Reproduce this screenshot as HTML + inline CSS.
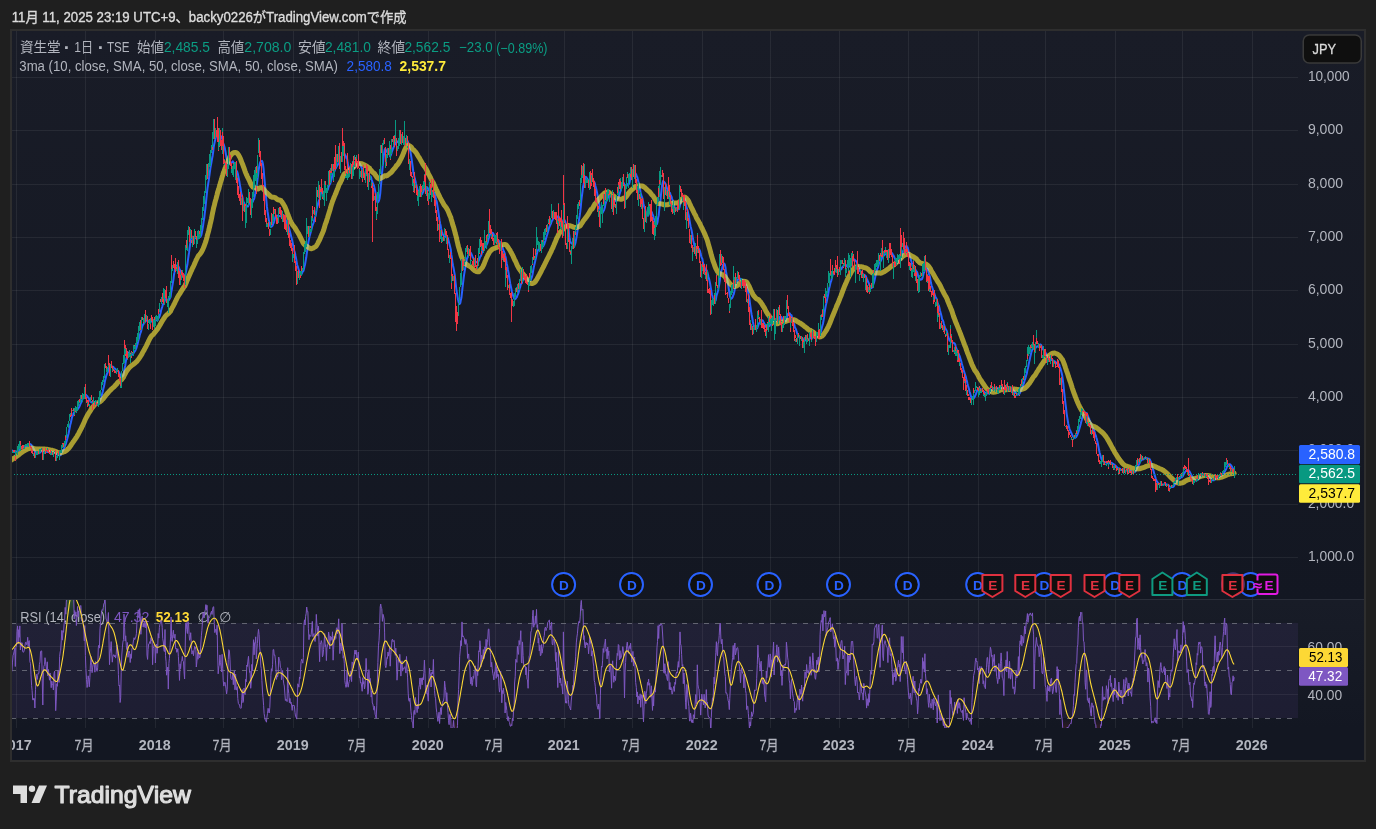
<!DOCTYPE html>
<html><head><meta charset="utf-8"><title>資生堂 chart</title>
<style>
html,body{margin:0;padding:0;background:#1f1f1f;width:1376px;height:829px;overflow:hidden;position:relative}
.panel{position:absolute;left:10px;top:29px;width:1352px;height:729px;border:2px solid #2e2e2e;background:#131722}
.u{stroke:#089981}.d{stroke:#f23645}
.logo{position:absolute;left:12px;top:784px}
</style></head><body>
<div class="panel"></div>
<svg width="1376" height="829" viewBox="0 0 1376 829" style="position:absolute;left:0;top:0">
<defs>
<linearGradient id="gm" x1="0" y1="0" x2="0" y2="1"><stop offset="0" stop-color="#191c27"/><stop offset="1" stop-color="#131722"/></linearGradient>
<linearGradient id="gr" x1="0" y1="0" x2="0" y2="1"><stop offset="0" stop-color="#181c27"/><stop offset="1" stop-color="#131722"/></linearGradient>
<linearGradient id="gob" gradientUnits="userSpaceOnUse" x1="0" y1="552.1" x2="0" y2="623.4"><stop offset="0" stop-color="#4caf50" stop-opacity="1"/><stop offset="1" stop-color="#4caf50" stop-opacity="0"/></linearGradient>
<linearGradient id="gos" gradientUnits="userSpaceOnUse" x1="0" y1="718.5" x2="0" y2="789.8"><stop offset="0" stop-color="#f23645" stop-opacity="0"/><stop offset="1" stop-color="#f23645" stop-opacity="1"/></linearGradient>
<clipPath id="cm"><rect x="12" y="31" width="1286" height="568"/></clipPath>
<clipPath id="ct"><rect x="12" y="729" width="1286" height="30"/></clipPath>
<clipPath id="cr"><rect x="12" y="600" width="1286" height="128"/></clipPath>
</defs>
<rect x="12" y="31" width="1352" height="568" fill="url(#gm)"/>
<rect x="12" y="600" width="1352" height="129" fill="url(#gr)"/>
<rect x="12" y="729" width="1352" height="30" fill="#131722"/>
<rect x="12" y="599" width="1352" height="1" fill="#2a2e39"/>
<path d="M16.5 31V599M16.5 600V728M85.5 31V599M85.5 600V728M155.5 31V599M155.5 600V728M223.5 31V599M223.5 600V728M293.5 31V599M293.5 600V728M358.5 31V599M358.5 600V728M428.5 31V599M428.5 600V728M495.5 31V599M495.5 600V728M564.5 31V599M564.5 600V728M632.5 31V599M632.5 600V728M702.5 31V599M702.5 600V728M770.5 31V599M770.5 600V728M839.5 31V599M839.5 600V728M908.5 31V599M908.5 600V728M978.5 31V599M978.5 600V728M1045.5 31V599M1045.5 600V728M1115.5 31V599M1115.5 600V728M1182.5 31V599M1182.5 600V728M1252.5 31V599M1252.5 600V728" stroke="#ffffff" stroke-opacity="0.065" stroke-width="1" fill="none" shape-rendering="crispEdges"/>
<path d="M12 77.5H1298M12 130.5H1298M12 184.5H1298M12 237.5H1298M12 290.5H1298M12 344.5H1298M12 397.5H1298M12 450.5H1298M12 504.5H1298M12 557.5H1298M12 646.5H1298M12 694.5H1298" stroke="#ffffff" stroke-opacity="0.065" stroke-width="1" fill="none" shape-rendering="crispEdges"/>
<g clip-path="url(#cm)">
<path d="M10.3 449.2L10.8 449.5L11.4 450.1L12 450.5L12.5 451.1L13.1 451.3L13.6 451.5L14.2 451.7L14.8 451.7L15.3 452.1L15.9 451.7L16.5 452L17 451.5L17.6 450.9L18.1 450.7L18.7 450.3L19.3 449.9L19.8 449.1L20.4 448.9L20.9 447.9L21.5 447.4L22.1 446.8L22.6 446.7L23.2 446.8L23.7 446.5L24.3 446.6L24.9 446.4L25.4 446.6L26 446.1L26.5 445.9L27.1 445.7L27.7 445.4L28.2 445.1L28.8 444.6L29.3 444.1L29.9 444.1L30.5 444.2L31 444.6L31.6 445.2L32.1 446L32.7 446.9L33.3 448.1L33.8 449.1L34.4 450.2L34.9 451.6L35.5 452.4L36.1 453L36.6 453.4L37.2 453.6L37.7 453.6L38.3 453.4L38.9 453.2L39.4 452.9L40 452.6L40.5 451.9L41.1 451.4L41.7 451L42.2 451.1L42.8 451.7L43.4 451.9L43.9 451.9L44.5 451.8L45 451.6L45.6 451.6L46.2 451.7L46.7 452L47.3 452L47.8 452L48.4 451.1L49 450.9L49.5 451L50.1 451L50.6 451.3L51.2 451.6L51.8 451.8L52.3 451.9L52.9 452.3L53.4 452.5L54 452.6L54.6 452.5L55.1 452.6L55.7 453.4L56.2 454.1L56.8 454.4L57.4 454.8L57.9 454.9L58.5 455L59 455.3L59.6 455.4L60.2 455.3L60.7 455.1L61.3 453.8L61.8 452.5L62.4 451.6L63 450.5L63.5 449.6L64.1 448.4L64.6 446.9L65.2 445.3L65.8 444L66.3 442.3L66.9 440.2L67.4 438.2L68 435.8L68.6 433.4L69.1 430.7L69.7 427.8L70.2 425.1L70.8 423L71.4 420.1L71.9 417.7L72.5 416.1L73.1 414.6L73.6 413.1L74.2 412.4L74.7 411.5L75.3 411.1L75.9 410.5L76.4 410.2L77 410.1L77.5 409.3L78.1 408.7L78.7 407.8L79.2 407L79.8 405.6L80.3 404.3L80.9 402.9L81.5 401.9L82 400.3L82.6 398.9L83.1 398.2L83.7 397.2L84.3 396.7L84.8 395.4L85.4 394.8L85.9 394.8L86.5 395.4L87.1 395.9L87.6 396.8L88.2 397.5L88.7 398.3L89.3 399.5L89.9 400.3L90.4 401.6L91 402L91.5 402.2L92.1 402.5L92.7 402.3L93.2 402.1L93.8 402.2L94.3 402.1L94.9 401.9L95.5 401.6L96 401.8L96.6 402.5L97.1 403L97.7 403.1L98.3 402.7L98.8 402.3L99.4 402L100 401L100.5 399.6L101.1 398L101.6 396.1L102.2 393.8L102.8 391.5L103.3 389L103.9 386.7L104.4 384.4L105 380.9L105.6 378.5L106.1 376.4L106.7 374.7L107.2 373.4L107.8 372L108.4 369.8L108.9 368.2L109.5 368L110 367.3L110.6 367.4L111.2 366.8L111.7 366.5L112.3 366.6L112.8 366.7L113.4 366.9L114 368L114.5 368.8L115.1 368.6L115.6 369.1L116.2 369.7L116.8 370.4L117.3 370.7L117.9 370.7L118.4 371.2L119 372.2L119.6 373.2L120.1 374.7L120.7 376.2L121.2 376.8L121.8 376.7L122.4 376.5L122.9 376L123.5 375.2L124 371.8L124.6 368.5L125.2 365.9L125.7 362.2L126.3 359.2L126.8 357L127.4 355.1L128 354.2L128.5 353.2L129.1 352.3L129.7 353.5L130.2 354.6L130.8 354.6L131.3 355.2L131.9 354.9L132.5 354.4L133 354.2L133.6 353.1L134.1 352.2L134.7 351.5L135.3 350.7L135.8 349.3L136.4 348.1L136.9 346.2L137.5 344.3L138.1 341.9L138.6 339.6L139.2 337.8L139.7 335.5L140.3 333.4L140.9 331.9L141.4 330L142 327.6L142.5 325.8L143.1 324.6L143.7 323.9L144.2 323.2L144.8 322.1L145.3 321.6L145.9 321L146.5 319.5L147 319.5L147.6 320.5L148.1 321L148.7 320.9L149.3 321L149.8 321L150.4 321.3L150.9 321.4L151.5 321.4L152.1 321.7L152.6 321.8L153.2 321.1L153.7 320.6L154.3 320.5L154.9 320.3L155.4 320.7L156 320.4L156.6 320.2L157.1 320.3L157.7 320.2L158.2 318.7L158.8 317.9L159.4 316.6L159.9 315.1L160.5 313.3L161 310.8L161.6 308.8L162.2 307L162.7 305.1L163.3 303.5L163.8 302.7L164.4 301.7L165 300L165.5 299.2L166.1 298.9L166.6 299.3L167.2 299.7L167.8 299.8L168.3 300.6L168.9 300.1L169.4 299.3L170 297.9L170.6 297L171.1 293.1L171.7 290.1L172.2 286.8L172.8 283.3L173.4 279.6L173.9 275.3L174.5 272.2L175 268.9L175.6 267L176.2 265.5L176.7 266.7L177.3 266.6L177.8 266L178.4 266.3L179 267.6L179.5 269.3L180.1 270.1L180.6 271.7L181.2 272.2L181.8 272.9L182.3 273.3L182.9 274L183.5 275.1L184 276.3L184.6 277.5L185.1 276.3L185.7 273.4L186.3 270L186.8 267.2L187.4 264.5L187.9 260.5L188.5 256.1L189.1 252.2L189.6 248.1L190.2 243.2L190.7 239.2L191.3 238.4L191.9 238.2L192.4 237.6L193 236.6L193.5 237.5L194.1 238.2L194.7 238L195.2 237.6L195.8 237.3L196.3 238.7L196.9 239.1L197.5 238.5L198 238.4L198.6 237.9L199.1 237.3L199.7 237.1L200.3 237L200.8 236.2L201.4 234.9L201.9 232.2L202.5 229L203.1 225.4L203.6 221.5L204.2 218.3L204.7 214L205.3 209.2L205.9 203.4L206.4 198.3L207 192.7L207.5 188.1L208.1 184.3L208.7 180.7L209.2 176.8L209.8 172.6L210.3 168.9L210.9 165.2L211.5 162.1L212 159L212.6 156L213.2 151.6L213.7 147.1L214.3 144L214.8 141.5L215.4 139L216 136.8L216.5 135L217.1 132.5L217.6 131.1L218.2 132.1L218.8 133.4L219.3 135L219.9 135.2L220.4 135.5L221 136.5L221.6 138.3L222.1 138.4L222.7 140.8L223.2 143L223.8 144.6L224.4 146.5L224.9 148.6L225.5 151.8L226 154.8L226.6 158L227.2 160.6L227.7 163.7L228.3 164.9L228.8 164.3L229.4 162.9L230 162.2L230.5 162.4L231.1 162.7L231.6 162.7L232.2 162.2L232.8 161.4L233.3 162.2L233.9 163.3L234.4 164.8L235 167.7L235.6 168.8L236.1 170L236.7 171L237.2 171.8L237.8 173.8L238.4 176.8L238.9 179.2L239.5 182.3L240.1 186.1L240.6 188.8L241.2 192.6L241.7 195.1L242.3 196.8L242.9 199.8L243.4 201.8L244 202.6L244.5 203.8L245.1 205.4L245.7 206L246.2 206.6L246.8 206.3L247.3 206.4L247.9 206.5L248.5 205.1L249 203.8L249.6 203.6L250.1 202.7L250.7 202.6L251.3 202.9L251.8 201.9L252.4 202.3L252.9 201.5L253.5 199.7L254.1 199L254.6 196.7L255.2 194L255.7 190.5L256.3 187.5L256.9 183.9L257.4 180.5L258 175.6L258.5 170.7L259.1 167.5L259.7 164.2L260.2 162.3L260.8 161.4L261.3 161.5L261.9 160.8L262.5 162L263 164.4L263.6 168.9L264.1 175.3L264.7 181.9L265.3 188.3L265.8 194.6L266.4 200.7L266.9 206.4L267.5 211.2L268.1 214.9L268.6 218.6L269.2 222.1L269.8 224.6L270.3 226.4L270.9 226.7L271.4 226.7L272 226.2L272.6 225.6L273.1 224.2L273.7 222.9L274.2 221.3L274.8 218.9L275.4 216.8L275.9 215.4L276.5 215.6L277 215.8L277.6 215.8L278.2 215.8L278.7 215.9L279.3 216.1L279.8 216L280.4 216.3L281 216.3L281.5 216.5L282.1 215.8L282.6 215.1L283.2 214.9L283.8 215.1L284.3 216.1L284.9 217.4L285.4 219.2L286 220.7L286.6 222.3L287.1 223.6L287.7 224L288.2 225.7L288.8 227.4L289.4 229.6L289.9 231.6L290.5 233.8L291 235.7L291.6 237.9L292.2 240.6L292.7 242.9L293.3 246.4L293.8 248.8L294.4 251L295 253L295.5 255.8L296.1 258.6L296.7 262.1L297.2 265L297.8 266.6L298.3 268.4L298.9 270.4L299.5 272.1L300 273.8L300.6 274.7L301.1 274.5L301.7 273.8L302.3 272.5L302.8 271.6L303.4 271.1L303.9 269.2L304.5 266.5L305.1 264.2L305.6 261.1L306.2 257.8L306.7 254L307.3 250.2L307.9 246.1L308.4 242.2L309 239L309.5 236.5L310.1 234.5L310.7 232.3L311.2 230.4L311.8 228.2L312.3 226.1L312.9 224.5L313.5 223L314 220.9L314.6 218.8L315.1 217.2L315.7 215.6L316.3 211.7L316.8 208.5L317.4 206.2L317.9 204.8L318.5 202L319.1 200.1L319.6 199.3L320.2 196.8L320.7 194.2L321.3 191.7L321.9 191.6L322.4 192L323 192.2L323.6 191.8L324.1 192.1L324.7 190.9L325.2 189.5L325.8 189.4L326.4 190.2L326.9 190.4L327.5 190.2L328 189L328.6 186.8L329.2 185.1L329.7 184.5L330.3 183.4L330.8 181.7L331.4 179.8L332 177L332.5 174.5L333.1 173.9L333.6 172.9L334.2 171.7L334.8 170.6L335.3 168.7L335.9 168.2L336.4 166.9L337 165.9L337.6 165L338.1 164.4L338.7 161.2L339.2 159.3L339.8 160L340.4 159.7L340.9 159.2L341.5 158.8L342 155.9L342.6 154.7L343.2 153.9L343.7 152.9L344.3 153.4L344.8 154.8L345.4 155.3L346 156.7L346.5 158.5L347.1 158.5L347.6 162.8L348.2 165.7L348.8 167.4L349.3 169.6L349.9 171.3L350.4 170.8L351 170.1L351.6 170.2L352.1 169.1L352.7 169.6L353.3 169.4L353.8 168.6L354.4 167.8L354.9 166.8L355.5 166.1L356.1 165.6L356.6 165.2L357.2 164L357.7 163.9L358.3 163.1L358.9 162.6L359.4 163L360 163.8L360.5 165.3L361.1 166.3L361.7 167.9L362.2 169.4L362.8 170.1L363.3 171.4L363.9 173.1L364.5 174.5L365 175.2L365.6 175.4L366.1 174.5L366.7 174.4L367.3 174.1L367.8 174.8L368.4 176.2L368.9 175.9L369.5 176.5L370.1 176.3L370.6 176.4L371.2 177.9L371.7 179.7L372.3 181.6L372.9 183.5L373.4 184.3L374 185.6L374.5 188L375.1 190.6L375.7 193.9L376.2 197.6L376.8 200L377.3 202.1L377.9 202.4L378.5 201.7L379 200.5L379.6 198.2L380.2 193.8L380.7 187.9L381.3 181.9L381.8 175.2L382.4 169.4L383 163.5L383.5 158.2L384.1 153.7L384.6 149.8L385.2 148.6L385.8 149.8L386.3 151.2L386.9 151.7L387.4 152.4L388 152L388.6 153L389.1 154L389.7 154.8L390.2 156.4L390.8 155.2L391.4 153.6L391.9 151.5L392.5 150.1L393 148.7L393.6 147.5L394.2 145.8L394.7 144.6L395.3 144.2L395.8 141.9L396.4 140.9L397 141.3L397.5 142.1L398.1 141.8L398.6 141.5L399.2 141.5L399.8 141.1L400.3 140.8L400.9 140.9L401.4 140.9L402 140.2L402.6 138.9L403.1 137.9L403.7 138.2L404.2 138.4L404.8 138.5L405.4 139.5L405.9 140.2L406.5 139.5L407 139.9L407.6 141.2L408.2 142.7L408.7 144.9L409.3 147.1L409.9 149.2L410.4 151.8L411 154.9L411.5 158.1L412.1 162.7L412.7 166.8L413.2 171.2L413.8 174.1L414.3 176.4L414.9 179.1L415.5 181.3L416 183.7L416.6 185.7L417.1 188.2L417.7 189.8L418.3 191.8L418.8 192.2L419.4 193L419.9 193.4L420.5 193.9L421.1 194.3L421.6 194.2L422.2 194L422.7 192.7L423.3 191.7L423.9 189.8L424.4 187.9L425 186.8L425.5 187.1L426.1 186.9L426.7 187L427.2 187.4L427.8 188.1L428.3 189.7L428.9 190.3L429.5 190.5L430 191.9L430.6 192.8L431.1 193.7L431.7 193.7L432.3 194.2L432.8 194.3L433.4 193L433.9 192.3L434.5 193.4L435.1 195.6L435.6 197.5L436.2 200L436.8 201.9L437.3 205.1L437.9 208.8L438.4 212.2L439 216.3L439.6 220.5L440.1 223.5L440.7 225.8L441.2 229L441.8 231.3L442.4 233.2L442.9 234.5L443.5 235.3L444 236.2L444.6 236.6L445.2 236.1L445.7 236.2L446.3 237.2L446.8 236.8L447.4 237.5L448 238.6L448.5 240.5L449.1 242.7L449.6 244.5L450.2 246.9L450.8 249.4L451.3 254.4L451.9 258L452.4 262.1L453 265.5L453.6 268.2L454.1 271.1L454.7 274.4L455.2 279.2L455.8 284.4L456.4 289.8L456.9 292.9L457.5 296.6L458 299.5L458.6 301.9L459.2 303.9L459.7 303.9L460.3 303L460.8 300.4L461.4 297.8L462 292.5L462.5 287.8L463.1 282.8L463.6 278.4L464.2 274.1L464.8 270.5L465.3 267.6L465.9 264.3L466.5 261.5L467 258.2L467.6 257.6L468.1 255.8L468.7 254.2L469.3 253.1L469.8 252.4L470.4 252.5L470.9 253L471.5 254L472.1 255.5L472.6 257.1L473.2 257.9L473.7 259L474.3 260.2L474.9 260.9L475.4 261.2L476 261.7L476.5 262.2L477.1 262.2L477.7 262.2L478.2 261.7L478.8 260.7L479.3 259.5L479.9 257.7L480.5 256.2L481 255.9L481.6 253.9L482.1 252L482.7 250.9L483.3 248.9L483.8 248L484.4 247.7L484.9 246.9L485.5 247L486.1 246.1L486.6 244.7L487.2 243.7L487.7 242.3L488.3 240L488.9 237.9L489.4 236.1L490 234.3L490.5 233.4L491.1 232.9L491.7 232.9L492.2 232.7L492.8 233L493.4 233.6L493.9 235.2L494.5 236.8L495 237.7L495.6 238.2L496.2 239.2L496.7 239.1L497.3 239.6L497.8 240.1L498.4 240.3L499 240.9L499.5 241.6L500.1 242.6L500.6 242.8L501.2 243.8L501.8 245.5L502.3 247.2L502.9 248.8L503.4 250.1L504 251.8L504.6 253L505.1 255.4L505.7 257.5L506.2 260.6L506.8 263.9L507.4 266.4L507.9 269.7L508.5 272.6L509 276.3L509.6 279.7L510.2 283.4L510.7 285.7L511.3 288.5L511.8 291.2L512.4 293.4L513 295.3L513.5 296.8L514.1 298.5L514.6 299L515.2 299.2L515.8 298.5L516.3 297.7L516.9 297L517.4 295.4L518 294.2L518.6 292.6L519.1 290.5L519.7 288.4L520.3 286.6L520.8 284.3L521.4 283.7L521.9 283L522.5 280.8L523.1 279.7L523.6 278.8L524.2 277.9L524.7 277.5L525.3 277.1L525.9 277.4L526.4 278L527 278L527.5 278.3L528.1 280.5L528.7 281.4L529.2 281.4L529.8 281.3L530.3 280.8L530.9 279.7L531.5 278.2L532 276.9L532.6 274.2L533.1 271L533.7 267.8L534.3 265.1L534.8 263.1L535.4 260.3L535.9 258.2L536.5 255.3L537.1 253.1L537.6 250.8L538.2 249.9L538.7 249.1L539.3 248.2L539.9 247.1L540.4 246.5L541 246.5L541.5 245.6L542.1 246.4L542.7 246.3L543.2 246.4L543.8 245.1L544.3 244.2L544.9 242.2L545.5 240.6L546 238.6L546.6 236.4L547.1 235L547.7 232.8L548.3 230.8L548.8 228.6L549.4 227L550 225.6L550.5 224.5L551.1 223.3L551.6 221.5L552.2 220.4L552.8 219.4L553.3 218.4L553.9 217.5L554.4 216.8L555 216.3L555.6 216L556.1 215.7L556.7 216.1L557.2 216.8L557.8 217.7L558.4 216.5L558.9 217.1L559.5 217.9L560 219.2L560.6 220L561.2 220.9L561.7 222.2L562.3 223.3L562.8 224.8L563.4 219.9L564 219.8L564.5 219.9L565.1 221.1L565.6 222.9L566.2 225L566.8 226.9L567.3 226.1L567.9 225.9L568.4 226.4L569 233.3L569.6 237.7L570.1 240.7L570.7 242.5L571.2 243L571.8 243.4L572.4 243.4L572.9 245.6L573.5 247.4L574 246.9L574.6 245.5L575.2 243.9L575.7 241.7L576.3 238.3L576.9 234.9L577.4 231.4L578 227.5L578.5 223.6L579.1 219.1L579.7 215.9L580.2 212.2L580.8 206.8L581.3 200.8L581.9 196.2L582.5 191.6L583 187L583.6 184.5L584.1 181.9L584.7 180.2L585.3 178.5L585.8 176.9L586.4 177.1L586.9 178.4L587.5 179L588.1 180.2L588.6 182.1L589.2 182L589.7 181.6L590.3 181L590.9 180.1L591.4 180.5L592 180.4L592.5 180.3L593.1 180.7L593.7 181.2L594.2 181.9L594.8 183.2L595.3 185.4L595.9 187.7L596.5 190.1L597 192.4L597.6 195.5L598.1 198.7L598.7 201.4L599.3 204.4L599.8 207.8L600.4 210.2L600.9 211.7L601.5 212.2L602.1 212.9L602.6 212.7L603.2 211.6L603.8 210.6L604.3 209.3L604.9 207.4L605.4 204.2L606 202.2L606.6 200.7L607.1 200.1L607.7 198.4L608.2 197.2L608.8 196.2L609.4 195.9L609.9 195.8L610.5 195.6L611 196.1L611.6 197.1L612.2 196.9L612.7 196.1L613.3 197L613.8 198.2L614.4 199.4L615 199.9L615.5 200.7L616.1 201.3L616.6 201L617.2 199.3L617.8 199L618.3 198.1L618.9 196.4L619.4 194.7L620 192.7L620.6 190.9L621.1 188.9L621.7 187.1L622.2 185.7L622.8 184.4L623.4 183.2L623.9 183.3L624.5 185.7L625 186.3L625.6 186.9L626.2 186.4L626.7 185.6L627.3 184.6L627.8 184.1L628.4 184.4L629 183.9L629.5 182.8L630.1 179.6L630.6 177.4L631.2 176L631.8 175.9L632.3 175.6L632.9 175.1L633.5 174.9L634 173.8L634.6 173L635.1 173L635.7 173.6L636.3 174.9L636.8 176.5L637.4 177.4L637.9 179.7L638.5 182.4L639.1 184.4L639.6 187.3L640.2 190L640.7 193.3L641.3 195.1L641.9 197L642.4 198.1L643 201L643.5 204L644.1 206.5L644.7 208L645.2 209.4L645.8 212L646.3 212.9L646.9 214.2L647.5 214.8L648 215.7L648.6 214.5L649.1 212.7L649.7 211.5L650.3 212.2L650.8 213L651.4 211.9L651.9 212.3L652.5 214L653.1 215.5L653.6 217.8L654.2 219.7L654.7 221.2L655.3 223.6L655.9 224.4L656.4 224.4L657 223.9L657.5 222.3L658.1 217.9L658.7 215.2L659.2 210L659.8 205.7L660.4 201.2L660.9 195.6L661.5 190.5L662 186L662.6 183.1L663.2 180.8L663.7 182L664.3 182.1L664.8 182.7L665.4 183.7L666 185.2L666.5 186.7L667.1 188.8L667.6 191L668.2 191.5L668.8 192.3L669.3 192.7L669.9 192.7L670.4 194.4L671 195.7L671.6 197L672.1 198.8L672.7 200.4L673.2 201.8L673.8 204.6L674.4 207L674.9 207.9L675.5 209.3L676 209.6L676.6 209.9L677.2 210L677.7 209.5L678.3 208.8L678.8 208.5L679.4 207.8L680 205.2L680.5 203.4L681.1 201.4L681.6 200.1L682.2 199.3L682.8 198.3L683.3 198.4L683.9 198.3L684.4 198.1L685 199L685.6 202.2L686.1 205.7L686.7 207.7L687.2 209.4L687.8 211.5L688.4 214.1L688.9 216.1L689.5 220.1L690.1 223.7L690.6 226.5L691.2 228.7L691.7 230.9L692.3 234.4L692.9 238.3L693.4 241L694 243.4L694.5 245.9L695.1 246.6L695.7 246.9L696.2 248.4L696.8 249.6L697.3 248.3L697.9 248.5L698.5 248.6L699 249L699.6 250.3L700.1 251.3L700.7 254.1L701.3 256.6L701.8 257.7L702.4 258.9L702.9 262.3L703.5 264.6L704.1 265.9L704.6 267.7L705.2 269.4L705.7 270.7L706.3 269.8L706.9 270.9L707.4 272.3L708 274.7L708.5 277L709.1 279L709.7 281.8L710.2 284.1L710.8 287.9L711.3 291L711.9 294.5L712.5 296.3L713 298.9L713.6 299.7L714.1 300L714.7 301.2L715.3 301L715.8 300.1L716.4 296.2L717 294L717.5 292.6L718.1 290.5L718.6 287.7L719.2 284.7L719.8 280.8L720.3 275.7L720.9 272.7L721.4 270.6L722 268.8L722.6 266.5L723.1 264.5L723.7 263.6L724.2 263.4L724.8 264.4L725.4 266.9L725.9 271.1L726.5 274.3L727 277.3L727.6 281.2L728.2 285L728.7 288.4L729.3 292.5L729.8 295.6L730.4 297.6L731 298.9L731.5 298.6L732.1 298L732.6 297.2L733.2 295.4L733.8 294L734.3 291.8L734.9 288.5L735.4 286.3L736 284.5L736.6 283L737.1 281.5L737.7 280.1L738.2 279L738.8 279L739.4 278.2L739.9 278.4L740.5 279.5L741 279.5L741.6 279.3L742.2 279.7L742.7 280.3L743.3 281.1L743.9 282.4L744.4 282.7L745 283.3L745.5 284.1L746.1 284.5L746.7 286.3L747.2 288.4L747.8 290.4L748.3 292.8L748.9 295.8L749.5 299.4L750 303.5L750.6 307.8L751.1 311.6L751.7 315L752.3 318L752.8 321.2L753.4 324.3L753.9 326.5L754.5 328L755.1 328.2L755.6 328.8L756.2 328.7L756.7 328.6L757.3 328.2L757.9 326.3L758.4 324.9L759 323.4L759.5 322.7L760.1 322.4L760.7 321.7L761.2 320.7L761.8 320.2L762.3 320.3L762.9 320.7L763.5 322.1L764 322.8L764.6 324.2L765.1 325.3L765.7 326.5L766.3 327.1L766.8 328.1L767.4 328L767.9 327.4L768.5 326.5L769.1 326.1L769.6 325.8L770.2 324.3L770.7 322.9L771.3 322.1L771.9 321.8L772.4 321.5L773 320.8L773.6 319.5L774.1 321L774.7 321.1L775.2 320.9L775.8 321.3L776.4 321.3L776.9 319.6L777.5 319.7L778 319.2L778.6 318.6L779.2 319L779.7 317.2L780.3 316.5L780.8 316.9L781.4 317L782 318.4L782.5 319.8L783.1 319.4L783.6 319.6L784.2 320.4L784.8 320.9L785.3 321.3L785.9 321.3L786.4 319.2L787 317.5L787.6 315.3L788.1 313.7L788.7 313.4L789.2 313.2L789.8 313.4L790.4 314.6L790.9 315L791.5 315.2L792 317.2L792.6 319.3L793.2 321.2L793.7 323.1L794.3 324.6L794.8 326.6L795.4 328.4L796 329.3L796.5 331.1L797.1 333L797.6 334.3L798.2 335.1L798.8 336L799.3 337.4L799.9 337.8L800.5 337.7L801 337.7L801.6 337.5L802.1 337.8L802.7 338.6L803.3 339.2L803.8 340L804.4 340.6L804.9 340L805.5 340.2L806.1 340.5L806.6 340.2L807.2 340.4L807.7 340.1L808.3 339.4L808.9 339.3L809.4 338.9L810 338L810.5 337.9L811.1 338.3L811.7 338.2L812.2 338.4L812.8 337.7L813.3 337.2L813.9 337.1L814.5 336.7L815 336.9L815.6 337.5L816.1 337.8L816.7 337.1L817.3 336.6L817.8 336.1L818.4 336.2L818.9 336.5L819.5 336.2L820.1 334.9L820.6 332.8L821.2 330.4L821.7 328.2L822.3 325.9L822.9 324L823.4 321.3L824 317.7L824.5 313.7L825.1 309.6L825.7 306.1L826.2 303.9L826.8 301.4L827.3 298.5L827.9 295.8L828.5 292.1L829 289.1L829.6 286.8L830.2 284.1L830.7 282.1L831.3 280.6L831.8 278.1L832.4 275.7L833 274.1L833.5 272.9L834.1 272.2L834.6 271.8L835.2 270.7L835.8 270.3L836.3 270L836.9 269.8L837.4 269.6L838 270.4L838.6 270.5L839.1 270.2L839.7 270.3L840.2 269.6L840.8 269.6L841.4 269L841.9 267.9L842.5 267.1L843 266.7L843.6 265.7L844.2 265L844.7 264.1L845.3 264.5L845.8 264.8L846.4 265.6L847 266.4L847.5 266.5L848.1 267.2L848.6 266.6L849.2 266.6L849.8 266.3L850.3 266.7L850.9 265.3L851.4 263.8L852 262.2L852.6 260.8L853.1 260.3L853.7 259.2L854.2 259.5L854.8 259.8L855.4 260.7L855.9 261L856.5 261.5L857.1 262.9L857.6 264.7L858.2 266.5L858.7 268.2L859.3 269.8L859.9 270.9L860.4 271.3L861 271.3L861.5 272L862.1 273L862.7 273.8L863.2 274.4L863.8 274.6L864.3 275L864.9 275.2L865.5 275.7L866 276.7L866.6 278.3L867.1 279.4L867.7 280.8L868.3 282.3L868.8 283.2L869.4 285.1L869.9 286.4L870.5 287.1L871.1 287.6L871.6 288.1L872.2 286.9L872.7 285.9L873.3 284.5L873.9 282.9L874.4 281L875 278.3L875.5 275.8L876.1 273.7L876.7 271.3L877.2 269.1L877.8 267.9L878.3 266.1L878.9 264L879.5 262.4L880 262.3L880.6 261.3L881.1 260.3L881.7 258.8L882.3 257L882.8 256.3L883.4 256L884 255.3L884.5 255L885.1 254.1L885.6 252.4L886.2 252.1L886.8 251.9L887.3 252.5L887.9 254.1L888.4 253.6L889 252.5L889.6 252L890.1 252.2L890.7 252.6L891.2 252.6L891.8 253L892.4 253.7L892.9 255L893.5 255.4L894 256.4L894.6 257.8L895.2 259.2L895.7 260.3L896.3 261.4L896.8 262.3L897.4 262.8L898 262.5L898.5 261.3L899.1 260.7L899.6 260.2L900.2 260.3L900.8 260L901.3 257.3L901.9 255.4L902.4 254L903 251.1L903.6 249.9L904.1 249L904.7 248.4L905.2 247.9L905.8 246.8L906.4 245.7L906.9 246.6L907.5 247.5L908 248.7L908.6 251.8L909.2 254L909.7 256.1L910.3 257.5L910.8 259.3L911.4 261.4L912 264.1L912.5 266.1L913.1 266.8L913.7 267.9L914.2 268.8L914.8 268.7L915.3 269.4L915.9 270.5L916.5 271.4L917 271.9L917.6 273.8L918.1 275.8L918.7 277.6L919.3 278.6L919.8 278.9L920.4 279.7L920.9 279.5L921.5 279.5L922.1 279L922.6 277.4L923.2 275.3L923.7 273L924.3 272.1L924.9 269.8L925.4 268.9L926 268.3L926.5 268.8L927.1 268.7L927.7 269.1L928.2 271.2L928.8 273.2L929.3 275L929.9 276.8L930.5 280.2L931 283.1L931.6 285.6L932.1 286.9L932.7 288.8L933.3 291.3L933.8 292.4L934.4 293.4L934.9 295.4L935.5 296.9L936.1 298.1L936.6 298.7L937.2 301.3L937.7 303.5L938.3 304.7L938.9 305.8L939.4 307.8L940 310.5L940.6 312.8L941.1 314.6L941.7 317.1L942.2 319.6L942.8 320.2L943.4 321.9L943.9 324L944.5 326L945 327.9L945.6 328.8L946.2 329.7L946.7 330.8L947.3 332.9L947.8 335.5L948.4 337.4L949 338.9L949.5 340.7L950.1 340.2L950.6 340.6L951.2 340.5L951.8 341.3L952.3 342.5L952.9 342.7L953.4 342.7L954 343.2L954.6 343.5L955.1 344.3L955.7 346.6L956.2 348L956.8 349.6L957.4 351.4L957.9 352.4L958.5 353.4L959 354.8L959.6 355.9L960.2 357.9L960.7 359.5L961.3 361.4L961.8 363.5L962.4 365.6L963 367.4L963.5 370.1L964.1 371.5L964.6 373.1L965.2 375L965.8 376.8L966.3 379.2L966.9 381.1L967.4 383.4L968 385.8L968.6 387.8L969.1 389.5L969.7 392L970.3 393.9L970.8 395.9L971.4 397.7L971.9 398.3L972.5 398.9L973.1 398.8L973.6 398.3L974.2 397.6L974.7 396.8L975.3 395.5L975.9 394.2L976.4 392.7L977 391L977.5 389.9L978.1 389.2L978.7 388.8L979.2 388.9L979.8 388.8L980.3 389L980.9 389.3L981.5 389.7L982 390L982.6 390.4L983.1 390.9L983.7 391.5L984.3 392.1L984.8 392.4L985.4 393.2L985.9 393.4L986.5 393.6L987.1 393.5L987.6 393.5L988.2 393.5L988.7 393.4L989.3 393.1L989.9 392.3L990.4 391.4L991 390.4L991.5 389.9L992.1 389.4L992.7 389.3L993.2 389.2L993.8 388.8L994.3 388.1L994.9 387.9L995.5 387.8L996 387.8L996.6 388L997.2 388.1L997.7 388.4L998.3 388.4L998.8 388.3L999.4 388.5L1000 388.8L1000.5 388.6L1001.1 388.1L1001.6 387.9L1002.2 387.9L1002.8 387.8L1003.3 387.8L1003.9 388.2L1004.4 388.4L1005 388.2L1005.6 388.2L1006.1 388.2L1006.7 388.7L1007.2 388.5L1007.8 388.3L1008.4 388.2L1008.9 388.3L1009.5 387.5L1010 387.5L1010.6 387.9L1011.2 388L1011.7 388.2L1012.3 388.2L1012.8 389.3L1013.4 390.1L1014 390.7L1014.5 391.3L1015.1 392.4L1015.6 393.1L1016.2 393.2L1016.8 393.6L1017.3 394.3L1017.9 394.7L1018.4 394.3L1019 394.4L1019.6 393.7L1020.1 392.5L1020.7 391.3L1021.2 389.9L1021.8 389L1022.4 387.4L1022.9 385.7L1023.5 384.3L1024 382.9L1024.6 380.4L1025.2 378.9L1025.7 377.3L1026.3 375.1L1026.9 373.1L1027.4 370.2L1028 368L1028.5 365.4L1029.1 362.4L1029.7 359.7L1030.2 357.3L1030.8 354.7L1031.3 352.5L1031.9 350.7L1032.5 348.9L1033 348L1033.6 346.9L1034.1 348.1L1034.7 348.5L1035.3 348.1L1035.8 347.7L1036.4 346.9L1036.9 346.5L1037.5 346.3L1038.1 346.4L1038.6 346.4L1039.2 346.6L1039.7 345.2L1040.3 344.4L1040.9 344.6L1041.4 345.6L1042 347.2L1042.5 348.6L1043.1 349.6L1043.7 350L1044.2 350.9L1044.8 351.4L1045.3 352.3L1045.9 353.5L1046.5 354.9L1047 356L1047.6 356.3L1048.1 356.7L1048.7 357.4L1049.3 358.6L1049.8 359.4L1050.4 359.8L1050.9 359.9L1051.5 359.9L1052.1 359.9L1052.6 360.1L1053.2 360.7L1053.8 361L1054.3 361.2L1054.9 361.5L1055.4 361.8L1056 362.5L1056.6 363.4L1057.1 363.7L1057.7 364L1058.2 363.8L1058.8 364.2L1059.4 365L1059.9 367L1060.5 368.6L1061 370.4L1061.6 372.7L1062.2 375.3L1062.7 379.4L1063.3 383.7L1063.8 388.8L1064.4 394L1065 399.5L1065.5 403.8L1066.1 408.6L1066.6 413.3L1067.2 417.1L1067.8 420.9L1068.3 423.9L1068.9 426.4L1069.4 428.5L1070 430.2L1070.6 431.3L1071.1 432.6L1071.7 433.7L1072.2 435L1072.8 436.2L1073.4 437L1073.9 437.4L1074.5 437.8L1075 437.8L1075.6 437.5L1076.2 437L1076.7 436.1L1077.3 435L1077.8 433.7L1078.4 432L1079 430.1L1079.5 428.2L1080.1 426.2L1080.7 424L1081.2 421.9L1081.8 419.8L1082.3 417.7L1082.9 415.8L1083.5 414.3L1084 413.2L1084.6 412.5L1085.1 412.7L1085.7 413L1086.3 413.1L1086.8 413.3L1087.4 414.7L1087.9 415.9L1088.5 417.4L1089.1 418.5L1089.6 420L1090.2 421.5L1090.7 422.7L1091.3 423.9L1091.9 425.5L1092.4 427.3L1093 428.3L1093.5 429.2L1094.1 430.5L1094.7 432.3L1095.2 434L1095.8 435.6L1096.3 437.5L1096.9 439.4L1097.5 442L1098 444.5L1098.6 447.4L1099.1 450.3L1099.7 452.9L1100.3 455.1L1100.8 456.9L1101.4 459L1101.9 460.1L1102.5 460.5L1103.1 461.2L1103.6 461.8L1104.2 462L1104.7 462.2L1105.3 462.3L1105.9 462.4L1106.4 462.4L1107 462.3L1107.5 462.4L1108.1 463.5L1108.7 463.5L1109.2 463.3L1109.8 463.2L1110.4 462.9L1110.9 462.9L1111.5 462.8L1112 463.1L1112.6 463.5L1113.2 464.2L1113.7 464.1L1114.3 464.8L1114.8 465.1L1115.4 465.5L1116 466.2L1116.5 466.8L1117.1 467.4L1117.6 467.9L1118.2 468.4L1118.8 468.3L1119.3 468.6L1119.9 468.7L1120.4 469.2L1121 469.6L1121.6 469.9L1122.1 469.9L1122.7 470.4L1123.2 470.4L1123.8 470.1L1124.4 470.4L1124.9 470.8L1125.5 470.8L1126 470.6L1126.6 470.5L1127.2 470.5L1127.7 470.6L1128.3 470.6L1128.8 470.6L1129.4 470.9L1130 471L1130.5 471L1131.1 471.2L1131.6 471.7L1132.2 472L1132.8 472.2L1133.3 472.2L1133.9 472.2L1134.4 472.1L1135 471.8L1135.6 471.1L1136.1 470.4L1136.7 469.1L1137.3 467.6L1137.8 466.8L1138.4 465.8L1138.9 464.6L1139.5 463.5L1140.1 462L1140.6 461L1141.2 460.4L1141.7 459.6L1142.3 459.5L1142.9 459.6L1143.4 459L1144 458.7L1144.5 458.5L1145.1 458L1145.7 458.2L1146.2 458.3L1146.8 458.1L1147.3 458.3L1147.9 458.6L1148.5 458.7L1149 458.8L1149.6 459.2L1150.1 460.1L1150.7 461.4L1151.3 463.2L1151.8 465L1152.4 467L1152.9 469L1153.5 470.8L1154.1 472.9L1154.6 474.9L1155.2 476.7L1155.7 478.5L1156.3 480L1156.9 481.5L1157.4 482.3L1158 482.9L1158.5 483.5L1159.1 484.2L1159.7 484.6L1160.2 485L1160.8 485.1L1161.3 485.1L1161.9 485.1L1162.5 484.6L1163 484.5L1163.6 484.5L1164.2 484.4L1164.7 484.1L1165.3 483.9L1165.8 484.1L1166.4 484.4L1167 484.7L1167.5 484.7L1168.1 484.8L1168.6 485.3L1169.2 485.9L1169.8 486.6L1170.3 486.9L1170.9 487.2L1171.4 487.1L1172 487.1L1172.6 487L1173.1 486.9L1173.7 486.5L1174.2 485.4L1174.8 484.6L1175.4 483.6L1175.9 482.9L1176.5 482.1L1177 481.1L1177.6 480.5L1178.2 479.8L1178.7 479.1L1179.3 478.6L1179.8 478.4L1180.4 478L1181 477.4L1181.5 477L1182.1 476.8L1182.6 476.6L1183.2 475.3L1183.8 474.4L1184.3 473.3L1184.9 472.3L1185.4 471.4L1186 470.7L1186.6 470.3L1187.1 470.1L1187.7 469.9L1188.2 469.9L1188.8 470.7L1189.4 471.3L1189.9 472.2L1190.5 473.4L1191 474.4L1191.6 475.5L1192.2 476.4L1192.7 477.4L1193.3 478.2L1193.9 478.9L1194.4 479.5L1195 480L1195.5 480.5L1196.1 480.5L1196.7 480.5L1197.2 480.2L1197.8 479.9L1198.3 479.1L1198.9 478.5L1199.5 477.9L1200 477.2L1200.6 476.7L1201.1 476.1L1201.7 475.6L1202.3 475L1202.8 474.9L1203.4 474.6L1203.9 474.4L1204.5 474.5L1205.1 474.6L1205.6 474.8L1206.2 474.9L1206.7 475.1L1207.3 475.5L1207.9 475.9L1208.4 476.4L1209 477.1L1209.5 477.7L1210.1 478.1L1210.7 478.7L1211.2 479.4L1211.8 479.6L1212.3 480L1212.9 480.2L1213.5 480.2L1214 480.2L1214.6 479.8L1215.1 479.2L1215.7 479L1216.3 478.5L1216.8 478.1L1217.4 477.9L1217.9 477.7L1218.5 477.4L1219.1 477.2L1219.6 476.6L1220.2 476.2L1220.8 476.1L1221.3 475.9L1221.9 475.6L1222.4 475.1L1223 474.6L1223.6 473.7L1224.1 472.8L1224.7 471.6L1225.2 470.8L1225.8 469.8L1226.4 468.4L1226.9 466.9L1227.5 465.8L1228 465.1L1228.6 464.5L1229.2 464.2L1229.7 464.2L1230.3 464.6L1230.8 465L1231.4 465.8L1232 466.8L1232.5 467.9L1233.1 468.5L1233.6 469.2L1234.2 470.1" stroke="#2962ff" stroke-width="2" fill="none" stroke-linejoin="round"/>
<path d="M10.3 460.8L10.8 460.3L11.4 459.9L12 459.6L12.5 459.2L13.1 458.8L13.6 458.4L14.2 458L14.8 457.6L15.3 457.3L15.9 456.9L16.5 456.5L17 456.1L17.6 455.6L18.1 455.3L18.7 454.8L19.3 454.4L19.8 453.8L20.4 453.5L20.9 453L21.5 452.6L22.1 452.2L22.6 451.8L23.2 451.4L23.7 451.1L24.3 450.7L24.9 450.4L25.4 450.1L26 449.9L26.5 449.6L27.1 449.3L27.7 449L28.2 448.8L28.8 448.6L29.3 448.4L29.9 448.4L30.5 448.2L31 448.1L31.6 448L32.1 448.1L32.7 448.2L33.3 448.3L33.8 448.5L34.4 448.6L34.9 448.8L35.5 448.9L36.1 449L36.6 449.1L37.2 449.1L37.7 449.1L38.3 449L38.9 449.1L39.4 449.1L40 449L40.5 449L41.1 448.9L41.7 448.9L42.2 448.9L42.8 449.1L43.4 449.1L43.9 449.1L44.5 449.1L45 449.1L45.6 449.2L46.2 449.2L46.7 449.3L47.3 449.3L47.8 449.5L48.4 449.5L49 449.7L49.5 449.8L50.1 449.9L50.6 450L51.2 450.1L51.8 450.2L52.3 450.3L52.9 450.5L53.4 450.7L54 450.9L54.6 451L55.1 451.2L55.7 451.5L56.2 451.8L56.8 452.1L57.4 452.4L57.9 452.5L58.5 452.7L59 452.9L59.6 452.9L60.2 452.9L60.7 452.8L61.3 452.7L61.8 452.5L62.4 452.4L63 452.1L63.5 451.9L64.1 451.8L64.6 451.6L65.2 451.2L65.8 450.9L66.3 450.6L66.9 450.1L67.4 449.5L68 449L68.6 448.4L69.1 447.8L69.7 447.1L70.2 446.4L70.8 445.5L71.4 444.6L71.9 443.7L72.5 442.9L73.1 442.1L73.6 441.3L74.2 440.6L74.7 439.7L75.3 438.9L75.9 438.1L76.4 437.3L77 436.4L77.5 435.4L78.1 434.5L78.7 433.4L79.2 432.4L79.8 431.3L80.3 430.2L80.9 429.1L81.5 428L82 426.8L82.6 425.7L83.1 424.5L83.7 423.2L84.3 422L84.8 420.6L85.4 419.3L85.9 418.2L86.5 417.1L87.1 416.1L87.6 415.1L88.2 414.1L88.7 413.2L89.3 412.3L89.9 411.5L90.4 410.6L91 409.6L91.5 408.7L92.1 407.9L92.7 407.2L93.2 406.5L93.8 405.8L94.3 405.1L94.9 404.7L95.5 404.2L96 403.8L96.6 403.4L97.1 403.2L97.7 403L98.3 402.7L98.8 402.3L99.4 402.1L100 401.8L100.5 401.4L101.1 400.9L101.6 400.4L102.2 399.7L102.8 399.2L103.3 398.6L103.9 397.9L104.4 397.2L105 396.3L105.6 395.6L106.1 394.9L106.7 394.3L107.2 393.7L107.8 393L108.4 392.3L108.9 391.6L109.5 391.1L110 390.6L110.6 390L111.2 389.3L111.7 388.8L112.3 388.3L112.8 387.9L113.4 387.4L114 386.9L114.5 386.3L115.1 385.7L115.6 385L116.2 384.5L116.8 383.8L117.3 383L117.9 382.3L118.4 381.9L119 381.5L119.6 381.1L120.1 380.8L120.7 380.4L121.2 380L121.8 379.4L122.4 378.6L122.9 377.8L123.5 377.1L124 375.8L124.6 374.7L125.2 373.7L125.7 372.6L126.3 371.7L126.8 370.9L127.4 370L128 369.3L128.5 368.6L129.1 367.9L129.7 367.3L130.2 366.8L130.8 366.3L131.3 365.8L131.9 365.4L132.5 364.9L133 364.6L133.6 364.2L134.1 363.7L134.7 363.3L135.3 362.8L135.8 362.3L136.4 362L136.9 361.4L137.5 360.6L138.1 359.8L138.6 359.1L139.2 358.4L139.7 357.5L140.3 356.6L140.9 355.8L141.4 354.9L142 353.9L142.5 352.8L143.1 351.8L143.7 350.8L144.2 349.8L144.8 348.7L145.3 347.7L145.9 346.7L146.5 345.5L147 344.4L147.6 343.3L148.1 342.1L148.7 340.8L149.3 339.6L149.8 338.6L150.4 337.7L150.9 336.8L151.5 335.9L152.1 335.4L152.6 335L153.2 334.4L153.7 333.8L154.3 333L154.9 332.3L155.4 331.7L156 330.9L156.6 330.2L157.1 329.5L157.7 328.8L158.2 327.9L158.8 327L159.4 326L159.9 325.1L160.5 324.1L161 323.1L161.6 322.1L162.2 321.1L162.7 320.2L163.3 319.4L163.8 318.5L164.4 317.8L165 316.8L165.5 316.1L166.1 315.5L166.6 315L167.2 314.4L167.8 314L168.3 313.7L168.9 313L169.4 312.4L170 311.8L170.6 311.1L171.1 309.8L171.7 308.7L172.2 307.7L172.8 306.7L173.4 305.6L173.9 304.5L174.5 303.6L175 302.3L175.6 301.1L176.2 300L176.7 298.9L177.3 297.8L177.8 296.7L178.4 295.7L179 294.8L179.5 294.1L180.1 293.2L180.6 292.3L181.2 291.3L181.8 290.4L182.3 289.5L182.9 288.6L183.5 287.6L184 286.9L184.6 286.3L185.1 285.3L185.7 283.9L186.3 282.5L186.8 281.2L187.4 280L187.9 278.6L188.5 277.1L189.1 275.9L189.6 274.7L190.2 273.5L190.7 272.1L191.3 270.9L191.9 269.6L192.4 268.4L193 267.3L193.5 266.2L194.1 265L194.7 263.6L195.2 262.3L195.8 261L196.3 259.7L196.9 258.7L197.5 257.5L198 256.5L198.6 255.5L199.1 255L199.7 254.4L200.3 253.7L200.8 252.9L201.4 252.1L201.9 251.1L202.5 250L203.1 248.7L203.6 247.4L204.2 246L204.7 244.5L205.3 242.9L205.9 241.1L206.4 239.3L207 237.1L207.5 234.9L208.1 232.9L208.7 230.6L209.2 228.3L209.8 226L210.3 223.6L210.9 221.1L211.5 218.5L212 215.9L212.6 212.8L213.2 210L213.7 207.6L214.3 205.4L214.8 203.2L215.4 200.9L216 198.9L216.5 196.9L217.1 194.6L217.6 192.4L218.2 190.6L218.8 188.8L219.3 186.9L219.9 184.8L220.4 182.8L221 180.9L221.6 179L222.1 177L222.7 175.2L223.2 173.5L223.8 172.1L224.4 170.4L224.9 168.8L225.5 167.4L226 166.1L226.6 164.9L227.2 163.7L227.7 162.3L228.3 160.7L228.8 159.1L229.4 157.7L230 156.4L230.5 155.5L231.1 154.9L231.6 154.3L232.2 153.7L232.8 153.2L233.3 152.9L233.9 152.7L234.4 152.4L235 152.7L235.6 152.5L236.1 152.6L236.7 152.9L237.2 153.3L237.8 153.9L238.4 154.8L238.9 155.7L239.5 156.8L240.1 157.9L240.6 159.2L241.2 160.7L241.7 162.2L242.3 163.5L242.9 164.9L243.4 166.5L244 167.9L244.5 169.5L245.1 171.3L245.7 172.9L246.2 174.1L246.8 175.3L247.3 176.5L247.9 177.8L248.5 178.8L249 179.9L249.6 181L250.1 182.3L250.7 183.7L251.3 184.8L251.8 185.6L252.4 186.5L252.9 187.1L253.5 187.3L254.1 187.7L254.6 187.7L255.2 187.7L255.7 187.7L256.3 188.2L256.9 188.7L257.4 189.1L258 189.1L258.5 188.7L259.1 188.3L259.7 188L260.2 187.7L260.8 187.7L261.3 187.5L261.9 187.7L262.5 188.2L263 188.5L263.6 189.2L264.1 189.8L264.7 190.5L265.3 191.3L265.8 191.9L266.4 192.4L266.9 193L267.5 193.5L268.1 193.9L268.6 194.4L269.2 195L269.8 195.7L270.3 196.4L270.9 196.7L271.4 196.8L272 197.2L272.6 197.3L273.1 197.3L273.7 197.3L274.2 197.3L274.8 197.5L275.4 197.8L275.9 198.2L276.5 198.8L277 199.2L277.6 199.6L278.2 200L278.7 199.9L279.3 200L279.8 200.2L280.4 200.3L281 200.7L281.5 201.5L282.1 202.1L282.6 202.9L283.2 203.8L283.8 204.9L284.3 205.6L284.9 206.7L285.4 207.9L286 209.4L286.6 211L287.1 212.7L287.7 214.1L288.2 215.6L288.8 217L289.4 218.5L289.9 219.8L290.5 221L291 222.2L291.6 223.2L292.2 224.1L292.7 224.9L293.3 225.7L293.8 226.4L294.4 227.1L295 227.8L295.5 228.7L296.1 229.8L296.7 230.9L297.2 231.7L297.8 232.5L298.3 233.4L298.9 234.4L299.5 235.5L300 236.6L300.6 237.6L301.1 238.8L301.7 240L302.3 241.1L302.8 242.3L303.4 243.4L303.9 244.1L304.5 244.6L305.1 245.2L305.6 245.6L306.2 246L306.7 246.4L307.3 246.8L307.9 247.1L308.4 247.5L309 247.9L309.5 248.1L310.1 248.4L310.7 248.6L311.2 248.7L311.8 248.7L312.3 248.4L312.9 248.2L313.5 247.9L314 247.5L314.6 247.2L315.1 246.9L315.7 246.7L316.3 245.8L316.8 245L317.4 244L317.9 243.1L318.5 241.8L319.1 240.7L319.6 239.8L320.2 238.4L320.7 237.1L321.3 235.7L321.9 234.4L322.4 233.2L323 231.8L323.6 230.3L324.1 228.5L324.7 226.5L325.2 224.7L325.8 223L326.4 221.5L326.9 219.7L327.5 218L328 216.2L328.6 214.2L329.2 212.4L329.7 210.7L330.3 208.7L330.8 206.7L331.4 204.7L332 203L332.5 201.3L333.1 199.9L333.6 198.6L334.2 197L334.8 195.7L335.3 194.4L335.9 193.1L336.4 191.6L337 190.1L337.6 188.7L338.1 187.3L338.7 185.7L339.2 184.4L339.8 183.4L340.4 182.4L340.9 181.3L341.5 180.3L342 178.6L342.6 177.3L343.2 176.1L343.7 174.8L344.3 174.1L344.8 173.6L345.4 173.2L346 172.8L346.5 172.6L347.1 172L347.6 171.3L348.2 171.1L348.8 170.7L349.3 170.4L349.9 170L350.4 169.4L351 168.8L351.6 168.5L352.1 168L352.7 167.7L353.3 167.3L353.8 166.9L354.4 166.2L354.9 165.6L355.5 165.2L356.1 164.7L356.6 164.5L357.2 164.3L357.7 163.9L358.3 163.6L358.9 163.5L359.4 163.6L360 163.6L360.5 163.8L361.1 163.6L361.7 163.7L362.2 164L362.8 164.2L363.3 164.4L363.9 164.6L364.5 165L365 165.4L365.6 165.7L366.1 165.8L366.7 166.3L367.3 166.6L367.8 167L368.4 167.4L368.9 167.8L369.5 168.2L370.1 169.1L370.6 169.8L371.2 170.5L371.7 171.2L372.3 171.9L372.9 172.4L373.4 172.8L374 173.2L374.5 173.6L375.1 174.6L375.7 175.3L376.2 176.1L376.8 177L377.3 177.7L377.9 178.1L378.5 178.5L379 178.9L379.6 178.8L380.2 178.6L380.7 178.2L381.3 177.8L381.8 177.5L382.4 177.3L383 177L383.5 176.6L384.1 176.2L384.6 175.8L385.2 175.7L385.8 175.8L386.3 175.9L386.9 175.7L387.4 175.3L388 174.9L388.6 174.5L389.1 174.1L389.7 173.5L390.2 173.2L390.8 172.8L391.4 172.2L391.9 171.5L392.5 170.8L393 170L393.6 169.4L394.2 168.8L394.7 168.2L395.3 167.6L395.8 166.6L396.4 165.7L397 165.3L397.5 164.7L398.1 163.9L398.6 163.1L399.2 162.1L399.8 161.1L400.3 160L400.9 159L401.4 157.9L402 156.6L402.6 155.5L403.1 154.1L403.7 152.7L404.2 151.2L404.8 149.8L405.4 148.6L405.9 147.6L406.5 146.6L407 145.8L407.6 145.2L408.2 145.3L408.7 145.5L409.3 145.8L409.9 146.1L410.4 146.3L411 146.8L411.5 147.5L412.1 148.4L412.7 149.2L413.2 149.7L413.8 150.1L414.3 150.6L414.9 151.3L415.5 151.8L416 152.6L416.6 153.4L417.1 154.4L417.7 155.4L418.3 156.3L418.8 157.1L419.4 158L419.9 158.9L420.5 160L421.1 161L421.6 162L422.2 163L422.7 164L423.3 164.9L423.9 165.8L424.4 166.5L425 167.1L425.5 168L426.1 169L426.7 170L427.2 171.1L427.8 172.4L428.3 173.8L428.9 174.8L429.5 175.8L430 176.9L430.6 177.9L431.1 179.1L431.7 180.2L432.3 181.2L432.8 182.3L433.4 183.1L433.9 184.2L434.5 185.6L435.1 186.9L435.6 188.2L436.2 189.4L436.8 190.5L437.3 191.7L437.9 193.1L438.4 194.4L439 195.4L439.6 196.7L440.1 197.7L440.7 198.7L441.2 199.7L441.8 200.8L442.4 201.9L442.9 202.8L443.5 203.9L444 204.9L444.6 205.6L445.2 206.3L445.7 207L446.3 207.8L446.8 208.6L447.4 209.7L448 210.9L448.5 212.1L449.1 213.6L449.6 214.9L450.2 216.2L450.8 217.6L451.3 219.5L451.9 221.4L452.4 223.5L453 225.4L453.6 227.1L454.1 229L454.7 231.1L455.2 233.3L455.8 235.4L456.4 237.6L456.9 240.1L457.5 242.6L458 245L458.6 247.2L459.2 249.1L459.7 251L460.3 252.8L460.8 254.5L461.4 256.4L462 257.7L462.5 258.9L463.1 260.1L463.6 261.1L464.2 262L464.8 262.9L465.3 263.5L465.9 263.9L466.5 264.3L467 264.8L467.6 265.1L468.1 265.4L468.7 265.7L469.3 266L469.8 266.3L470.4 266.7L470.9 267.2L471.5 267.7L472.1 268.2L472.6 268.9L473.2 269.4L473.7 270L474.3 270.3L474.9 270.8L475.4 271L476 271.3L476.5 271.6L477.1 271.6L477.7 271.8L478.2 271.8L478.8 271.7L479.3 271L479.9 270.3L480.5 269.6L481 269.1L481.6 268.5L482.1 267.7L482.7 266.9L483.3 265.7L483.8 264.6L484.4 263.3L484.9 261.8L485.5 260.4L486.1 258.9L486.6 257.7L487.2 256.5L487.7 255.4L488.3 254.3L488.9 253.2L489.4 252.2L490 251.6L490.5 250.9L491.1 250.4L491.7 249.8L492.2 249.4L492.8 249L493.4 248.6L493.9 248.5L494.5 248.3L495 248.1L495.6 247.8L496.2 247.6L496.7 247.4L497.3 247.1L497.8 246.9L498.4 246.5L499 246.2L499.5 246L500.1 245.7L500.6 245.3L501.2 244.9L501.8 244.9L502.3 244.8L502.9 244.7L503.4 244.7L504 244.5L504.6 244.4L505.1 244.6L505.7 244.7L506.2 245L506.8 245.6L507.4 246.3L507.9 247.2L508.5 248L509 248.8L509.6 249.7L510.2 250.6L510.7 251.6L511.3 252.7L511.8 253.7L512.4 254.7L513 256L513.5 257.1L514.1 258.5L514.6 259.6L515.2 260.8L515.8 261.9L516.3 263.1L516.9 264.5L517.4 265.6L518 266.7L518.6 267.8L519.1 268.7L519.7 269.6L520.3 270.4L520.8 271.1L521.4 271.9L521.9 272.7L522.5 273.3L523.1 273.9L523.6 274.8L524.2 275.5L524.7 276.3L525.3 277.1L525.9 277.9L526.4 278.6L527 279.3L527.5 280L528.1 280.8L528.7 281.7L529.2 282.3L529.8 282.7L530.3 283.1L530.9 283.3L531.5 283.5L532 283.6L532.6 283.6L533.1 283.1L533.7 282.9L534.3 282.6L534.8 282.2L535.4 281.5L535.9 280.8L536.5 279.8L537.1 278.9L537.6 277.8L538.2 276.9L538.7 275.8L539.3 274.9L539.9 273.7L540.4 272.8L541 271.7L541.5 270.5L542.1 269.4L542.7 268.3L543.2 267.3L543.8 266.2L544.3 265.1L544.9 263.9L545.5 262.8L546 261.6L546.6 260.5L547.1 259.4L547.7 258.3L548.3 257.2L548.8 256.1L549.4 254.9L550 253.7L550.5 252.6L551.1 251.5L551.6 250.2L552.2 249L552.8 247.8L553.3 246.5L553.9 245.2L554.4 243.9L555 242.5L555.6 241.2L556.1 239.7L556.7 238.4L557.2 237.3L557.8 236.3L558.4 234.9L558.9 234L559.5 233.1L560 232.4L560.6 231.7L561.2 231.2L561.7 230.6L562.3 230.1L562.8 229.6L563.4 228.2L564 227.2L564.5 226.9L565.1 226.7L565.6 226.8L566.2 226.7L566.8 226.7L567.3 226.2L567.9 225.8L568.4 225.6L569 225.6L569.6 225.7L570.1 225.8L570.7 226L571.2 226.1L571.8 226.3L572.4 226.6L572.9 226.8L573.5 227.2L574 227.3L574.6 227.4L575.2 227.5L575.7 227.5L576.3 227.5L576.9 227.4L577.4 227.2L578 226.9L578.5 226.7L579.1 226.4L579.7 226.2L580.2 225.7L580.8 224.9L581.3 224L581.9 223.2L582.5 222.3L583 221.4L583.6 220.6L584.1 219.9L584.7 219.2L585.3 218.5L585.8 217.6L586.4 217L586.9 216.3L587.5 215.4L588.1 214.5L588.6 213.8L589.2 212.8L589.7 211.8L590.3 210.7L590.9 209.6L591.4 209.7L592 209.2L592.5 208.4L593.1 207.4L593.7 206.2L594.2 205.2L594.8 204.1L595.3 203.6L595.9 203.1L596.5 202.3L597 201.5L597.6 200.7L598.1 200L598.7 199.1L599.3 198.5L599.8 198L600.4 197.5L600.9 196.9L601.5 196L602.1 195.5L602.6 194.9L603.2 194.3L603.8 193.8L604.3 193.3L604.9 193L605.4 192.6L606 192.4L606.6 192.3L607.1 192.2L607.7 192L608.2 191.9L608.8 192.2L609.4 192.8L609.9 193.3L610.5 193.8L611 194.4L611.6 194.9L612.2 195.3L612.7 195.4L613.3 195.7L613.8 196.2L614.4 196.6L615 197.1L615.5 197.6L616.1 198L616.6 198.2L617.2 198.4L617.8 198.7L618.3 198.8L618.9 199L619.4 199L620 199.1L620.6 199.2L621.1 199.2L621.7 199.2L622.2 199L622.8 198.6L623.4 198.3L623.9 198L624.5 198.1L625 197.8L625.6 197.4L626.2 196.7L626.7 196L627.3 195.2L627.8 194.2L628.4 193.5L629 192.7L629.5 192.1L630.1 191.4L630.6 190.7L631.2 190.2L631.8 189.8L632.3 189.3L632.9 188.7L633.5 188.4L634 187.8L634.6 187.2L635.1 186.7L635.7 186.5L636.3 186.3L636.8 186.3L637.4 186.1L637.9 186.1L638.5 186.1L639.1 186L639.6 185.8L640.2 185.8L640.7 186.1L641.3 186.1L641.9 186L642.4 186L643 186.3L643.5 186.8L644.1 187.1L644.7 187.4L645.2 187.8L645.8 188.4L646.3 189.1L646.9 189.7L647.5 190.1L648 190.6L648.6 191L649.1 191.5L649.7 192L650.3 192.7L650.8 193.5L651.4 194.2L651.9 194.8L652.5 195.3L653.1 195.9L653.6 196.8L654.2 197.7L654.7 198.7L655.3 199.8L655.9 200.8L656.4 201.6L657 202.2L657.5 202.8L658.1 203L658.7 203.5L659.2 203.6L659.8 203.7L660.4 203.8L660.9 203.9L661.5 203.9L662 204L662.6 204.2L663.2 204.3L663.7 204.7L664.3 204.9L664.8 204.9L665.4 204.9L666 204.8L666.5 204.8L667.1 204.8L667.6 204.8L668.2 204.5L668.8 204.1L669.3 204.2L669.9 204.1L670.4 204.1L671 203.9L671.6 203.4L672.1 203.3L672.7 203.3L673.2 203.2L673.8 203L674.4 203L674.9 202.9L675.5 203L676 202.9L676.6 202.9L677.2 202.9L677.7 202.9L678.3 202.6L678.8 202.3L679.4 202.2L680 201.6L680.5 200.8L681.1 200.1L681.6 199.4L682.2 198.9L682.8 198.3L683.3 197.8L683.9 197.3L684.4 197.1L685 197.2L685.6 197.5L686.1 198.3L686.7 198.6L687.2 199.3L687.8 200L688.4 200.9L688.9 201.9L689.5 203.3L690.1 204.6L690.6 205.9L691.2 207.1L691.7 208.1L692.3 209.1L692.9 210.4L693.4 211.5L694 212.6L694.5 213.8L695.1 214.8L695.7 215.8L696.2 217.2L696.8 218.6L697.3 219.2L697.9 220.3L698.5 221.2L699 222.1L699.6 223.2L700.1 224.2L700.7 225.6L701.3 226.8L701.8 227.9L702.4 228.9L702.9 230.1L703.5 231.3L704.1 232.5L704.6 233.7L705.2 235.1L705.7 236.5L706.3 237.8L706.9 239.2L707.4 240.8L708 242.8L708.5 244.8L709.1 246.8L709.7 248.8L710.2 250.7L710.8 253L711.3 255L711.9 257L712.5 258.9L713 260.8L713.6 262.3L714.1 263.7L714.7 265.5L715.3 267.1L715.8 268.4L716.4 269.4L717 270.6L717.5 271.5L718.1 272.2L718.6 273L719.2 273.5L719.8 273.7L720.3 273.8L720.9 274L721.4 274.3L722 274.5L722.6 274.7L723.1 275.1L723.7 275.6L724.2 276L724.8 276.5L725.4 277.4L725.9 278.3L726.5 279.1L727 280L727.6 280.7L728.2 281.5L728.7 282L729.3 282.8L729.8 283.6L730.4 284.2L731 284.7L731.5 285.1L732.1 285.5L732.6 285.9L733.2 285.9L733.8 286.1L734.3 286.4L734.9 286.3L735.4 286.4L736 286.2L736.6 285.9L737.1 285.6L737.7 285.2L738.2 284.8L738.8 284.1L739.4 283.5L739.9 283.2L740.5 282.9L741 282.5L741.6 282.1L742.2 281.8L742.7 281.4L743.3 281.2L743.9 281.3L744.4 281.4L745 281.4L745.5 281.4L746.1 281.7L746.7 282.2L747.2 282.9L747.8 283.8L748.3 284.9L748.9 285.8L749.5 287.1L750 288.3L750.6 289.7L751.1 290.9L751.7 292L752.3 293.2L752.8 294.2L753.4 295.2L753.9 295.9L754.5 296.6L755.1 297.2L755.6 297.9L756.2 298.4L756.7 298.9L757.3 299.1L757.9 299.3L758.4 299.7L759 300.1L759.5 300.8L760.1 301.5L760.7 302.1L761.2 302.9L761.8 303.7L762.3 304.6L762.9 305.6L763.5 306.5L764 307.3L764.6 308.4L765.1 309.5L765.7 310.8L766.3 311.8L766.8 312.7L767.4 313.6L767.9 314.4L768.5 315L769.1 315.8L769.6 316.6L770.2 317.3L770.7 318L771.3 319L771.9 319.6L772.4 320.5L773 321.1L773.6 321.5L774.1 322.3L774.7 322.7L775.2 323.1L775.8 323.5L776.4 323.7L776.9 323.7L777.5 323.7L778 323.6L778.6 323.3L779.2 323L779.7 322.7L780.3 322.4L780.8 322.3L781.4 322L782 322.1L782.5 322.1L783.1 321.9L783.6 321.8L784.2 321.6L784.8 321.4L785.3 321.4L785.9 321.4L786.4 321.1L787 320.9L787.6 320.6L788.1 320.4L788.7 320.3L789.2 320.3L789.8 320.2L790.4 320.3L790.9 320.2L791.5 320L792 320L792.6 319.9L793.2 319.8L793.7 319.7L794.3 319.8L794.8 320L795.4 320.3L796 320.7L796.5 321.1L797.1 321.4L797.6 321.7L798.2 322L798.8 322.4L799.3 322.7L799.9 323L800.5 323.3L801 323.7L801.6 324.2L802.1 324.5L802.7 324.9L803.3 325.3L803.8 325.8L804.4 326.3L804.9 326.8L805.5 327.1L806.1 327.5L806.6 328L807.2 328.5L807.7 329L808.3 329.5L808.9 329.8L809.4 330.2L810 330.2L810.5 330.4L811.1 330.9L811.7 331.2L812.2 331.6L812.8 331.9L813.3 332.2L813.9 332.7L814.5 333.3L815 334.1L815.6 334.7L816.1 335.2L816.7 335.6L817.3 335.9L817.8 336.2L818.4 336.2L818.9 336.5L819.5 336.9L820.1 336.9L820.6 336.8L821.2 336.5L821.7 336.3L822.3 335.9L822.9 335.4L823.4 334.7L824 333.9L824.5 333L825.1 332.2L825.7 331.3L826.2 330.5L826.8 329.6L827.3 328.5L827.9 327.5L828.5 326.3L829 325L829.6 323.8L830.2 322.3L830.7 320.9L831.3 319.5L831.8 318.1L832.4 316.6L833 315.3L833.5 314L834.1 312.6L834.6 311.3L835.2 309.8L835.8 308.4L836.3 307L836.9 305.6L837.4 304.3L838 303.1L838.6 301.8L839.1 300.4L839.7 299L840.2 297.6L840.8 296.2L841.4 294.7L841.9 293.2L842.5 291.7L843 290.2L843.6 288.7L844.2 287.3L844.7 285.8L845.3 284.6L845.8 283.3L846.4 282.1L847 280.7L847.5 279.2L848.1 278.2L848.6 277L849.2 276L849.8 274.9L850.3 274L850.9 272.9L851.4 271.8L852 271L852.6 270.1L853.1 269.3L853.7 268.8L854.2 268.1L854.8 267.6L855.4 267.3L855.9 267L856.5 266.8L857.1 266.6L857.6 266.6L858.2 266.6L858.7 266.6L859.3 266.6L859.9 266.7L860.4 266.7L861 266.8L861.5 266.8L862.1 266.9L862.7 267L863.2 267.3L863.8 267.5L864.3 267.6L864.9 267.7L865.5 267.9L866 268L866.6 268.3L867.1 268.6L867.7 269L868.3 269.5L868.8 270L869.4 270.7L869.9 271.3L870.5 271.7L871.1 272.1L871.6 272.5L872.2 272.7L872.7 273L873.3 273L873.9 273.1L874.4 273.1L875 273.1L875.5 273.1L876.1 273L876.7 273L877.2 273L877.8 273L878.3 272.9L878.9 272.8L879.5 272.8L880 273.1L880.6 273.2L881.1 273.1L881.7 272.9L882.3 272.5L882.8 272.3L883.4 272.1L884 271.8L884.5 271.5L885.1 271.1L885.6 270.7L886.2 270.3L886.8 269.9L887.3 269.4L887.9 269.1L888.4 268.8L889 268.3L889.6 267.7L890.1 267.3L890.7 266.9L891.2 266.3L891.8 265.9L892.4 265.6L892.9 265.4L893.5 265.1L894 264.7L894.6 264.2L895.2 263.7L895.7 263.2L896.3 262.7L896.8 262.1L897.4 261.5L898 260.8L898.5 260.3L899.1 259.7L899.6 259.1L900.2 258.9L900.8 258.5L901.3 257.8L901.9 257.2L902.4 256.7L903 256L903.6 255.7L904.1 255.3L904.7 255.1L905.2 254.9L905.8 254.7L906.4 254.4L906.9 254.3L907.5 254.2L908 254L908.6 254.2L909.2 254.4L909.7 254.8L910.3 255.2L910.8 255.5L911.4 255.8L912 256.2L912.5 256.5L913.1 256.7L913.7 257.1L914.2 257.5L914.8 257.7L915.3 258.2L915.9 258.5L916.5 259L917 259.7L917.6 260.5L918.1 261.2L918.7 261.7L919.3 262.3L919.8 262.7L920.4 263L920.9 263.1L921.5 263.3L922.1 263.6L922.6 263.6L923.2 263.8L923.7 263.8L924.3 263.9L924.9 263.8L925.4 263.9L926 264.1L926.5 264.6L927.1 264.9L927.7 265.3L928.2 265.8L928.8 266.4L929.3 267.3L929.9 268.1L930.5 269L931 270.3L931.6 271.3L932.1 272.1L932.7 273L933.3 274L933.8 274.9L934.4 276L934.9 277L935.5 278L936.1 278.9L936.6 279.6L937.2 280.7L937.7 281.6L938.3 282.5L938.9 283.3L939.4 284.1L940 285.2L940.6 286.4L941.1 287.6L941.7 288.8L942.2 289.8L942.8 291L943.4 292.1L943.9 293.2L944.5 294.2L945 295.3L945.6 296.2L946.2 297.1L946.7 298.2L947.3 299.6L947.8 301.1L948.4 302.6L949 304L949.5 305.4L950.1 306.5L950.6 308L951.2 309.3L951.8 310.8L952.3 312.3L952.9 314.2L953.4 315.9L954 317.6L954.6 318.9L955.1 320.5L955.7 322L956.2 323.3L956.8 324.6L957.4 326.1L957.9 327.4L958.5 328.8L959 330.2L959.6 331.6L960.2 333.1L960.7 334.6L961.3 336L961.8 337.5L962.4 339L963 340.5L963.5 342.1L964.1 343.5L964.6 345.1L965.2 346.3L965.8 347.8L966.3 349.5L966.9 351.1L967.4 352.7L968 354.1L968.6 355.5L969.1 357.1L969.7 358.5L970.3 360L970.8 361.5L971.4 362.9L971.9 364.4L972.5 365.7L973.1 366.8L973.6 368L974.2 369.1L974.7 370.2L975.3 371L975.9 371.7L976.4 372.5L977 373.4L977.5 374.2L978.1 375.4L978.7 376.5L979.2 377.7L979.8 378.6L980.3 379.5L980.9 380.3L981.5 381.1L982 381.9L982.6 382.8L983.1 383.6L983.7 384.4L984.3 385.3L984.8 386.2L985.4 387L985.9 387.7L986.5 388.4L987.1 388.9L987.6 389.4L988.2 389.9L988.7 390.3L989.3 390.7L989.9 391.1L990.4 391.4L991 391.6L991.5 391.7L992.1 392L992.7 392.1L993.2 392.3L993.8 392.3L994.3 392.1L994.9 392.1L995.5 392L996 391.8L996.6 391.6L997.2 391.4L997.7 391.2L998.3 391L998.8 390.7L999.4 390.5L1000 390.2L1000.5 390L1001.1 389.8L1001.6 389.7L1002.2 389.7L1002.8 389.6L1003.3 389.7L1003.9 389.8L1004.4 389.9L1005 389.9L1005.6 389.9L1006.1 389.8L1006.7 389.8L1007.2 389.6L1007.8 389.6L1008.4 389.5L1008.9 389.5L1009.5 389.4L1010 389.4L1010.6 389.4L1011.2 389.3L1011.7 389.2L1012.3 389L1012.8 389L1013.4 388.9L1014 388.9L1014.5 389L1015.1 389.2L1015.6 389.3L1016.2 389.3L1016.8 389.4L1017.3 389.4L1017.9 389.5L1018.4 389.6L1019 389.7L1019.6 389.7L1020.1 389.7L1020.7 389.6L1021.2 389.4L1021.8 389.3L1022.4 389.2L1022.9 389L1023.5 388.8L1024 388.6L1024.6 388.2L1025.2 387.9L1025.7 387.4L1026.3 386.9L1026.9 386.4L1027.4 385.7L1028 385L1028.5 384.4L1029.1 383.7L1029.7 382.9L1030.2 382.1L1030.8 381.3L1031.3 380.4L1031.9 379.4L1032.5 378.5L1033 377.6L1033.6 376.8L1034.1 376.3L1034.7 375.6L1035.3 374.9L1035.8 374L1036.4 373L1036.9 372L1037.5 371.2L1038.1 370.3L1038.6 369.3L1039.2 368.5L1039.7 367.7L1040.3 366.9L1040.9 365.9L1041.4 365.1L1042 364.3L1042.5 363.5L1043.1 362.6L1043.7 361.7L1044.2 360.9L1044.8 360.1L1045.3 359.3L1045.9 358.6L1046.5 358L1047 357.4L1047.6 356.8L1048.1 356.3L1048.7 355.8L1049.3 355.4L1049.8 355L1050.4 354.6L1050.9 354.2L1051.5 353.7L1052.1 353.4L1052.6 353.3L1053.2 353.2L1053.8 353.1L1054.3 353L1054.9 353.1L1055.4 353.3L1056 353.5L1056.6 353.8L1057.1 354L1057.7 354.3L1058.2 354.6L1058.8 355.1L1059.4 355.5L1059.9 356.3L1060.5 357L1061 357.8L1061.6 358.6L1062.2 359.2L1062.7 360.2L1063.3 361.5L1063.8 362.9L1064.4 364.5L1065 366.2L1065.5 367.8L1066.1 369.5L1066.6 371.1L1067.2 372.7L1067.8 374.3L1068.3 376.1L1068.9 377.8L1069.4 379.4L1070 381.1L1070.6 382.7L1071.1 384.4L1071.7 386.2L1072.2 388L1072.8 389.7L1073.4 391.3L1073.9 392.9L1074.5 394.4L1075 395.8L1075.6 397.3L1076.2 398.7L1076.7 400.2L1077.3 401.5L1077.8 402.8L1078.4 404.1L1079 405.3L1079.5 406.5L1080.1 407.6L1080.7 408.6L1081.2 409.6L1081.8 410.5L1082.3 411.5L1082.9 412.4L1083.5 413.3L1084 414.2L1084.6 415.1L1085.1 416.3L1085.7 417.4L1086.3 418.5L1086.8 419.4L1087.4 420.4L1087.9 421.2L1088.5 422.1L1089.1 423L1089.6 423.7L1090.2 424.4L1090.7 425L1091.3 425.4L1091.9 425.8L1092.4 426L1093 426.2L1093.5 426.3L1094.1 426.5L1094.7 426.8L1095.2 427.1L1095.8 427.3L1096.3 427.7L1096.9 428.1L1097.5 428.5L1098 428.9L1098.6 429.4L1099.1 429.8L1099.7 430.3L1100.3 430.8L1100.8 431.2L1101.4 431.7L1101.9 432.2L1102.5 432.6L1103.1 433.2L1103.6 433.8L1104.2 434.4L1104.7 435.1L1105.3 435.8L1105.9 436.5L1106.4 437.3L1107 438.2L1107.5 439.1L1108.1 440.1L1108.7 441.1L1109.2 442.1L1109.8 443.1L1110.4 444.1L1110.9 445.2L1111.5 446.2L1112 447.3L1112.6 448.4L1113.2 449.4L1113.7 450.3L1114.3 451.4L1114.8 452.4L1115.4 453.3L1116 454.2L1116.5 455.1L1117.1 456L1117.6 456.9L1118.2 457.8L1118.8 458.5L1119.3 459.2L1119.9 460L1120.4 460.8L1121 461.5L1121.6 462.3L1122.1 463L1122.7 463.6L1123.2 464.2L1123.8 464.7L1124.4 465.1L1124.9 465.5L1125.5 465.8L1126 466L1126.6 466.2L1127.2 466.3L1127.7 466.5L1128.3 466.7L1128.8 466.9L1129.4 467L1130 467.3L1130.5 467.6L1131.1 467.8L1131.6 468L1132.2 468.2L1132.8 468.3L1133.3 468.5L1133.9 468.7L1134.4 468.8L1135 468.9L1135.6 469L1136.1 469L1136.7 468.9L1137.3 468.8L1137.8 468.9L1138.4 468.9L1138.9 468.8L1139.5 468.8L1140.1 468.6L1140.6 468.4L1141.2 468.2L1141.7 468.1L1142.3 467.9L1142.9 467.7L1143.4 467.6L1144 467.4L1144.5 467.2L1145.1 466.9L1145.7 466.7L1146.2 466.4L1146.8 466.2L1147.3 466L1147.9 465.9L1148.5 465.6L1149 465.4L1149.6 465.3L1150.1 465.2L1150.7 465.1L1151.3 465.2L1151.8 465.4L1152.4 465.5L1152.9 465.7L1153.5 465.9L1154.1 466.1L1154.6 466.3L1155.2 466.5L1155.7 466.8L1156.3 467L1156.9 467.4L1157.4 467.7L1158 467.9L1158.5 468.2L1159.1 468.4L1159.7 468.7L1160.2 468.9L1160.8 469.1L1161.3 469.3L1161.9 469.6L1162.5 469.9L1163 470.2L1163.6 470.6L1164.2 470.9L1164.7 471.4L1165.3 471.9L1165.8 472.4L1166.4 472.8L1167 473.4L1167.5 473.8L1168.1 474.4L1168.6 475.1L1169.2 475.7L1169.8 476.3L1170.3 476.9L1170.9 477.4L1171.4 478L1172 478.5L1172.6 479.1L1173.1 479.6L1173.7 480.1L1174.2 480.5L1174.8 481L1175.4 481.4L1175.9 481.8L1176.5 482.1L1177 482.4L1177.6 482.8L1178.2 483L1178.7 483.2L1179.3 483.2L1179.8 483.2L1180.4 483.2L1181 483.1L1181.5 483L1182.1 482.9L1182.6 482.8L1183.2 482.5L1183.8 482.2L1184.3 481.8L1184.9 481.4L1185.4 481L1186 480.7L1186.6 480.5L1187.1 480.2L1187.7 480L1188.2 479.7L1188.8 479.6L1189.4 479.4L1189.9 479.3L1190.5 479.1L1191 479L1191.6 478.9L1192.2 478.9L1192.7 478.9L1193.3 478.8L1193.9 478.7L1194.4 478.6L1195 478.5L1195.5 478.4L1196.1 478.3L1196.7 478L1197.2 477.8L1197.8 477.5L1198.3 477.3L1198.9 477.1L1199.5 476.9L1200 476.7L1200.6 476.4L1201.1 476.2L1201.7 476.1L1202.3 476L1202.8 475.9L1203.4 475.7L1203.9 475.6L1204.5 475.6L1205.1 475.6L1205.6 475.5L1206.2 475.5L1206.7 475.5L1207.3 475.5L1207.9 475.5L1208.4 475.5L1209 475.7L1209.5 475.8L1210.1 475.8L1210.7 476L1211.2 476.3L1211.8 476.5L1212.3 476.8L1212.9 477L1213.5 477.2L1214 477.4L1214.6 477.6L1215.1 477.6L1215.7 477.6L1216.3 477.7L1216.8 477.8L1217.4 477.8L1217.9 477.9L1218.5 477.8L1219.1 477.8L1219.6 477.7L1220.2 477.5L1220.8 477.3L1221.3 477.2L1221.9 477.1L1222.4 476.9L1223 476.7L1223.6 476.5L1224.1 476.3L1224.7 476L1225.2 475.8L1225.8 475.5L1226.4 475.2L1226.9 474.9L1227.5 474.6L1228 474.5L1228.6 474.3L1229.2 474.2L1229.7 474L1230.3 473.9L1230.8 473.8L1231.4 473.7L1232 473.6L1232.5 473.5L1233.1 473.4L1233.6 473.4L1234.2 473.3" stroke="#ffeb3b" stroke-opacity="0.63" stroke-width="5" fill="none" stroke-linejoin="round" stroke-linecap="round"/>
<g stroke-width="1" shape-rendering="crispEdges">
<path class="d" d="M10.5 451.9V455.7"/>
<path class="u" d="M10.5 448.7V454.5"/>
<path class="d" d="M11.5 448.3V453.8"/>
<path class="u" d="M11.5 452.5V453.6M12.5 451V453.4M13.5 449.8V453.3"/>
<path class="d" d="M13.5 449.9V451.7"/>
<path class="u" d="M14.5 450.1V451.1"/>
<path class="d" d="M14.5 449.7V451.5M15.5 450.2V460.9"/>
<path class="u" d="M15.5 450.3V456.3M16.5 451.7V452.7M17.5 448.1V454.7M17.5 446.1V450.3"/>
<path class="d" d="M18.5 444.4V451.1"/>
<path class="u" d="M18.5 444V450.7"/>
<path class="d" d="M19.5 446.4V447.8"/>
<path class="u" d="M19.5 441.3V449.4"/>
<path class="d" d="M20.5 441.3V449.3"/>
<path class="u" d="M20.5 444.8V450.9"/>
<path class="d" d="M21.5 445.6V448.7"/>
<path class="u" d="M22.5 444.7V449"/>
<path class="d" d="M22.5 444.8V449.5"/>
<path class="u" d="M23.5 447.3V449.1"/>
<path class="d" d="M23.5 445.2V447.7"/>
<path class="u" d="M24.5 446.1V447.7M24.5 445.1V448.9M25.5 443.8V445.6M25.5 443.6V445.6M26.5 444.2V446.2"/>
<path class="d" d="M27.5 443.1V445.2"/>
<path class="u" d="M27.5 442.8V445.7"/>
<path class="d" d="M28.5 442.6V445.3"/>
<path class="u" d="M28.5 442.6V447.1M29.5 441.2V443.5"/>
<path class="d" d="M29.5 440.7V446.4M30.5 445.7V447.6M31.5 446.6V448.6M31.5 447V452.5M32.5 451.5V452.5M32.5 450.4V454.4"/>
<path class="u" d="M33.5 452.5V455.5M33.5 452.8V455.1"/>
<path class="d" d="M34.5 451.6V454.8M34.5 453.2V457.5"/>
<path class="u" d="M35.5 453.6V458M36.5 452.3V455.1M36.5 451.2V453.5"/>
<path class="d" d="M37.5 451.4V454.7"/>
<path class="u" d="M37.5 451.4V455.4M38.5 451.9V453.3"/>
<path class="d" d="M38.5 451V453.7"/>
<path class="u" d="M39.5 449.3V454M39.5 449.6V451.5M40.5 449.1V452.3M41.5 448.7V449.9M41.5 448.3V449.7"/>
<path class="d" d="M42.5 447.8V453.7M42.5 452.5V460"/>
<path class="u" d="M43.5 452.7V460M43.5 451.9V452.9M44.5 451V454.3M45.5 448.4V452.9"/>
<path class="d" d="M45.5 447.8V454M46.5 450.1V451.6"/>
<path class="u" d="M46.5 450.9V452M47.5 447.9V451.9"/>
<path class="d" d="M47.5 450.1V452.1"/>
<path class="u" d="M48.5 449.8V451.9"/>
<path class="d" d="M48.5 449.2V452.6M49.5 451.9V453.8"/>
<path class="u" d="M50.5 451.3V454.6"/>
<path class="d" d="M50.5 450.4V452.9M51.5 451.9V454.4"/>
<path class="u" d="M51.5 450.9V455.4"/>
<path class="d" d="M52.5 452.2V454.5M52.5 452.9V453.9M53.5 452.5V454.8"/>
<path class="u" d="M53.5 451.5V456.8M54.5 450.9V451.9"/>
<path class="d" d="M55.5 449.5V454.4M55.5 453.9V460.6"/>
<path class="u" d="M56.5 457.9V461.4M56.5 455.7V459.5"/>
<path class="d" d="M57.5 455.1V457.2"/>
<path class="u" d="M57.5 452.5V457.5"/>
<path class="d" d="M58.5 450.8V455.2M59.5 453.5V459.5"/>
<path class="u" d="M59.5 451V459.5M60.5 450.1V452.8M60.5 450.2V451.6M61.5 447.4V450.7M61.5 445V452.7"/>
<path class="d" d="M62.5 443.4V448.3"/>
<path class="u" d="M62.5 444V448.2"/>
<path class="d" d="M63.5 443.1V447"/>
<path class="u" d="M64.5 440.9V446.5M64.5 440.6V443.4M65.5 435V444.2"/>
<path class="d" d="M65.5 435.9V439.7"/>
<path class="u" d="M66.5 431.6V438.2M66.5 426.8V433.8M67.5 423.9V427.3M68.5 422.9V427.6M68.5 420.9V423.4M69.5 416.7V421.3M69.5 413.6V419.8"/>
<path class="d" d="M70.5 413.3V417.4"/>
<path class="u" d="M70.5 412.5V414.8M71.5 409V414.5"/>
<path class="d" d="M71.5 407.9V415.5"/>
<path class="u" d="M72.5 410.1V411.4M73.5 408.3V410.8"/>
<path class="d" d="M73.5 408.8V411M74.5 407.5V415.6"/>
<path class="u" d="M74.5 408V415"/>
<path class="d" d="M75.5 407.5V412.2"/>
<path class="u" d="M75.5 406.2V410.5"/>
<path class="d" d="M76.5 407.7V411.9"/>
<path class="u" d="M76.5 407.2V413.4M77.5 401.2V410.7"/>
<path class="d" d="M78.5 401.2V404.4"/>
<path class="u" d="M78.5 399.7V405.8M79.5 399.3V402.9"/>
<path class="d" d="M79.5 398.8V402.1"/>
<path class="u" d="M80.5 397V402.5M80.5 395V397.3"/>
<path class="d" d="M81.5 395.1V399"/>
<path class="u" d="M82.5 393.1V401.6M82.5 393.1V396M83.5 393.7V398.7M83.5 393.6V397.1"/>
<path class="d" d="M84.5 390.8V396.8"/>
<path class="u" d="M84.5 386.7V398.9"/>
<path class="d" d="M85.5 383.6V394.3M85.5 392.5V398.7M86.5 396.5V402.5M87.5 400.2V406.9"/>
<path class="u" d="M87.5 401.6V404.2M88.5 400.1V405.9"/>
<path class="d" d="M88.5 400.3V404.9M89.5 403.8V407.8"/>
<path class="u" d="M89.5 403.7V406.7M90.5 399.5V401.9M90.5 397.3V401.8"/>
<path class="d" d="M91.5 395.2V400.2M92.5 399.8V410.3"/>
<path class="u" d="M92.5 402.2V403.8M93.5 397.3V403.1M93.5 400.9V403M94.5 402V404.3"/>
<path class="d" d="M94.5 402.2V406.6"/>
<path class="u" d="M95.5 400.4V404.5M96.5 400.8V403.2"/>
<path class="d" d="M96.5 402.4V406.3M97.5 403V405.3"/>
<path class="u" d="M97.5 404V406.2M98.5 398.1V406.6M98.5 397.4V400.7"/>
<path class="d" d="M99.5 398.1V401.7"/>
<path class="u" d="M99.5 391.4V405.3M100.5 389.9V395.9M101.5 385.4V390.2M101.5 381.9V384.7M102.5 379.8V385.3M102.5 380.8V384.1M103.5 378.7V381.9M103.5 375.9V380.8M104.5 373.1V377.6M104.5 364.4V377.2"/>
<path class="d" d="M105.5 362.5V368.4M106.5 365.8V370.1"/>
<path class="u" d="M106.5 368.9V372M107.5 368.2V371.6M107.5 366.8V369.5M108.5 357.2V368.2"/>
<path class="d" d="M108.5 354.9V364.9M109.5 363V376.3"/>
<path class="u" d="M110.5 367.5V376.7M110.5 364.1V368.6M111.5 361.4V367.7"/>
<path class="d" d="M111.5 361V367.9M112.5 366.4V372.3"/>
<path class="u" d="M112.5 369V371.3M113.5 367.7V370.2"/>
<path class="d" d="M113.5 369.2V370.8M114.5 369.6V372.9"/>
<path class="u" d="M115.5 371V373.4"/>
<path class="d" d="M115.5 371.2V373.3"/>
<path class="u" d="M116.5 371.2V374.1M116.5 368.7V372.6M117.5 368V370.2M117.5 370.1V371.4"/>
<path class="d" d="M118.5 370.1V377.3M119.5 373.8V380.1M119.5 378.4V380.8M120.5 378.4V387.2"/>
<path class="u" d="M120.5 386V387.6M121.5 375.9V387.9M121.5 370.9V380.4M122.5 364.8V371.4M122.5 363.1V367.7M123.5 354.7V363.5M124.5 341V362.6"/>
<path class="d" d="M124.5 340.3V347.8M125.5 345.4V355.5"/>
<path class="u" d="M125.5 349.2V353.6"/>
<path class="d" d="M126.5 348V356.1M126.5 353V358.3"/>
<path class="u" d="M127.5 351.4V360.2"/>
<path class="d" d="M127.5 351.2V358.5"/>
<path class="u" d="M128.5 353.1V357.8M129.5 350.2V354.8M129.5 353.5V357"/>
<path class="d" d="M130.5 352.9V359.6"/>
<path class="u" d="M130.5 354V363.2"/>
<path class="d" d="M131.5 350.9V358.3"/>
<path class="u" d="M131.5 351.8V355.9"/>
<path class="d" d="M132.5 351.5V353.1"/>
<path class="u" d="M133.5 347.7V356.2M133.5 344.6V352M134.5 345.1V349"/>
<path class="d" d="M134.5 344.8V345.8"/>
<path class="u" d="M135.5 343.2V349.8M135.5 343.4V344.9M136.5 340.8V343.9M136.5 336.8V344.7M137.5 333.1V341.8M138.5 326V339.9M138.5 325.6V328.9"/>
<path class="d" d="M139.5 328V330.1"/>
<path class="u" d="M139.5 322.1V330.7"/>
<path class="d" d="M140.5 320V326M140.5 323V329.9"/>
<path class="u" d="M141.5 323.2V329.9M141.5 317.1V325.1"/>
<path class="d" d="M142.5 316.5V319.7M143.5 317.6V323.4"/>
<path class="u" d="M143.5 318V321.9"/>
<path class="d" d="M144.5 317.5V321.3"/>
<path class="u" d="M144.5 313.8V323.8M145.5 316.6V319.1"/>
<path class="d" d="M145.5 309.9V321.5"/>
<path class="u" d="M146.5 314.7V319.7"/>
<path class="d" d="M147.5 315.8V327.8M147.5 324.2V328.6"/>
<path class="u" d="M148.5 324V330.3M148.5 320.4V322.6"/>
<path class="d" d="M149.5 319.3V322.3"/>
<path class="u" d="M149.5 319.8V324.3"/>
<path class="d" d="M150.5 318.1V329.3"/>
<path class="u" d="M150.5 318V323.9"/>
<path class="d" d="M151.5 314.9V321.3"/>
<path class="u" d="M152.5 317.6V321.1"/>
<path class="d" d="M152.5 317.2V329.8"/>
<path class="u" d="M153.5 319.2V326.5M153.5 319.6V321.5M154.5 319.3V328.9"/>
<path class="d" d="M154.5 317V320M155.5 318.4V324.6"/>
<path class="u" d="M155.5 315.6V325.6M156.5 314.5V319.4"/>
<path class="d" d="M157.5 316.1V320.3"/>
<path class="u" d="M157.5 315.9V322.2M158.5 309.9V320.1"/>
<path class="d" d="M158.5 309.2V313.9"/>
<path class="u" d="M159.5 305V311.9M159.5 303V308.7"/>
<path class="d" d="M160.5 298.7V302.4"/>
<path class="u" d="M161.5 297.7V304.1M161.5 297.1V299.7M162.5 298.7V300.8"/>
<path class="d" d="M162.5 292.8V301.6"/>
<path class="u" d="M163.5 288.3V302.9"/>
<path class="d" d="M163.5 298.5V304.2"/>
<path class="u" d="M164.5 301V305M164.5 289V304"/>
<path class="d" d="M165.5 290.1V298.3M166.5 285.5V298.8M166.5 296.6V303.2"/>
<path class="u" d="M167.5 298.6V306.9M167.5 298.9V303.7"/>
<path class="d" d="M168.5 300.9V309.9"/>
<path class="u" d="M168.5 295.8V313.1M169.5 291.8V298.4M170.5 286.9V298.3M170.5 280.7V289.3M171.5 257V282.5"/>
<path class="d" d="M171.5 254.6V269M172.5 265.6V271"/>
<path class="u" d="M172.5 264.5V270.5M173.5 260.5V268.3"/>
<path class="d" d="M173.5 260.5V268.4M174.5 264V268.5"/>
<path class="u" d="M175.5 261.4V267.7"/>
<path class="d" d="M175.5 258.1V271.8"/>
<path class="u" d="M176.5 266.2V270.6"/>
<path class="d" d="M176.5 267.4V269.2"/>
<path class="u" d="M177.5 265.3V274.4M177.5 262.2V267.8"/>
<path class="d" d="M178.5 259.7V268.7M178.5 266.8V277.7M179.5 271.4V284.9"/>
<path class="u" d="M180.5 272.5V284.7"/>
<path class="d" d="M180.5 274.6V279.8"/>
<path class="u" d="M181.5 272.1V280.1"/>
<path class="d" d="M181.5 269.7V275.2"/>
<path class="u" d="M182.5 270V278.1"/>
<path class="d" d="M182.5 271.5V277.3M183.5 273V281.4M184.5 274.7V282.2M184.5 276.8V287.6"/>
<path class="u" d="M185.5 271.4V285.1M185.5 244.9V272.3M186.5 241.6V250.2"/>
<path class="d" d="M186.5 239.7V248.2M187.5 245.7V249.1"/>
<path class="u" d="M187.5 229.8V250.6M188.5 226.3V234.7"/>
<path class="d" d="M189.5 226.9V238.2M189.5 234V242.2M190.5 237V239.1"/>
<path class="u" d="M190.5 229V238.5"/>
<path class="d" d="M191.5 230.4V237.6M191.5 239.6V242.5"/>
<path class="u" d="M192.5 238.1V243.8M192.5 236.3V246.9"/>
<path class="d" d="M193.5 235.5V245.2"/>
<path class="u" d="M194.5 236V243.6M194.5 228.9V242.4M195.5 232.2V238"/>
<path class="d" d="M195.5 230.8V237.1M196.5 236.4V246.5"/>
<path class="u" d="M196.5 240.3V248M197.5 230.8V244.4"/>
<path class="d" d="M198.5 235.6V239.4"/>
<path class="u" d="M198.5 229.9V239.2"/>
<path class="d" d="M199.5 230.8V236.5"/>
<path class="u" d="M199.5 234.4V239"/>
<path class="d" d="M200.5 233.2V235.9"/>
<path class="u" d="M200.5 224.7V236.5M201.5 220.8V229.6M201.5 217.8V223.6M202.5 207V219.9M203.5 195.8V210.9M203.5 199V202.1M204.5 199.2V204.1M204.5 191.1V202.1M205.5 185.7V193.1M205.5 175.4V188.1M206.5 177.8V180M206.5 164.4V178.6"/>
<path class="d" d="M207.5 164.4V178.7"/>
<path class="u" d="M208.5 169.2V175.7M208.5 162.5V172.4M209.5 159.1V162.8M209.5 154.3V166.5M210.5 151.7V165.5M210.5 149.8V154.3M211.5 145.1V152.7"/>
<path class="d" d="M212.5 144.9V149.7"/>
<path class="u" d="M212.5 131.5V147.4M213.5 119.1V139.2M213.5 119.7V132"/>
<path class="d" d="M214.5 118.5V135.3M214.5 128.6V138.5"/>
<path class="u" d="M215.5 128.1V136.2M215.5 130.1V138"/>
<path class="d" d="M216.5 129.5V136.6"/>
<path class="u" d="M217.5 119.8V136.3"/>
<path class="d" d="M217.5 117V142.1M218.5 128.1V151.1"/>
<path class="u" d="M218.5 141.5V149.5"/>
<path class="d" d="M219.5 141.4V147.3"/>
<path class="u" d="M219.5 127.5V145.5"/>
<path class="d" d="M220.5 135.8V141.6M220.5 130.4V145.5M221.5 139.5V150"/>
<path class="u" d="M222.5 127.6V153.7"/>
<path class="d" d="M222.5 131.5V146.4M223.5 135.9V157.8M223.5 152.6V163.9"/>
<path class="u" d="M224.5 158.5V165.4"/>
<path class="d" d="M224.5 160.2V163.4M225.5 162.3V168.7M226.5 162.7V170.8M226.5 167.5V175.9"/>
<path class="u" d="M227.5 168.6V176.5M227.5 163.5V175M228.5 153.5V168.6M228.5 147.1V158.9M229.5 146.9V148.8"/>
<path class="d" d="M229.5 146.6V157.7M230.5 154.8V165.6M231.5 163.4V171.3"/>
<path class="u" d="M231.5 169V173.2M232.5 170V173.3M232.5 166.3V174.5"/>
<path class="d" d="M233.5 163.1V174.9"/>
<path class="u" d="M233.5 163.5V176.8M234.5 161.8V169.4"/>
<path class="d" d="M235.5 162.6V178"/>
<path class="u" d="M235.5 161.7V180.4"/>
<path class="d" d="M236.5 160.6V176.9M236.5 176.7V182.5"/>
<path class="u" d="M237.5 175.7V185.4"/>
<path class="d" d="M237.5 177.9V195.1M238.5 186.4V198M238.5 194.9V198M239.5 193.6V201.1M240.5 197.2V203.3M240.5 192.4V204.5"/>
<path class="u" d="M241.5 199.2V205.3M241.5 198V202.7M242.5 196.5V203"/>
<path class="d" d="M242.5 194.8V221.3M243.5 207.3V210.4"/>
<path class="u" d="M243.5 200.4V211.4"/>
<path class="d" d="M244.5 203.7V211.8M245.5 204.1V216.1"/>
<path class="u" d="M245.5 205.9V227.7M246.5 208.2V222.8M246.5 197.1V211.5"/>
<path class="d" d="M247.5 198.6V201.9"/>
<path class="u" d="M247.5 197.7V203.1M248.5 188.6V205.9"/>
<path class="d" d="M249.5 192.3V200.6M249.5 200V202.9M250.5 198V206.5M250.5 198.9V214.7"/>
<path class="u" d="M251.5 208.5V218.1M251.5 199.2V211.9"/>
<path class="d" d="M252.5 200.7V205"/>
<path class="u" d="M252.5 191.7V207.5M253.5 175.3V197.2"/>
<path class="d" d="M254.5 180.1V187.6"/>
<path class="u" d="M254.5 170V187.5M255.5 170.2V180.8M255.5 166.6V173.9"/>
<path class="d" d="M256.5 165.7V193.9"/>
<path class="u" d="M256.5 173.4V185.9M257.5 162.9V178.4M257.5 154.5V167.1M258.5 138.4V153.4M259.5 144V149.7"/>
<path class="d" d="M259.5 139.6V156.6M260.5 151V156.7M260.5 155.9V165.9M261.5 163.3V167.9M261.5 165.5V178.9M262.5 173.1V186.3M263.5 185.2V195.7M263.5 193V200.8M264.5 194.1V209M264.5 205.4V215.3M265.5 210.1V220.4M265.5 215.3V222M266.5 217.9V226.6"/>
<path class="u" d="M266.5 223.6V227.4M267.5 222.6V227.4M268.5 221V226.4"/>
<path class="d" d="M268.5 221.9V229.1M269.5 228.6V236.1M269.5 232.4V235.1"/>
<path class="u" d="M270.5 229.3V234.6M270.5 221.9V228.3M271.5 214.8V224.5"/>
<path class="d" d="M271.5 212.6V224.7"/>
<path class="u" d="M272.5 213.6V223.9M273.5 210.1V221.1"/>
<path class="d" d="M273.5 207.4V213.9M274.5 208.9V212.1"/>
<path class="u" d="M274.5 210.4V213.7"/>
<path class="d" d="M275.5 211.1V213.6M275.5 209.3V216.7M276.5 215.4V224.2"/>
<path class="u" d="M277.5 217.3V224.1"/>
<path class="d" d="M277.5 217.5V223.9"/>
<path class="u" d="M278.5 217V223.1M278.5 207.8V217.5"/>
<path class="d" d="M279.5 207.4V214.3M279.5 209.6V213.5M280.5 206.8V213.9M280.5 208.8V215.1M281.5 210.4V219.2"/>
<path class="u" d="M282.5 214V221.8M282.5 211.3V219.2"/>
<path class="d" d="M283.5 214V220.6M283.5 219.6V221.8"/>
<path class="u" d="M284.5 219.8V224.2"/>
<path class="d" d="M284.5 215V228.9M285.5 214.6V229.8"/>
<path class="u" d="M286.5 227.7V229.2"/>
<path class="d" d="M286.5 223.8V231.9M287.5 228.5V234.3"/>
<path class="u" d="M287.5 219.8V234.6"/>
<path class="d" d="M288.5 219.8V232.8M288.5 231.8V237.7M289.5 232.9V245.8M289.5 241.6V244M290.5 239.9V247.8M291.5 242.8V247.1M291.5 246.9V250.6M292.5 248.2V258.1"/>
<path class="u" d="M292.5 253.8V262.3"/>
<path class="d" d="M293.5 254.2V256.8"/>
<path class="u" d="M293.5 253.5V257.8"/>
<path class="d" d="M294.5 244.7V258.4M294.5 254.4V263.3M295.5 261.1V270.7M296.5 265.9V275.7M296.5 271.2V284.9"/>
<path class="u" d="M297.5 279V283.7M297.5 271.2V282M298.5 272.6V277.4"/>
<path class="d" d="M298.5 270.1V277.7"/>
<path class="u" d="M299.5 272.7V279.7"/>
<path class="d" d="M300.5 272.7V278"/>
<path class="u" d="M300.5 270.6V275.3M301.5 266.4V276.3"/>
<path class="d" d="M301.5 266.1V270.7"/>
<path class="u" d="M302.5 268.3V270.6M302.5 267.8V270.9M303.5 261.5V270.3M303.5 252.2V270.3M304.5 244.3V254.2"/>
<path class="d" d="M305.5 247.3V249.8"/>
<path class="u" d="M305.5 241.4V251.6M306.5 237.8V247.4M306.5 218.4V241.1M307.5 230.3V233.6M307.5 225.6V232"/>
<path class="d" d="M308.5 225.5V233.1M308.5 232.6V236.8"/>
<path class="u" d="M309.5 225.5V236.5M310.5 228.6V232"/>
<path class="d" d="M310.5 225.8V228.4"/>
<path class="u" d="M311.5 221.4V231.8M311.5 216V229.1M312.5 207.6V221.4"/>
<path class="d" d="M312.5 205.5V218.1"/>
<path class="u" d="M313.5 210.2V214"/>
<path class="d" d="M314.5 207.4V215.2M314.5 210.4V213.8M315.5 212.7V221.9"/>
<path class="u" d="M315.5 212.2V216.5M316.5 186.8V210.9M316.5 189.5V197.8"/>
<path class="d" d="M317.5 189.6V196.4M317.5 191.7V197"/>
<path class="u" d="M318.5 180.5V198.1"/>
<path class="d" d="M319.5 184.9V193.2M319.5 188.8V207.9"/>
<path class="u" d="M320.5 187.2V200.1"/>
<path class="d" d="M320.5 188.6V191.7"/>
<path class="u" d="M321.5 185.2V189"/>
<path class="d" d="M321.5 179.1V191.6M322.5 187.7V199.2"/>
<path class="u" d="M322.5 193.7V196.7M323.5 191.4V199.5M324.5 187V206.4M324.5 181.1V203.8"/>
<path class="d" d="M325.5 180.8V189.9"/>
<path class="u" d="M325.5 185.1V193.4"/>
<path class="d" d="M326.5 189.6V200"/>
<path class="u" d="M326.5 187.5V200.5M327.5 184.7V192.8M328.5 183.4V186.1M328.5 170.6V185.9"/>
<path class="d" d="M329.5 173.9V175.8M329.5 169.7V184.8"/>
<path class="u" d="M330.5 167.5V182.9"/>
<path class="d" d="M330.5 170.9V172.6"/>
<path class="u" d="M331.5 166.8V174.5"/>
<path class="d" d="M331.5 163.9V172.7"/>
<path class="u" d="M332.5 163.6V171.1"/>
<path class="d" d="M333.5 164.2V181.9"/>
<path class="u" d="M333.5 171V181.3M334.5 161.1V177"/>
<path class="d" d="M334.5 157.3V168.8"/>
<path class="u" d="M335.5 161V167"/>
<path class="d" d="M335.5 144.8V170.3"/>
<path class="u" d="M336.5 153.8V167.2M336.5 157.7V163.2"/>
<path class="d" d="M337.5 153.6V162.1"/>
<path class="u" d="M338.5 157.3V162.5M338.5 146.3V162.7"/>
<path class="d" d="M339.5 142.5V157M339.5 156V168.8"/>
<path class="u" d="M340.5 162.1V172.6M340.5 156.2V166.4"/>
<path class="d" d="M341.5 151.6V161.8"/>
<path class="u" d="M342.5 127.6V161.7"/>
<path class="d" d="M342.5 127.9V146.4M343.5 140.5V154.2"/>
<path class="u" d="M343.5 146.4V155.5"/>
<path class="d" d="M344.5 143.3V153.9M344.5 147V169.7M345.5 165.9V174.1"/>
<path class="u" d="M345.5 175.5V178.2M346.5 173.3V177.6M347.5 159.5V180.2"/>
<path class="d" d="M347.5 153.2V174M348.5 171.6V177.4"/>
<path class="u" d="M348.5 170.4V177.5M349.5 168.3V176.5"/>
<path class="d" d="M349.5 166.6V173"/>
<path class="u" d="M350.5 163V173.9M351.5 166.1V170.1"/>
<path class="d" d="M351.5 163.5V179.2"/>
<path class="u" d="M352.5 161.1V178.9"/>
<path class="d" d="M352.5 162.2V167.1M353.5 155.7V173.2"/>
<path class="u" d="M353.5 165V175.5M354.5 160.7V167.3M354.5 154.6V160.4"/>
<path class="d" d="M355.5 157.2V167"/>
<path class="u" d="M356.5 154.9V162.1"/>
<path class="d" d="M356.5 158.5V163.4M357.5 161V168.5M357.5 162.1V165.9"/>
<path class="u" d="M358.5 154.1V163.8"/>
<path class="d" d="M358.5 154.4V167.7M359.5 167.8V173.7"/>
<path class="u" d="M359.5 169.3V179.3M360.5 171V176.8"/>
<path class="d" d="M361.5 170.3V178.2M361.5 171V177.1M362.5 175.4V181.6"/>
<path class="u" d="M362.5 168.9V179"/>
<path class="d" d="M363.5 165.1V177.7M363.5 169.8V176M364.5 173.2V179.9"/>
<path class="u" d="M365.5 175.1V181.5M365.5 168.9V182.7M366.5 164.8V176.1"/>
<path class="d" d="M366.5 163.8V173.8M367.5 165.6V173.2M367.5 169.2V187.3"/>
<path class="u" d="M368.5 183.7V189.5M368.5 172.9V187.2"/>
<path class="d" d="M369.5 171.1V181.9"/>
<path class="u" d="M370.5 176.1V180.4M370.5 179.2V180.2"/>
<path class="d" d="M371.5 182.1V188.4"/>
<path class="u" d="M371.5 182.2V185.9"/>
<path class="d" d="M372.5 182.8V242M372.5 185.5V194.1M373.5 188.1V198.2M373.5 187.5V201.4"/>
<path class="u" d="M374.5 196.2V199.7"/>
<path class="d" d="M375.5 193.2V209.9M375.5 200.3V211.2M376.5 206.5V219.8"/>
<path class="u" d="M376.5 210.6V219.4M377.5 202.9V214.2M377.5 191.5V206.5M378.5 184.1V199.4M379.5 181.4V184.3M379.5 168.6V181.9M380.5 149.1V173.9M380.5 145V160"/>
<path class="d" d="M381.5 145V152.6M381.5 148V149.4M382.5 147.4V155.1"/>
<path class="u" d="M382.5 142.6V165.7M383.5 140.2V145M384.5 138.5V141.4"/>
<path class="d" d="M384.5 138V144M385.5 146.6V163.7"/>
<path class="u" d="M385.5 161.5V168.1"/>
<path class="d" d="M386.5 158.8V166.4"/>
<path class="u" d="M386.5 154.1V161.8"/>
<path class="d" d="M387.5 151.2V156.4"/>
<path class="u" d="M387.5 148.2V158.3"/>
<path class="d" d="M388.5 147.8V155"/>
<path class="u" d="M389.5 148.9V156.4M389.5 141.2V154.6"/>
<path class="d" d="M390.5 145.1V160"/>
<path class="u" d="M390.5 148.6V159M391.5 148V153.7M391.5 138.8V148.6"/>
<path class="d" d="M392.5 139.1V141.6"/>
<path class="u" d="M393.5 138.2V145.2"/>
<path class="d" d="M393.5 136.1V139.4"/>
<path class="u" d="M394.5 134.5V142.9"/>
<path class="d" d="M394.5 135.5V147.3M395.5 132V142.4"/>
<path class="u" d="M395.5 120.1V141.5"/>
<path class="d" d="M396.5 141V142M396.5 137.8V155.6"/>
<path class="u" d="M397.5 146.3V151.4M398.5 137.6V149.3M398.5 138.5V144.2M399.5 138.3V146.4M399.5 129.7V142.8"/>
<path class="d" d="M400.5 133.4V140.6M400.5 130.3V144.3"/>
<path class="u" d="M401.5 133.8V145.1"/>
<path class="d" d="M402.5 133V140.1M402.5 132.1V142.6"/>
<path class="u" d="M403.5 136V144.6M403.5 141V143.4M404.5 136.4V142.3M404.5 121V145.4"/>
<path class="d" d="M405.5 137.8V143.6M405.5 140.9V146"/>
<path class="u" d="M406.5 134.5V143"/>
<path class="d" d="M407.5 135.5V142.2"/>
<path class="u" d="M407.5 146.3V147.7"/>
<path class="d" d="M408.5 142.4V157.3M408.5 145.1V164.2M409.5 160.1V164.4"/>
<path class="u" d="M409.5 158.9V170"/>
<path class="d" d="M410.5 160.9V167M410.5 161.5V175.9M411.5 172.1V177M412.5 175.6V182.5"/>
<path class="u" d="M412.5 178.2V186.1"/>
<path class="d" d="M413.5 178.7V191.8"/>
<path class="u" d="M413.5 182.6V190.8"/>
<path class="d" d="M414.5 171.9V186M414.5 181.2V193.4"/>
<path class="u" d="M415.5 183.1V188"/>
<path class="d" d="M416.5 184.9V191.3M416.5 185.9V194.8M417.5 189.8V200.5"/>
<path class="u" d="M417.5 196.2V200.7"/>
<path class="d" d="M418.5 194.9V204.1"/>
<path class="u" d="M418.5 191.2V205.5M419.5 189.4V196.5M419.5 185.9V195.5"/>
<path class="d" d="M420.5 184.1V196.5"/>
<path class="u" d="M421.5 187V197.2"/>
<path class="d" d="M421.5 186V192.1"/>
<path class="u" d="M422.5 190.7V192.3M422.5 185.3V192.2"/>
<path class="d" d="M423.5 187.6V189.5"/>
<path class="u" d="M423.5 180.8V188.7M424.5 174.3V187.7"/>
<path class="d" d="M424.5 174.7V181.9M425.5 162.7V193.7"/>
<path class="u" d="M426.5 191.3V196.1M426.5 185.5V191.4"/>
<path class="d" d="M427.5 189.6V196.5M427.5 190.9V200.8M428.5 198.1V204.8"/>
<path class="u" d="M428.5 193.3V201M429.5 182.3V199"/>
<path class="d" d="M430.5 184.2V192.9M430.5 187.9V195.4M431.5 179.2V202.3"/>
<path class="u" d="M431.5 188.3V201.5"/>
<path class="d" d="M432.5 190.4V194.7"/>
<path class="u" d="M432.5 192.4V197.3M433.5 181.4V193.7"/>
<path class="d" d="M433.5 178.5V198.3M434.5 194.5V206M435.5 199.5V213.2M435.5 208.2V209.8M436.5 209.7V219.5M436.5 212V220.6M437.5 216.7V225.4M437.5 223.8V231.1M438.5 228.1V229.9"/>
<path class="u" d="M438.5 223.9V230.1"/>
<path class="d" d="M439.5 220.4V241.8"/>
<path class="u" d="M440.5 232.8V239M440.5 230.2V234.9"/>
<path class="d" d="M441.5 229.7V242.8"/>
<path class="u" d="M441.5 235.8V241.6M442.5 238.1V240.8M442.5 237V241.6"/>
<path class="d" d="M443.5 236.1V240.6"/>
<path class="u" d="M444.5 236.8V241.3M444.5 227.7V236.1"/>
<path class="d" d="M445.5 231.7V233.8M445.5 228.9V235.4M446.5 230.9V243.3"/>
<path class="u" d="M446.5 236.1V244.4"/>
<path class="d" d="M447.5 234.7V246.2M447.5 243.6V250.3M448.5 249V258.3M449.5 257.9V262"/>
<path class="u" d="M449.5 255.1V262.5M450.5 254.3V256.4"/>
<path class="d" d="M450.5 251.6V258.9M451.5 257.7V288.6"/>
<path class="u" d="M451.5 276.1V282.9"/>
<path class="d" d="M452.5 274.1V280.5M453.5 277.5V280.5"/>
<path class="u" d="M453.5 276.3V280.8"/>
<path class="d" d="M454.5 274.9V286.8M454.5 284.9V294.1M455.5 292.5V303.3M455.5 302.2V322M456.5 305.7V330.5M456.5 310.1V316.1M457.5 312V324"/>
<path class="u" d="M458.5 305.2V315.8M458.5 302.6V306.3M459.5 289.8V303.1M459.5 286.5V298.4M460.5 282.1V286.8M460.5 273.3V281.5"/>
<path class="d" d="M461.5 276V281.4"/>
<path class="u" d="M461.5 258.6V284.5"/>
<path class="d" d="M462.5 259.1V271.2"/>
<path class="u" d="M463.5 264.4V269.6"/>
<path class="d" d="M463.5 261V266"/>
<path class="u" d="M464.5 257.9V265.3"/>
<path class="d" d="M464.5 258.7V261.3"/>
<path class="u" d="M465.5 257.7V262.1M465.5 248V259.8M466.5 246.1V252.1M467.5 245.7V251.2"/>
<path class="d" d="M467.5 245.1V254.4"/>
<path class="u" d="M468.5 247.5V256.7M468.5 247.7V249.1"/>
<path class="d" d="M469.5 249V256.4M469.5 251.6V254.4M470.5 245.6V263.4"/>
<path class="u" d="M470.5 259.7V264.9M471.5 259.9V261"/>
<path class="d" d="M472.5 262.9V265.1M472.5 260.5V264.7"/>
<path class="u" d="M473.5 260.5V266.3"/>
<path class="d" d="M473.5 257.9V265.5M474.5 258.2V268.4"/>
<path class="u" d="M474.5 257.6V265.6M475.5 255.6V263.1"/>
<path class="d" d="M475.5 255V266.9M476.5 264.8V269.6"/>
<path class="u" d="M477.5 260V269.3"/>
<path class="d" d="M477.5 257.5V265.7"/>
<path class="u" d="M478.5 253.9V266.4M478.5 247.6V259.5"/>
<path class="d" d="M479.5 246.2V253.9"/>
<path class="u" d="M479.5 239.2V253.3"/>
<path class="d" d="M480.5 237.1V247.3M481.5 240.4V255.2"/>
<path class="u" d="M481.5 246.3V250.9"/>
<path class="d" d="M482.5 243.1V250.4M482.5 245.9V249.7"/>
<path class="u" d="M483.5 243.5V253.1"/>
<path class="d" d="M483.5 243.1V250.8"/>
<path class="u" d="M484.5 245.1V250.1M484.5 230.2V251M485.5 240.9V245.1M486.5 234.7V248.6"/>
<path class="d" d="M486.5 235.2V241.7"/>
<path class="u" d="M487.5 234V241.5"/>
<path class="d" d="M487.5 234.1V235.9"/>
<path class="u" d="M488.5 224.5V237.8M488.5 221.2V227.3"/>
<path class="d" d="M489.5 209.1V232.8M489.5 227.8V231.1M490.5 224.6V233.5M491.5 229V239.3"/>
<path class="u" d="M491.5 234.2V236.6"/>
<path class="d" d="M492.5 234.1V239.7M492.5 234.3V241.3"/>
<path class="u" d="M493.5 237.9V242.5"/>
<path class="d" d="M493.5 238V245.1"/>
<path class="u" d="M494.5 235V245.1"/>
<path class="d" d="M495.5 235.9V241.3"/>
<path class="u" d="M495.5 235V242.7"/>
<path class="d" d="M496.5 233.3V243.7"/>
<path class="u" d="M496.5 235.3V242.4"/>
<path class="d" d="M497.5 231.9V241.8"/>
<path class="u" d="M497.5 242V244.8"/>
<path class="d" d="M498.5 238.9V243.6M498.5 241.4V248.1M499.5 246.6V254.4"/>
<path class="u" d="M500.5 246.4V250.9M500.5 242.1V250.2"/>
<path class="d" d="M501.5 239.1V249.4M501.5 246.6V268.4"/>
<path class="u" d="M502.5 253.5V259.7"/>
<path class="d" d="M502.5 250.8V257.9"/>
<path class="u" d="M503.5 252.5V261.6"/>
<path class="d" d="M503.5 254.4V260.7M504.5 253V262.4M505.5 257.5V277.6"/>
<path class="u" d="M505.5 269.8V286.9"/>
<path class="d" d="M506.5 266.9V274M506.5 273.5V278.1M507.5 274.9V290.1M507.5 284.1V288.5"/>
<path class="u" d="M508.5 285.3V287.7"/>
<path class="d" d="M509.5 283.6V294.5M509.5 288.5V293.7M510.5 292.6V297M510.5 293.7V297.7M511.5 296.5V298.3M511.5 291.8V321.5"/>
<path class="u" d="M512.5 299.2V302.2"/>
<path class="d" d="M512.5 299.7V305.6"/>
<path class="u" d="M513.5 301V307"/>
<path class="d" d="M514.5 299.8V305.3"/>
<path class="u" d="M514.5 293.1V305.8M515.5 294.8V296.2M515.5 288.4V297.1M516.5 286.9V290.4"/>
<path class="d" d="M516.5 287.5V292"/>
<path class="u" d="M517.5 284.1V293"/>
<path class="d" d="M518.5 282.6V288.3M518.5 283.4V288.5"/>
<path class="u" d="M519.5 280.3V289.5M519.5 279.1V284M520.5 277.5V281.4M520.5 269.2V277.8"/>
<path class="d" d="M521.5 271.8V283.3M521.5 281.1V283.9"/>
<path class="u" d="M522.5 267.4V281.8"/>
<path class="d" d="M523.5 268.6V276.4M523.5 271.6V278.4M524.5 273.5V279.6M524.5 276.8V279.6M525.5 275.8V279.3M525.5 276.7V282.8"/>
<path class="u" d="M526.5 274.7V281.3"/>
<path class="d" d="M526.5 274.4V284.4M527.5 281.8V284.8M528.5 282.2V292.3"/>
<path class="u" d="M528.5 281.5V289.6M529.5 276.9V285.8"/>
<path class="d" d="M529.5 272.7V278.4"/>
<path class="u" d="M530.5 271.1V280.6M530.5 266.2V274.3M531.5 264.7V272.8"/>
<path class="d" d="M532.5 262.5V264.7"/>
<path class="u" d="M532.5 256.8V264.1M533.5 252V259.4"/>
<path class="d" d="M533.5 247.7V259.6"/>
<path class="u" d="M534.5 256.6V260.2"/>
<path class="d" d="M534.5 255.8V257.6"/>
<path class="u" d="M535.5 248.8V259"/>
<path class="d" d="M535.5 249.4V254.6"/>
<path class="u" d="M536.5 226.7V253.2"/>
<path class="d" d="M537.5 236.6V245.4"/>
<path class="u" d="M537.5 237V245.2"/>
<path class="d" d="M538.5 241.4V249.2"/>
<path class="u" d="M538.5 241.2V249.4"/>
<path class="d" d="M539.5 242.3V252.3"/>
<path class="u" d="M539.5 242.2V252"/>
<path class="d" d="M540.5 243.5V250.8M540.5 248.6V250.9"/>
<path class="u" d="M541.5 239.5V252.5"/>
<path class="d" d="M542.5 239.7V248.4"/>
<path class="u" d="M542.5 242.3V248.5M543.5 242V245.5M543.5 232.4V242.6M544.5 235.1V239.7M544.5 229V236.4M545.5 227.8V234.7"/>
<path class="d" d="M546.5 227V232.3M546.5 225.2V229.7"/>
<path class="u" d="M547.5 227.7V232.1M547.5 224.3V230.3"/>
<path class="d" d="M548.5 221.5V224.2"/>
<path class="u" d="M548.5 218.5V223.4"/>
<path class="d" d="M549.5 216V223.1M549.5 219.7V224.5"/>
<path class="u" d="M550.5 217.9V224"/>
<path class="d" d="M551.5 211.2V216.9"/>
<path class="u" d="M551.5 203.9V217.7"/>
<path class="d" d="M552.5 211.1V219M552.5 215.8V218.8"/>
<path class="u" d="M553.5 210.4V218M553.5 211.7V216.8"/>
<path class="d" d="M554.5 212.9V219.3M554.5 212.4V216.8M555.5 211.8V220"/>
<path class="u" d="M556.5 213.2V218.8"/>
<path class="d" d="M556.5 212.3V224"/>
<path class="u" d="M557.5 219V224.5"/>
<path class="d" d="M557.5 222.8V233.3"/>
<path class="u" d="M558.5 202.7V229.1"/>
<path class="d" d="M558.5 204.4V221M559.5 218V226M560.5 217.5V226.9"/>
<path class="u" d="M560.5 222.4V228.4"/>
<path class="d" d="M561.5 210.1V230.3"/>
<path class="u" d="M561.5 226.5V229.7"/>
<path class="d" d="M562.5 221.2V235.6M562.5 228.7V237.8"/>
<path class="u" d="M563.5 174.6V235.7"/>
<path class="d" d="M563.5 174.5V205.3M564.5 203.2V223.1M565.5 223.1V235.2M565.5 234.7V245.2M566.5 242.5V246M566.5 245.6V248.9"/>
<path class="u" d="M567.5 220.4V249.2"/>
<path class="d" d="M567.5 216.4V228.7M568.5 224.1V242M569.5 239.8V248.7M569.5 246V251.8"/>
<path class="u" d="M570.5 250.1V254.6"/>
<path class="d" d="M570.5 251.2V254"/>
<path class="u" d="M571.5 247.6V263.7M571.5 246.1V250.9M572.5 238.3V248.4M572.5 242V248.7"/>
<path class="d" d="M573.5 230.9V248.8"/>
<path class="u" d="M574.5 232.4V247.9M574.5 231.4V235.7"/>
<path class="d" d="M575.5 228.4V235.2"/>
<path class="u" d="M575.5 227.3V231.9M576.5 218.3V229.3M576.5 215.1V218.9M577.5 207.6V218.6M577.5 204V218.6M578.5 202.3V209.2M579.5 199.7V204.8"/>
<path class="d" d="M579.5 199.7V205.5"/>
<path class="u" d="M580.5 194.1V203.3M580.5 177.7V196.6M581.5 167V182.6"/>
<path class="d" d="M581.5 165.1V174.8"/>
<path class="u" d="M582.5 165.7V178.2M583.5 162.7V172.2"/>
<path class="d" d="M583.5 163.4V183.2"/>
<path class="u" d="M584.5 163.7V184"/>
<path class="d" d="M584.5 175.3V187.7M585.5 180.9V187.7"/>
<path class="u" d="M585.5 179.9V187.5M586.5 178.1V183.3M586.5 181.5V182.9M587.5 179.2V183.2M588.5 181.3V187.3"/>
<path class="d" d="M588.5 180.1V188.2"/>
<path class="u" d="M589.5 179.8V190.3M589.5 171.5V181.9"/>
<path class="d" d="M590.5 170.9V178.5M590.5 175.4V189M591.5 172.5V185.9"/>
<path class="u" d="M591.5 174.9V182.8"/>
<path class="d" d="M592.5 169.4V181.5M593.5 177.6V186.2M593.5 179.2V187.2M594.5 181V196.1M594.5 191.9V196.4M595.5 189.3V201.3M595.5 193.6V201.5M596.5 198.2V202.9M597.5 202.7V208.4M597.5 205.1V211.6M598.5 205.8V213.7"/>
<path class="u" d="M598.5 209.2V216.9"/>
<path class="d" d="M599.5 210.5V217.9M599.5 214.2V226.8"/>
<path class="u" d="M600.5 216.2V227.7M600.5 207.9V222M601.5 202V213.7"/>
<path class="d" d="M602.5 205V209.4"/>
<path class="u" d="M602.5 205.2V222.6M603.5 199.3V206.4"/>
<path class="d" d="M603.5 193.9V203.5"/>
<path class="u" d="M604.5 197.4V203.2M604.5 194.4V205.8M605.5 193.3V200.3"/>
<path class="d" d="M605.5 187.9V200.2"/>
<path class="u" d="M606.5 192.1V201.6"/>
<path class="d" d="M607.5 193.4V201.4"/>
<path class="u" d="M607.5 189.5V200.7"/>
<path class="d" d="M608.5 188.5V194.9"/>
<path class="u" d="M608.5 189.1V193.5"/>
<path class="d" d="M609.5 190.6V201.4"/>
<path class="u" d="M609.5 195.2V201.7M610.5 193.9V197.4"/>
<path class="d" d="M611.5 195.1V201.1M611.5 198.2V208.7"/>
<path class="u" d="M612.5 194.8V211.5M612.5 190.1V194.4"/>
<path class="d" d="M613.5 192.1V213.3M613.5 198.6V214.9"/>
<path class="u" d="M614.5 200.5V207.1"/>
<path class="d" d="M614.5 200.3V205M615.5 204.4V208.4"/>
<path class="u" d="M616.5 198.7V207.7M616.5 195.2V213.7M617.5 189.4V194.9"/>
<path class="d" d="M617.5 187.3V193.2"/>
<path class="u" d="M618.5 182.8V194.5"/>
<path class="d" d="M618.5 182V184.9M619.5 179.1V189.2"/>
<path class="u" d="M620.5 178.1V188.7"/>
<path class="d" d="M620.5 181V189.3"/>
<path class="u" d="M621.5 184.2V191.1M621.5 181.9V186.9M622.5 178.5V187.5M622.5 176.9V186.9"/>
<path class="d" d="M623.5 173.6V180M623.5 178.2V185.8M624.5 184.5V208.7"/>
<path class="u" d="M625.5 193.4V207.7M625.5 183.5V194.9M626.5 179.6V188.5M626.5 176.7V182.7M627.5 171.6V177.3"/>
<path class="d" d="M627.5 174V177.6M628.5 174V181.5"/>
<path class="u" d="M628.5 173.7V188.2M629.5 173.2V180.2"/>
<path class="d" d="M630.5 171.2V177"/>
<path class="u" d="M630.5 167.2V174.2"/>
<path class="d" d="M631.5 166.7V175.3M631.5 173.7V180.2"/>
<path class="u" d="M632.5 173V187.7M632.5 168.7V175.2"/>
<path class="d" d="M633.5 163.9V176.8"/>
<path class="u" d="M634.5 167.8V178.7M634.5 164.9V174"/>
<path class="d" d="M635.5 164.7V174.8M635.5 171.6V182.6M636.5 183V184.3M636.5 179.4V192.5"/>
<path class="u" d="M637.5 186V195.9"/>
<path class="d" d="M637.5 190.4V200.3"/>
<path class="u" d="M638.5 181.6V205.6"/>
<path class="d" d="M639.5 194.2V197.4M639.5 194.7V199.4"/>
<path class="u" d="M640.5 192.2V199.4"/>
<path class="d" d="M640.5 196.7V206.9"/>
<path class="u" d="M641.5 197.6V208.9"/>
<path class="d" d="M641.5 199.4V203.8"/>
<path class="u" d="M642.5 201.5V205.7"/>
<path class="d" d="M642.5 197.8V219.3M643.5 217.5V229.4"/>
<path class="u" d="M644.5 218.5V232.1M644.5 209.7V221.1"/>
<path class="d" d="M645.5 206.9V211.7M645.5 205.8V222.1"/>
<path class="u" d="M646.5 212.7V223.2M646.5 212.4V216.2M647.5 206.8V215.9"/>
<path class="d" d="M648.5 203.3V210.8"/>
<path class="u" d="M648.5 201.5V215.7"/>
<path class="d" d="M649.5 204.2V212.3"/>
<path class="u" d="M649.5 206V213.5"/>
<path class="d" d="M650.5 203.8V218.4M650.5 216.2V222.3"/>
<path class="u" d="M651.5 207.2V219.1"/>
<path class="d" d="M651.5 200V220.9M652.5 216.7V234.1"/>
<path class="u" d="M653.5 222V232.2"/>
<path class="d" d="M653.5 221.2V235"/>
<path class="u" d="M654.5 222.1V240.2"/>
<path class="d" d="M654.5 225V228.2M655.5 226.3V232.8"/>
<path class="u" d="M655.5 215.7V235.6M656.5 215V227.4M656.5 203.9V218.1M657.5 196.9V205.4M658.5 186.1V201.5"/>
<path class="d" d="M658.5 188.3V196.6"/>
<path class="u" d="M659.5 170.8V197.2"/>
<path class="d" d="M659.5 180.1V184"/>
<path class="u" d="M660.5 176.9V183.4M660.5 167V185M661.5 174.6V176.7"/>
<path class="d" d="M662.5 172.4V173.7M662.5 170V177.4M663.5 172.6V180.2M663.5 175.4V199.2M664.5 194.2V197.8"/>
<path class="u" d="M664.5 187.2V211.1"/>
<path class="d" d="M665.5 182.9V192.2M665.5 190.8V195.1"/>
<path class="u" d="M666.5 189.5V195.6"/>
<path class="d" d="M667.5 191.1V195.3M667.5 192.5V199.2"/>
<path class="u" d="M668.5 180.4V199.3"/>
<path class="d" d="M668.5 176.6V191M669.5 184.8V202.6"/>
<path class="u" d="M669.5 197.4V204.9"/>
<path class="d" d="M670.5 195.1V205.9"/>
<path class="u" d="M670.5 204V206.4"/>
<path class="d" d="M671.5 203.2V211.9"/>
<path class="u" d="M672.5 205.4V212.5"/>
<path class="d" d="M672.5 208.9V213.8"/>
<path class="u" d="M673.5 208.9V211.3M673.5 201.3V213"/>
<path class="d" d="M674.5 206.6V215.1"/>
<path class="u" d="M674.5 207.7V215.4"/>
<path class="d" d="M675.5 208.3V211.9"/>
<path class="u" d="M676.5 207.7V209M676.5 207.3V210.5"/>
<path class="d" d="M677.5 205.3V212.1M677.5 204.8V206.7"/>
<path class="u" d="M678.5 201.2V207.6"/>
<path class="d" d="M678.5 200.3V208.8"/>
<path class="u" d="M679.5 201V210.1M679.5 185.2V201.7"/>
<path class="d" d="M680.5 186.1V192"/>
<path class="u" d="M681.5 189.4V194.8"/>
<path class="d" d="M681.5 188.9V196.3M682.5 192.5V199.9"/>
<path class="u" d="M682.5 197.1V201.3"/>
<path class="d" d="M683.5 195.2V208.1"/>
<path class="u" d="M683.5 201.9V210.4"/>
<path class="d" d="M684.5 195V206M685.5 200.7V212.3M685.5 211.5V220.2M686.5 219.6V228.3"/>
<path class="u" d="M686.5 211.7V229.3M687.5 211.3V213.5"/>
<path class="d" d="M687.5 208.9V220.5M688.5 218.2V225.4M688.5 224V227.9M689.5 229.1V242.6"/>
<path class="u" d="M690.5 240.1V243.6M690.5 235.2V241.3"/>
<path class="d" d="M691.5 235.4V242.9M691.5 241.4V248"/>
<path class="u" d="M692.5 245.3V260.6"/>
<path class="d" d="M692.5 245.1V251.9"/>
<path class="u" d="M693.5 246.8V251.7M693.5 247.1V251.6"/>
<path class="d" d="M694.5 247V253.6"/>
<path class="u" d="M695.5 247.1V255.5M695.5 243.2V249.5"/>
<path class="d" d="M696.5 245.7V258.9M696.5 252.4V256.9"/>
<path class="u" d="M697.5 232.7V252.9"/>
<path class="d" d="M697.5 235.3V249.1M698.5 246.3V252.7M699.5 250.4V253.3M699.5 249.6V262.8"/>
<path class="u" d="M700.5 262V264.7"/>
<path class="d" d="M700.5 260.6V277.3"/>
<path class="u" d="M701.5 268.9V278.1M701.5 263.7V271"/>
<path class="d" d="M702.5 262V270.3"/>
<path class="u" d="M702.5 266.7V270.6"/>
<path class="d" d="M703.5 265V273.5"/>
<path class="u" d="M704.5 265.3V275.3"/>
<path class="d" d="M704.5 263.5V271.8M705.5 271.8V278"/>
<path class="u" d="M705.5 275.3V279.2M706.5 264.2V278.7"/>
<path class="d" d="M706.5 264.6V281.2"/>
<path class="u" d="M707.5 270.5V283.5"/>
<path class="d" d="M707.5 280.1V292.7M708.5 289.3V292.5M709.5 291.3V292.5M709.5 288V294M710.5 290.1V299.8M710.5 289.7V314.9"/>
<path class="u" d="M711.5 300V314.2M711.5 301.2V310.7M712.5 298V305.3"/>
<path class="d" d="M713.5 299.5V305.1"/>
<path class="u" d="M713.5 298.6V305.5M714.5 292.9V302.8"/>
<path class="d" d="M714.5 294.9V304.1"/>
<path class="u" d="M715.5 290.1V304.3M715.5 281.7V290.2M716.5 274.4V284.9"/>
<path class="d" d="M716.5 275.1V286.3M717.5 285V288.3"/>
<path class="u" d="M718.5 276V290.4M718.5 276.3V279.7M719.5 268.3V277.6M719.5 253.7V272.1M720.5 249.6V255"/>
<path class="d" d="M720.5 250.2V265.6M721.5 257.5V264.8"/>
<path class="u" d="M721.5 254.2V263.3"/>
<path class="d" d="M722.5 255.9V262.9M723.5 256.6V268.5M723.5 259.7V269.7M724.5 269V274.6M724.5 275V281.9M725.5 278.1V282.5M725.5 278.6V294.9M726.5 292.5V294M727.5 291.8V296.1M727.5 293.2V297.6M728.5 297.9V302M728.5 300.8V303.3M729.5 303.8V313.3"/>
<path class="u" d="M729.5 303.8V311.3M730.5 298.6V307.6M730.5 291.1V300M731.5 284.8V295.2M732.5 285.2V293.3M732.5 283.6V286.8M733.5 266.2V287.1"/>
<path class="d" d="M733.5 280.1V289.2"/>
<path class="u" d="M734.5 278.8V288.4M734.5 276.5V279.5"/>
<path class="d" d="M735.5 273.3V284.2"/>
<path class="u" d="M736.5 281.2V283.6M736.5 277.3V282.2M737.5 274.9V278M737.5 270.6V275.7"/>
<path class="d" d="M738.5 272.3V278.1M738.5 272.7V279.4M739.5 274.9V280.7M739.5 278.7V282.1M740.5 281.7V287.8"/>
<path class="u" d="M741.5 282.7V288.7M741.5 278.2V286.7"/>
<path class="d" d="M742.5 279.5V285.6M742.5 280.4V283.1M743.5 280.2V282.8M743.5 281.7V288.3"/>
<path class="u" d="M744.5 281.2V288.3"/>
<path class="d" d="M744.5 279.6V286M745.5 282.3V291.8M746.5 285.7V293.6M746.5 290.5V302"/>
<path class="u" d="M747.5 300.8V303.2M747.5 299.3V301.6"/>
<path class="d" d="M748.5 294.4V306.6M748.5 304.1V312.2M749.5 306.6V324.5"/>
<path class="u" d="M750.5 320.3V328.2"/>
<path class="d" d="M750.5 323.4V329.6"/>
<path class="u" d="M751.5 325V330.3M751.5 324.4V327.2"/>
<path class="d" d="M752.5 326.2V335.3M752.5 331.2V333"/>
<path class="u" d="M753.5 331.1V334.3M753.5 327.7V332.9M754.5 325.4V329.5"/>
<path class="d" d="M755.5 325.2V328.1M755.5 318.5V329.7"/>
<path class="u" d="M756.5 328.8V332.1M756.5 324.9V329.8M757.5 321.4V327.6M757.5 310.6V325.4"/>
<path class="d" d="M758.5 310.1V319.1"/>
<path class="u" d="M758.5 314.8V318"/>
<path class="d" d="M759.5 317.3V321.5M760.5 319.9V323.3"/>
<path class="u" d="M760.5 318.7V325.4M761.5 317.4V321.6"/>
<path class="d" d="M761.5 310.2V327.6M762.5 323.1V328.1M762.5 324.7V326.4M763.5 323V329.3"/>
<path class="u" d="M764.5 324.3V328.4"/>
<path class="d" d="M764.5 324.7V331.8M765.5 328.7V333.5M765.5 330.5V335.6"/>
<path class="u" d="M766.5 323.8V337.5"/>
<path class="d" d="M766.5 325.4V331.1"/>
<path class="u" d="M767.5 322.9V329.7"/>
<path class="d" d="M767.5 321.6V322.6"/>
<path class="u" d="M768.5 316.4V332.4"/>
<path class="d" d="M769.5 318.3V324.2"/>
<path class="u" d="M769.5 321.7V325M770.5 315.6V324"/>
<path class="d" d="M770.5 313.5V318.5M771.5 316.7V329.9"/>
<path class="u" d="M771.5 318V330.6"/>
<path class="d" d="M772.5 319.8V326.4"/>
<path class="u" d="M772.5 315.6V324.1M773.5 308.8V321.4"/>
<path class="d" d="M774.5 309.4V332.9"/>
<path class="u" d="M774.5 320.2V340M775.5 317.6V333.9M775.5 319.5V322.4M776.5 316.3V320.6M776.5 309.3V319.9"/>
<path class="d" d="M777.5 309.7V322.4"/>
<path class="u" d="M778.5 316.9V322.5M778.5 307V324.2"/>
<path class="d" d="M779.5 308.4V313.7M779.5 305.1V314.6"/>
<path class="u" d="M780.5 314.9V319.3"/>
<path class="d" d="M780.5 314.3V324.9"/>
<path class="u" d="M781.5 321.2V322.2"/>
<path class="d" d="M781.5 323.2V331.5"/>
<path class="u" d="M782.5 325.2V332.2M783.5 317.6V327.8"/>
<path class="d" d="M783.5 315.9V323.1"/>
<path class="u" d="M784.5 316.7V324.5M784.5 316V322.7M785.5 316.4V320.2M785.5 316.2V319.5M786.5 299.7V317.3"/>
<path class="d" d="M787.5 301.1V305.5M787.5 294.7V309M788.5 306.4V312M788.5 307.8V316.1M789.5 313.8V320.7M789.5 318.1V322.1M790.5 316.1V331.8"/>
<path class="u" d="M790.5 321.6V327.5M791.5 317.7V321.9"/>
<path class="d" d="M792.5 316.7V323M792.5 321.3V325.7M793.5 325.2V328.4M793.5 321.7V331.7M794.5 329.8V332.9M794.5 330.6V341.2M795.5 335.2V338.4"/>
<path class="u" d="M795.5 338.5V341.5"/>
<path class="d" d="M796.5 337.9V341.8"/>
<path class="u" d="M797.5 336V343.5M797.5 333.7V339.4M798.5 333V337.2"/>
<path class="d" d="M798.5 333V337.1M799.5 335.6V343.7"/>
<path class="u" d="M799.5 335.2V345.7"/>
<path class="d" d="M800.5 335.6V339"/>
<path class="u" d="M801.5 336.6V341.3M801.5 335.6V341.1"/>
<path class="d" d="M802.5 337.1V345M802.5 341V347.7"/>
<path class="u" d="M803.5 341V348.1"/>
<path class="d" d="M803.5 339.9V342.1M804.5 341.2V343.8"/>
<path class="u" d="M804.5 336.7V352.9"/>
<path class="d" d="M805.5 335.1V340.1M806.5 335.4V341.7"/>
<path class="u" d="M806.5 335.4V343.5"/>
<path class="d" d="M807.5 334.2V339.1"/>
<path class="u" d="M807.5 339.4V342.3M808.5 338.3V339.7"/>
<path class="d" d="M808.5 339.2V341"/>
<path class="u" d="M809.5 334.5V345.9M809.5 332.1V342"/>
<path class="d" d="M810.5 333.1V336.6M811.5 332.3V342.1"/>
<path class="u" d="M811.5 339.9V342.4M812.5 337.1V338.3M812.5 330.3V338.6"/>
<path class="d" d="M813.5 331.3V336.8M813.5 333.5V338.1M814.5 335.9V338.8M815.5 336.2V340.2M815.5 337.6V346"/>
<path class="u" d="M816.5 336.4V341.9M816.5 331.7V341.8"/>
<path class="d" d="M817.5 333.6V334.9"/>
<path class="u" d="M817.5 332.4V336.2M818.5 323.3V335.6"/>
<path class="d" d="M818.5 329.6V338.8M819.5 328.7V337.5"/>
<path class="u" d="M820.5 323.4V335.7M820.5 315.1V324.2M821.5 313.8V320.3"/>
<path class="d" d="M821.5 315.2V316.9"/>
<path class="u" d="M822.5 308.8V315.6"/>
<path class="d" d="M822.5 309.6V316.5"/>
<path class="u" d="M823.5 304.8V316.2M823.5 295.5V308.1"/>
<path class="d" d="M824.5 293.7V297.9M825.5 293.4V302.8"/>
<path class="u" d="M825.5 287.7V296.9"/>
<path class="d" d="M826.5 290.6V297.1"/>
<path class="u" d="M826.5 290.8V297.2M827.5 283.9V292.8M827.5 283.2V287.3M828.5 271.2V283.1M829.5 275.6V278.3M829.5 272.7V286.5M830.5 269.2V276.4"/>
<path class="d" d="M830.5 258.7V275.3"/>
<path class="u" d="M831.5 270.7V278.5M831.5 271.3V273.5M832.5 265.8V277.5"/>
<path class="d" d="M832.5 264.6V270.4M833.5 270.5V274"/>
<path class="u" d="M834.5 268.6V273.9"/>
<path class="d" d="M834.5 268.3V274.8"/>
<path class="u" d="M835.5 259.8V272.3"/>
<path class="d" d="M835.5 259.9V266.9M836.5 265.4V272.2"/>
<path class="u" d="M836.5 269.3V273.3"/>
<path class="d" d="M837.5 256.4V270.9M837.5 269.2V276.7"/>
<path class="u" d="M838.5 269V274.9M839.5 269V271.7"/>
<path class="d" d="M839.5 267.3V271.9"/>
<path class="u" d="M840.5 262.9V274.7M840.5 260V266.5M841.5 259.5V263.3M841.5 259.9V264.1"/>
<path class="d" d="M842.5 260.3V264.3M843.5 263.4V267.5"/>
<path class="u" d="M843.5 263.8V267.1M844.5 264.5V265.6M844.5 258.1V265.4"/>
<path class="d" d="M845.5 259.5V276.6"/>
<path class="u" d="M845.5 269.1V276.7M846.5 268.2V272.5M846.5 267.8V271.1M847.5 259.8V267.8"/>
<path class="d" d="M848.5 261.7V273.6"/>
<path class="u" d="M848.5 252.7V270.5"/>
<path class="d" d="M849.5 256.1V265"/>
<path class="u" d="M849.5 255V266"/>
<path class="d" d="M850.5 263.5V266.8"/>
<path class="u" d="M850.5 258V276.7M851.5 252.6V265.8"/>
<path class="d" d="M852.5 250.5V267"/>
<path class="u" d="M852.5 252.7V256"/>
<path class="d" d="M853.5 253.7V258M853.5 254.3V261.4M854.5 259.5V263.5M854.5 261V270.1M855.5 266.6V274.1"/>
<path class="u" d="M855.5 265.8V282.6M856.5 263.7V268.7"/>
<path class="d" d="M857.5 251.1V270M857.5 266.6V273.8M858.5 269.1V274.1M858.5 267.2V274.3M859.5 274.3V277.2"/>
<path class="u" d="M859.5 274.6V280.6M860.5 269.6V273.6M860.5 270.7V274.9"/>
<path class="d" d="M861.5 270.6V278.1M862.5 270.1V278.1"/>
<path class="u" d="M862.5 274.2V277.4"/>
<path class="d" d="M863.5 277.7V281.4"/>
<path class="u" d="M863.5 273.7V281.5"/>
<path class="d" d="M864.5 275V277.5M864.5 274V278.2"/>
<path class="u" d="M865.5 278.2V289.7"/>
<path class="d" d="M866.5 277V282.6M866.5 283.1V291.9"/>
<path class="u" d="M867.5 285.3V289.6"/>
<path class="d" d="M867.5 285.7V292.5M868.5 290V291"/>
<path class="u" d="M868.5 286.8V291.7"/>
<path class="d" d="M869.5 283.5V294"/>
<path class="u" d="M869.5 289.9V291.5M870.5 284.5V291.9"/>
<path class="d" d="M871.5 283V285.2M871.5 284.2V288.2"/>
<path class="u" d="M872.5 273.8V287.3M872.5 274.7V278.9"/>
<path class="d" d="M873.5 269.6V277"/>
<path class="u" d="M873.5 272.7V287.7M874.5 265.9V273.2M874.5 263.9V267.9M875.5 263.3V269.8M876.5 263.1V267.1M876.5 260.2V266.2"/>
<path class="d" d="M877.5 262.4V264.9"/>
<path class="u" d="M877.5 260.4V266.8M878.5 256V264.6M878.5 252.6V258.5"/>
<path class="d" d="M879.5 254.7V260.8M880.5 253.2V268.8"/>
<path class="u" d="M880.5 255.5V271.1"/>
<path class="d" d="M881.5 253.4V257"/>
<path class="u" d="M881.5 247.8V254.7M882.5 241.2V253.3"/>
<path class="d" d="M882.5 239.7V257.4M883.5 254.2V262.4"/>
<path class="u" d="M883.5 250.5V267.5"/>
<path class="d" d="M884.5 249.7V252.6"/>
<path class="u" d="M885.5 246.5V253.6"/>
<path class="d" d="M885.5 249.5V252.1M886.5 249.6V252.9"/>
<path class="u" d="M886.5 252.4V258.1"/>
<path class="d" d="M887.5 250.3V255.8M887.5 253.1V260.4"/>
<path class="u" d="M888.5 251.3V263.1M888.5 249.4V253"/>
<path class="d" d="M889.5 242.9V257.8M890.5 242.5V254.7M890.5 252.1V253.7"/>
<path class="u" d="M891.5 249.6V254.9"/>
<path class="d" d="M891.5 248.5V256.6M892.5 255.9V262.7M892.5 255.1V267.2"/>
<path class="u" d="M893.5 262.7V279.3M894.5 261.1V262.9"/>
<path class="d" d="M894.5 261V266.2"/>
<path class="u" d="M895.5 258.4V261.5"/>
<path class="d" d="M895.5 261.8V266.8"/>
<path class="u" d="M896.5 262.9V265.3M896.5 257.9V264.2"/>
<path class="d" d="M897.5 259.8V262"/>
<path class="u" d="M897.5 253.5V263.2M898.5 254.8V259.5"/>
<path class="d" d="M899.5 253.9V264.1"/>
<path class="u" d="M899.5 254.2V259.4"/>
<path class="d" d="M900.5 228V265.1"/>
<path class="u" d="M900.5 255.9V267.5M901.5 238.6V257.8"/>
<path class="d" d="M901.5 235.3V246.6"/>
<path class="u" d="M902.5 242.5V247.2M903.5 231.6V251.7"/>
<path class="d" d="M903.5 232.2V248.5M904.5 238.2V247.1M904.5 245V252.5M905.5 250.5V251.8M905.5 249.2V255"/>
<path class="u" d="M906.5 244.3V252.9"/>
<path class="d" d="M906.5 241.6V251.5M907.5 249.4V257.3M908.5 252.9V260M908.5 258V266M909.5 261.5V268.6"/>
<path class="u" d="M909.5 266.2V269.5M910.5 263.1V270.6"/>
<path class="d" d="M910.5 263V270.5M911.5 267.8V277.4"/>
<path class="u" d="M911.5 270.1V277M912.5 264V277.7M913.5 260.3V272"/>
<path class="d" d="M913.5 260.7V269.4M914.5 264.5V275.5"/>
<path class="u" d="M914.5 266.3V272.9"/>
<path class="d" d="M915.5 265.6V278.4"/>
<path class="u" d="M915.5 276.4V280.5"/>
<path class="d" d="M916.5 272.3V282.5M917.5 279.6V282.1M917.5 279.2V290.7"/>
<path class="u" d="M918.5 285.6V293.2M918.5 278V289M919.5 276.2V291.7M919.5 274.8V277.3"/>
<path class="d" d="M920.5 272.6V276.1"/>
<path class="u" d="M920.5 272V276.9"/>
<path class="d" d="M921.5 272.6V276.2"/>
<path class="u" d="M922.5 273.3V276.6M922.5 263.8V276.4"/>
<path class="d" d="M923.5 263.2V271.2"/>
<path class="u" d="M923.5 263.4V270.8"/>
<path class="d" d="M924.5 257.7V270.1"/>
<path class="u" d="M924.5 256.2V271.6"/>
<path class="d" d="M925.5 255.4V266.1M925.5 262.7V269.9M926.5 268.8V281.5"/>
<path class="u" d="M927.5 274.3V282.7"/>
<path class="d" d="M927.5 274.8V281.3M928.5 276.1V285.9M928.5 284.7V291.4"/>
<path class="u" d="M929.5 282V291.8"/>
<path class="d" d="M929.5 275.8V288.7M930.5 285.5V292.2M931.5 291.1V295.4M931.5 293.6V297.2"/>
<path class="u" d="M932.5 290.2V294.5"/>
<path class="d" d="M932.5 289.8V295.1M933.5 292.7V303.8"/>
<path class="u" d="M933.5 296.3V300.4"/>
<path class="d" d="M934.5 295.6V301.2M934.5 289.5V302.4"/>
<path class="u" d="M935.5 302V306.6"/>
<path class="d" d="M936.5 300.9V305.3"/>
<path class="u" d="M936.5 299.1V305.6"/>
<path class="d" d="M937.5 299.4V321.4"/>
<path class="u" d="M937.5 313.3V321.8M938.5 304.4V317.3"/>
<path class="d" d="M938.5 305.6V314.9M939.5 312.7V316.4M939.5 313.9V328.7"/>
<path class="u" d="M940.5 323.4V328.9M941.5 321.3V323.1"/>
<path class="d" d="M941.5 320.7V327.8"/>
<path class="u" d="M942.5 325V326.7"/>
<path class="d" d="M942.5 324.8V329.7M943.5 326.8V332.1"/>
<path class="u" d="M943.5 325.6V331.2"/>
<path class="d" d="M944.5 326.2V334"/>
<path class="u" d="M945.5 333.5V337.2"/>
<path class="d" d="M945.5 334.9V336.8"/>
<path class="u" d="M946.5 331.3V335M946.5 331.5V335.7"/>
<path class="d" d="M947.5 332.6V348.6M947.5 347.4V352.2"/>
<path class="u" d="M948.5 345.7V355.1M948.5 345V346.6M949.5 344.7V347.7M950.5 324.7V347.6"/>
<path class="d" d="M950.5 328.5V338.2"/>
<path class="u" d="M951.5 334.4V336.6"/>
<path class="d" d="M951.5 335.5V342.2M952.5 339.6V345.5M952.5 343.3V351.7"/>
<path class="u" d="M953.5 349.6V351.9"/>
<path class="d" d="M954.5 348.8V353.6"/>
<path class="u" d="M954.5 346.7V352.6"/>
<path class="d" d="M955.5 345.8V353.8"/>
<path class="u" d="M955.5 350.8V356M956.5 351.1V355.2M956.5 348.6V355.6"/>
<path class="d" d="M957.5 349.7V361.9"/>
<path class="u" d="M957.5 353.3V360"/>
<path class="d" d="M958.5 349.9V361.9M959.5 357.8V365.1"/>
<path class="u" d="M959.5 362.3V366.1"/>
<path class="d" d="M960.5 362.5V368.6M960.5 365.3V370.4M961.5 368V371.9"/>
<path class="u" d="M961.5 372.3V373.3"/>
<path class="d" d="M962.5 370.4V372.9M962.5 371.9V377.5M963.5 377.3V389.7"/>
<path class="u" d="M964.5 373.7V383"/>
<path class="d" d="M964.5 373.8V380.8M965.5 381.6V382.9M965.5 379.4V390.6M966.5 385V394.9"/>
<path class="u" d="M966.5 390.2V395.4"/>
<path class="d" d="M967.5 390.4V396.4M968.5 394V396.4M968.5 396.6V400.1M969.5 396.8V399.1M969.5 397.9V400M970.5 397.7V400.7M970.5 397.6V403M971.5 398.5V404.8"/>
<path class="u" d="M971.5 398.5V404.9M972.5 396V399.8M973.5 391.5V404.7"/>
<path class="d" d="M973.5 388.2V393.3"/>
<path class="u" d="M974.5 390.9V392.2M974.5 389.9V392.8M975.5 381.8V389.5M975.5 384.6V391.2"/>
<path class="d" d="M976.5 386.7V388.3"/>
<path class="u" d="M976.5 385.6V387.8"/>
<path class="d" d="M977.5 387.2V389.6"/>
<path class="u" d="M978.5 387V397.2"/>
<path class="d" d="M978.5 388.4V391.1M979.5 386V394"/>
<path class="u" d="M979.5 387.8V394.8"/>
<path class="d" d="M980.5 388.7V392.3"/>
<path class="u" d="M980.5 390.7V392.9M981.5 389.4V393.3"/>
<path class="d" d="M982.5 387.9V390.4M982.5 389V391.6M983.5 390V395.3"/>
<path class="u" d="M983.5 393.9V395.6"/>
<path class="d" d="M984.5 393.4V396.5"/>
<path class="u" d="M984.5 394.8V396.6M985.5 396.8V398.1M985.5 392.5V400.6M986.5 390.6V395.7M987.5 389.2V392.4"/>
<path class="d" d="M987.5 389V391.9M988.5 389V393.2M988.5 390.8V393.9"/>
<path class="u" d="M989.5 389.2V394.5M989.5 388.5V389.5M990.5 385.4V391.6"/>
<path class="d" d="M990.5 385.7V387.7M991.5 382V388.4"/>
<path class="u" d="M992.5 386.3V389.3"/>
<path class="d" d="M992.5 388.1V389.7"/>
<path class="u" d="M993.5 387.9V390.3M993.5 386.6V391M994.5 385.4V389"/>
<path class="d" d="M994.5 384.3V389"/>
<path class="u" d="M995.5 386.8V391.9"/>
<path class="d" d="M996.5 387V388M996.5 385.5V389.6"/>
<path class="u" d="M997.5 389.3V392.9M997.5 389.9V391.9M998.5 388.7V393.6M998.5 386.7V390.2"/>
<path class="d" d="M999.5 385.4V391"/>
<path class="u" d="M999.5 388V390.2M1000.5 384.8V389.7M1001.5 383V387.2"/>
<path class="d" d="M1001.5 379.7V386.2M1002.5 384.2V388.7M1002.5 386.3V389.5"/>
<path class="u" d="M1003.5 389.6V392"/>
<path class="d" d="M1003.5 389.1V394.1"/>
<path class="u" d="M1004.5 388.5V395.4"/>
<path class="d" d="M1004.5 380.1V389.6M1005.5 385.1V391.3"/>
<path class="u" d="M1006.5 383.6V388.6"/>
<path class="d" d="M1006.5 387.4V389.6"/>
<path class="u" d="M1007.5 382.3V391.9"/>
<path class="d" d="M1007.5 382.6V386.8M1008.5 386.4V387.8M1008.5 386.2V391"/>
<path class="u" d="M1009.5 385.5V390.5M1010.5 385.8V389.6"/>
<path class="d" d="M1010.5 387.2V392.2"/>
<path class="u" d="M1011.5 390V392.2M1011.5 386.9V393"/>
<path class="d" d="M1012.5 384.6V391.1M1012.5 387.5V394.7"/>
<path class="u" d="M1013.5 393.6V395.9M1013.5 392.1V395.9"/>
<path class="d" d="M1014.5 392.6V398.3M1015.5 395.3V397.5"/>
<path class="u" d="M1015.5 394.6V395.6M1016.5 391.3V395.6"/>
<path class="d" d="M1016.5 393.2V395.3M1017.5 393V394.5"/>
<path class="u" d="M1017.5 392.5V394.9M1018.5 389.2V393.1"/>
<path class="d" d="M1019.5 389.5V395.5"/>
<path class="u" d="M1019.5 387V395.3M1020.5 384.3V387.8"/>
<path class="d" d="M1020.5 383.6V386"/>
<path class="u" d="M1021.5 378.7V385.9"/>
<path class="d" d="M1021.5 379.6V384.3"/>
<path class="u" d="M1022.5 377.9V385M1022.5 377.5V379.7"/>
<path class="d" d="M1023.5 376.2V379.6"/>
<path class="u" d="M1024.5 373.6V379.2M1024.5 368.1V379.3"/>
<path class="d" d="M1025.5 370.1V373.1"/>
<path class="u" d="M1025.5 365.8V373.4M1026.5 363.6V366.5M1026.5 359.5V364.5M1027.5 347.2V361.3"/>
<path class="d" d="M1027.5 353.6V359.1"/>
<path class="u" d="M1028.5 344.7V356.2M1029.5 348.8V354.2M1029.5 347V350.2M1030.5 345.6V351.5"/>
<path class="d" d="M1030.5 345.2V348M1031.5 345.6V347.5"/>
<path class="u" d="M1031.5 343.7V347.2M1032.5 342.1V348.7"/>
<path class="d" d="M1033.5 335.1V347.9"/>
<path class="u" d="M1033.5 344.6V349.8"/>
<path class="d" d="M1034.5 344.1V364"/>
<path class="u" d="M1034.5 351.9V363.8M1035.5 343.6V352.6M1035.5 342.2V344.9M1036.5 329.8V342.3"/>
<path class="d" d="M1036.5 338.4V344.1M1037.5 341.1V344.4"/>
<path class="u" d="M1038.5 343.2V345.4M1038.5 344V347.5"/>
<path class="d" d="M1039.5 343.7V351M1039.5 347.1V350"/>
<path class="u" d="M1040.5 345V347.6"/>
<path class="d" d="M1040.5 345.7V347.9M1041.5 345.4V358.2M1041.5 349.4V357.9"/>
<path class="u" d="M1042.5 354.8V358.2M1043.5 353.1V358.7M1043.5 346.4V355.3"/>
<path class="d" d="M1044.5 349.1V355.9M1044.5 353.5V355.9M1045.5 348.8V357.8"/>
<path class="u" d="M1045.5 356.2V358.3"/>
<path class="d" d="M1046.5 356.1V362.8M1047.5 359.2V363.5"/>
<path class="u" d="M1047.5 357.5V364.8"/>
<path class="d" d="M1048.5 355.8V360.5"/>
<path class="u" d="M1048.5 359.6V361.5M1049.5 358.4V362"/>
<path class="d" d="M1049.5 357.8V361.5"/>
<path class="u" d="M1050.5 358.8V363.5M1050.5 355.3V361.8"/>
<path class="d" d="M1051.5 355.4V359.1M1052.5 357.7V363.1M1052.5 359V367M1053.5 362.4V364.4"/>
<path class="u" d="M1053.5 359.9V366.5M1054.5 361.7V363.9"/>
<path class="d" d="M1054.5 361.2V362.7M1055.5 361.6V364.3M1055.5 364.4V368M1056.5 366.2V367.4"/>
<path class="u" d="M1057.5 361.1V366.8"/>
<path class="d" d="M1057.5 359V367"/>
<path class="u" d="M1058.5 359.7V365.4"/>
<path class="d" d="M1058.5 360.9V367.9M1059.5 367.4V371.4M1059.5 370.9V385.3"/>
<path class="u" d="M1060.5 377.6V385.2"/>
<path class="d" d="M1061.5 377.4V383M1061.5 380.5V391.7M1062.5 388.9V392.9M1062.5 393V404.3M1063.5 401.3V409.5M1063.5 409.2V413.8M1064.5 409.8V419.8M1064.5 420V426.1"/>
<path class="u" d="M1065.5 426.2V427.3"/>
<path class="d" d="M1066.5 424.6V428.8M1066.5 425.8V429.1"/>
<path class="u" d="M1067.5 426.8V431"/>
<path class="d" d="M1067.5 425.9V430.8M1068.5 429.9V437.8M1068.5 431.9V434.2M1069.5 432.4V435.1M1070.5 434.5V436.1M1070.5 436.2V437.3M1071.5 436.7V439.9"/>
<path class="u" d="M1071.5 438.4V440.1"/>
<path class="d" d="M1072.5 438.5V441.6M1072.5 438.7V446.8"/>
<path class="u" d="M1073.5 437.1V440.4M1073.5 436.1V439.6"/>
<path class="d" d="M1074.5 434.6V437.4"/>
<path class="u" d="M1075.5 434V437.6M1075.5 432.7V434.1M1076.5 430.4V433.6"/>
<path class="d" d="M1076.5 430.5V433.6"/>
<path class="u" d="M1077.5 427.2V431.6M1077.5 426.3V433.4M1078.5 421.7V428.5M1078.5 418.5V424.6M1079.5 415.9V422.2M1080.5 416.9V419.1M1080.5 412.3V419.2M1081.5 411.1V414.5M1081.5 408.2V411.8"/>
<path class="d" d="M1082.5 409V412"/>
<path class="u" d="M1082.5 408.6V411"/>
<path class="d" d="M1083.5 409.9V412.2"/>
<path class="u" d="M1084.5 410.3V412"/>
<path class="d" d="M1084.5 410.7V414M1085.5 411.6V423.2M1085.5 418.9V421.9"/>
<path class="u" d="M1086.5 414.1V423.7"/>
<path class="d" d="M1086.5 413.4V415.5M1087.5 412.6V423.9"/>
<path class="u" d="M1087.5 422.4V426.4"/>
<path class="d" d="M1088.5 423V425.5"/>
<path class="u" d="M1089.5 421.8V424.4"/>
<path class="d" d="M1089.5 422.6V425.6M1090.5 425V433.7M1090.5 427.4V432.5M1091.5 431.1V433.3"/>
<path class="u" d="M1091.5 430.3V435.1"/>
<path class="d" d="M1092.5 429.3V433.6M1092.5 428.9V433.6M1093.5 431.3V437.6M1094.5 432.4V437.3M1094.5 435.1V440.6M1095.5 440.5V443.1M1095.5 442.8V444.3M1096.5 442.9V449.9M1096.5 449.6V453.6M1097.5 453.8V456.1M1098.5 454.4V458.2M1098.5 458.3V462M1099.5 460V463.3M1099.5 462.2V464"/>
<path class="u" d="M1100.5 460.8V464M1100.5 460.9V463.4"/>
<path class="d" d="M1101.5 461.5V464.1"/>
<path class="u" d="M1101.5 459.5V466.5M1102.5 454.8V461.7"/>
<path class="d" d="M1103.5 454.7V464.5"/>
<path class="u" d="M1103.5 461.8V464.4M1104.5 462V463.4"/>
<path class="d" d="M1104.5 460.9V464.6"/>
<path class="u" d="M1105.5 464V465M1105.5 463.6V464.6M1106.5 461.3V465.9"/>
<path class="d" d="M1106.5 460.9V462.9M1107.5 461.3V463M1108.5 460.4V468.7"/>
<path class="u" d="M1108.5 461.9V467.2M1109.5 461.5V463"/>
<path class="d" d="M1109.5 460.5V462.8"/>
<path class="u" d="M1110.5 460.1V462.5"/>
<path class="d" d="M1110.5 459.8V464.9"/>
<path class="u" d="M1111.5 462.8V464.5"/>
<path class="d" d="M1112.5 463.6V465.5M1112.5 463.5V467.5M1113.5 466V469.7"/>
<path class="u" d="M1113.5 466.3V469"/>
<path class="d" d="M1114.5 466.4V469.3"/>
<path class="u" d="M1114.5 465V469.8"/>
<path class="d" d="M1115.5 464.9V465.9M1115.5 465.2V467.7M1116.5 468.4V470.9"/>
<path class="u" d="M1117.5 468.2V469.8"/>
<path class="d" d="M1117.5 467.8V470.4M1118.5 470.5V474.3"/>
<path class="u" d="M1118.5 467.1V473.2"/>
<path class="d" d="M1119.5 467.7V469.5M1119.5 467.7V473.8M1120.5 470V471.1"/>
<path class="u" d="M1120.5 468.6V471.1"/>
<path class="d" d="M1121.5 468.9V470.3M1122.5 470.1V471.8M1122.5 467.8V473.2"/>
<path class="u" d="M1123.5 470.1V472.7M1123.5 468V473.5"/>
<path class="d" d="M1124.5 467.6V472.1M1124.5 471.7V473.2"/>
<path class="u" d="M1125.5 470.3V474M1126.5 468.3V470.8"/>
<path class="d" d="M1126.5 468.6V469.9M1127.5 467.9V473.5M1127.5 470.1V474.9M1128.5 470.7V473.5"/>
<path class="u" d="M1128.5 469.2V473"/>
<path class="d" d="M1129.5 470.9V471.9M1129.5 468.4V472.8M1130.5 471V473M1131.5 471.2V474.5M1131.5 472.1V474.5"/>
<path class="u" d="M1132.5 471.9V474.4M1132.5 471.1V473.1M1133.5 471.7V472.9"/>
<path class="d" d="M1133.5 470.7V473.6"/>
<path class="u" d="M1134.5 469.6V473.1M1135.5 467.7V470.4M1135.5 465.4V469.1M1136.5 464.5V466.6M1136.5 459.5V465.3M1137.5 457.8V459.6"/>
<path class="d" d="M1137.5 457.9V464.5"/>
<path class="u" d="M1138.5 461.8V463.3M1138.5 458.5V462.8"/>
<path class="d" d="M1139.5 458V462.4"/>
<path class="u" d="M1140.5 455.1V462.5"/>
<path class="d" d="M1140.5 454.1V458.6M1141.5 457V459.8"/>
<path class="u" d="M1141.5 454.9V459.5"/>
<path class="d" d="M1142.5 455.5V459.1M1142.5 456.3V460M1143.5 458V459.3"/>
<path class="u" d="M1143.5 458.4V459.4M1144.5 456.7V458.6M1145.5 456V457.4"/>
<path class="d" d="M1145.5 456.5V458.1M1146.5 457.6V459.5"/>
<path class="u" d="M1146.5 457.5V459.5"/>
<path class="d" d="M1147.5 458.1V459.7M1147.5 457.8V463.4"/>
<path class="u" d="M1148.5 459.2V462.6M1149.5 458.3V460.4"/>
<path class="d" d="M1149.5 459.1V463.7M1150.5 461.2V467.1M1150.5 465.7V469.9M1151.5 468.6V475.6M1151.5 475.7V478.4M1152.5 476.9V478.9M1152.5 475.6V479.3M1153.5 478.3V481.1M1154.5 479.2V480.8M1154.5 479.5V480.8M1155.5 479.4V481.2M1155.5 480.9V491.6M1156.5 483.2V484.8M1156.5 484.5V490.3"/>
<path class="u" d="M1157.5 485.3V489.7M1157.5 482.9V486.3"/>
<path class="d" d="M1158.5 483.3V485.2M1159.5 483.1V488"/>
<path class="u" d="M1159.5 483.6V487.9M1160.5 483.1V486M1160.5 481V482.8"/>
<path class="d" d="M1161.5 480.5V484.4M1161.5 481.1V486M1162.5 483.8V485.4"/>
<path class="u" d="M1163.5 484.4V485.6M1163.5 483.6V484.9"/>
<path class="d" d="M1164.5 481.6V483.2"/>
<path class="u" d="M1164.5 484V485M1165.5 481.7V485.4"/>
<path class="d" d="M1165.5 482.4V486.2"/>
<path class="u" d="M1166.5 485V487.2"/>
<path class="d" d="M1166.5 485.8V486.8"/>
<path class="u" d="M1167.5 484.1V485.8"/>
<path class="d" d="M1168.5 484V486.4M1168.5 485.8V490.9"/>
<path class="u" d="M1169.5 489.4V491.5"/>
<path class="d" d="M1169.5 488.4V490.8"/>
<path class="u" d="M1170.5 486.5V489.4M1170.5 485.8V488M1171.5 485.1V487.2"/>
<path class="d" d="M1171.5 485.3V486.8"/>
<path class="u" d="M1172.5 485.1V487.4M1173.5 483.7V485.9M1173.5 481.7V485.9M1174.5 479.1V483.3"/>
<path class="d" d="M1174.5 478.5V481.4M1175.5 479V481.4"/>
<path class="u" d="M1175.5 478V482.7M1176.5 477.3V480.1M1177.5 474.9V477.9"/>
<path class="d" d="M1177.5 474V480.2"/>
<path class="u" d="M1178.5 477.7V485.1M1178.5 476.7V478.4"/>
<path class="d" d="M1179.5 476.1V477.1"/>
<path class="u" d="M1179.5 476.9V478M1180.5 475.9V478M1180.5 474.3V476.6"/>
<path class="d" d="M1181.5 473.1V476.3"/>
<path class="u" d="M1182.5 474.6V476.6M1182.5 471.6V476.7M1183.5 466.6V472.8"/>
<path class="d" d="M1183.5 467.2V469.1"/>
<path class="u" d="M1184.5 465.2V469.9"/>
<path class="d" d="M1184.5 464.5V467.7M1185.5 465.5V469.1M1186.5 468.1V470.7M1186.5 467.2V472M1187.5 469.6V474.3"/>
<path class="u" d="M1187.5 471.9V473.7"/>
<path class="d" d="M1188.5 471.9V473.7M1188.5 458V475.8M1189.5 474.4V476.8"/>
<path class="u" d="M1189.5 474.7V476.6"/>
<path class="d" d="M1190.5 474.9V478.7M1191.5 478.3V479.3M1191.5 478.7V480.7M1192.5 480V481.2M1192.5 480.3V484"/>
<path class="u" d="M1193.5 480.5V484.9M1193.5 480V481.7"/>
<path class="d" d="M1194.5 479.7V481.5"/>
<path class="u" d="M1194.5 480.4V483.1"/>
<path class="d" d="M1195.5 479.5V480.7"/>
<path class="u" d="M1196.5 477.8V482.1"/>
<path class="d" d="M1196.5 477.7V479"/>
<path class="u" d="M1197.5 477V481.1"/>
<path class="d" d="M1197.5 475.4V479.4"/>
<path class="u" d="M1198.5 475.1V478.7M1198.5 473.1V476.9"/>
<path class="d" d="M1199.5 473.9V475.3"/>
<path class="u" d="M1200.5 473.1V476"/>
<path class="d" d="M1200.5 473.9V475.7"/>
<path class="u" d="M1201.5 473.2V476.6M1201.5 472.5V474.7"/>
<path class="d" d="M1202.5 472.4V474.4M1202.5 472.4V475.6"/>
<path class="u" d="M1203.5 473.9V476.3M1203.5 473.1V475.2"/>
<path class="d" d="M1204.5 473.3V476.2M1205.5 475.9V476.9"/>
<path class="u" d="M1205.5 474.9V478.2"/>
<path class="d" d="M1206.5 474V477.1"/>
<path class="u" d="M1206.5 475.6V476.8"/>
<path class="d" d="M1207.5 474.2V478.8M1207.5 476.2V479.4M1208.5 476.5V480.5M1208.5 480.3V484.7M1209.5 480.3V481.5"/>
<path class="u" d="M1210.5 479.2V481.6"/>
<path class="d" d="M1210.5 479.2V482.8M1211.5 481.5V482.6"/>
<path class="u" d="M1211.5 479.2V483.1"/>
<path class="d" d="M1212.5 478.9V479.9"/>
<path class="u" d="M1212.5 477.7V480.3"/>
<path class="d" d="M1213.5 478.1V479.5M1214.5 477.5V480"/>
<path class="u" d="M1214.5 475.6V480.9M1215.5 473.6V477.1"/>
<path class="d" d="M1215.5 474.1V478.4M1216.5 476.6V479.6M1216.5 475.9V479.1"/>
<path class="u" d="M1217.5 475.8V478.4"/>
<path class="d" d="M1217.5 474.8V478.2"/>
<path class="u" d="M1218.5 475.7V479.4"/>
<path class="d" d="M1219.5 474.4V477.2"/>
<path class="u" d="M1219.5 473.7V477.1M1220.5 472.3V475.8"/>
<path class="d" d="M1220.5 473V474M1221.5 473.2V474.6M1221.5 474V475.7"/>
<path class="u" d="M1222.5 473.1V475.1M1222.5 471.2V474.6M1223.5 469.6V471.8M1224.5 466.8V470.7M1224.5 462.3V468.1"/>
<path class="d" d="M1225.5 463V466.4"/>
<path class="u" d="M1225.5 461.9V467M1226.5 459.9V464.7"/>
<path class="d" d="M1226.5 458.2V460.4M1227.5 459.7V463.8M1228.5 465.6V467.1"/>
<path class="u" d="M1228.5 464.7V467"/>
<path class="d" d="M1229.5 464.4V468.7"/>
<path class="u" d="M1229.5 466.3V467.5"/>
<path class="d" d="M1230.5 465.5V468.3M1230.5 468.1V470.8M1231.5 468.1V471.5"/>
<path class="u" d="M1231.5 469.2V472.3"/>
<path class="d" d="M1232.5 468.8V471.7M1233.5 469V471M1233.5 469.7V473.1"/>
<path class="u" d="M1234.5 466.3V478.4"/>
</g>
<path d="M14 474.5H1298" stroke="#089981" stroke-width="1" stroke-dasharray="1 2" shape-rendering="crispEdges"/>
</g>
<rect x="12" y="623" width="1286" height="95" fill="#7e57c2" fill-opacity="0.1"/>
<g clip-path="url(#cr)">
<path d="M10.3 623.4 L10.3 623.4 L10.8 623.4 L11.4 623.4 L12 623.4 L12.5 623.4 L13.1 623.4 L13.6 623.4 L14.2 623.4 L14.8 623.4 L15.3 623.4 L15.9 623.4 L16.5 623.4 L17 623.4 L17.6 623.4 L18.1 623.4 L18.7 623.4 L19.3 623.4 L19.8 623.4 L20.4 623.4 L20.9 623.4 L21.5 623.4 L22.1 623.4 L22.6 623.4 L23.2 623.4 L23.7 623.4 L24.3 623.4 L24.9 623.4 L25.4 623.4 L26 623.4 L26.5 623.4 L27.1 623.4 L27.7 623.4 L28.2 623.4 L28.8 623.4 L29.3 623.4 L29.9 623.4 L30.5 623.4 L31 623.4 L31.6 623.4 L32.1 623.4 L32.7 623.4 L33.3 623.4 L33.8 623.4 L34.4 623.4 L34.9 623.4 L35.5 623.4 L36.1 623.4 L36.6 623.4 L37.2 623.4 L37.7 623.4 L38.3 623.4 L38.9 623.4 L39.4 623.4 L40 623.4 L40.5 623.4 L41.1 623.4 L41.7 623.4 L42.2 623.4 L42.8 623.4 L43.4 623.4 L43.9 623.4 L44.5 623.4 L45 623.4 L45.6 623.4 L46.2 623.4 L46.7 623.4 L47.3 623.4 L47.8 623.4 L48.4 623.4 L49 623.4 L49.5 623.4 L50.1 623.4 L50.6 623.4 L51.2 623.4 L51.8 623.4 L52.3 623.4 L52.9 623.4 L53.4 623.4 L54 623.4 L54.6 623.4 L55.1 623.4 L55.7 623.4 L56.2 623.4 L56.8 623.4 L57.4 623.4 L57.9 623.4 L58.5 623.4 L59 623.4 L59.6 623.4 L60.2 623.4 L60.7 623.4 L61.3 623.4 L61.8 623.4 L62.4 623.4 L63 623.4 L63.5 623.4 L64.1 623.4 L64.6 620.6 L65.2 607.4 L65.8 614.2 L66.3 602.1 L66.9 592.4 L67.4 588.5 L68 586 L68.6 581.6 L69.1 577 L69.7 573.4 L70.2 579.6 L70.8 580.5 L71.4 576.7 L71.9 582.3 L72.5 588.4 L73.1 589.3 L73.6 591.1 L74.2 619 L74.7 610.5 L75.3 614.3 L75.9 612.1 L76.4 623.4 L77 618.1 L77.5 606.5 L78.1 617 L78.7 611.3 L79.2 610.4 L79.8 609 L80.3 605.9 L80.9 605.4 L81.5 620.8 L82 617.6 L82.6 618.5 L83.1 623.4 L83.7 623.4 L84.3 623.4 L84.8 623.4 L85.4 623.4 L85.9 623.4 L86.5 623.4 L87.1 623.4 L87.6 623.4 L88.2 623.4 L88.7 623.4 L89.3 623.4 L89.9 623.4 L90.4 623.4 L91 623.4 L91.5 623.4 L92.1 623.4 L92.7 623.4 L93.2 623.4 L93.8 623.4 L94.3 623.4 L94.9 623.4 L95.5 623.4 L96 623.4 L96.6 623.4 L97.1 623.4 L97.7 623.4 L98.3 623.4 L98.8 623.4 L99.4 623.4 L100 623.4 L100.5 623.4 L101.1 616.2 L101.6 611.3 L102.2 609.6 L102.8 610.4 L103.3 607.5 L103.9 603.4 L104.4 603.4 L105 595.5 L105.6 613.2 L106.1 619.1 L106.7 620 L107.2 623.4 L107.8 621.8 L108.4 612.5 L108.9 623.4 L109.5 623.4 L110 623.4 L110.6 623.4 L111.2 623.4 L111.7 623.4 L112.3 623.4 L112.8 623.4 L113.4 623.4 L114 623.4 L114.5 623.4 L115.1 623.4 L115.6 623.4 L116.2 623.4 L116.8 623.4 L117.3 623.4 L117.9 623.4 L118.4 623.4 L119 623.4 L119.6 623.4 L120.1 623.4 L120.7 623.4 L121.2 623.4 L121.8 623.4 L122.4 623.4 L122.9 623.4 L123.5 623.4 L124 614.1 L124.6 623.4 L125.2 623.4 L125.7 623.4 L126.3 623.4 L126.8 623.4 L127.4 623.4 L128 623.4 L128.5 623.4 L129.1 623.4 L129.7 623.4 L130.2 623.4 L130.8 623.4 L131.3 623.4 L131.9 623.4 L132.5 623.4 L133 623.4 L133.6 623.4 L134.1 623.4 L134.7 623.4 L135.3 623.4 L135.8 623.4 L136.4 623.4 L136.9 623.3 L137.5 617.8 L138.1 609.9 L138.6 610.2 L139.2 617 L139.7 608.7 L140.3 618.8 L140.9 623.4 L141.4 623.4 L142 616.2 L142.5 616.4 L143.1 623.4 L143.7 623.4 L144.2 623.4 L144.8 621.6 L145.3 623.4 L145.9 623.4 L146.5 620.8 L147 623.4 L147.6 623.4 L148.1 623.4 L148.7 623.4 L149.3 623.4 L149.8 623.4 L150.4 623.4 L150.9 623.4 L151.5 623.4 L152.1 623.4 L152.6 623.4 L153.2 623.4 L153.7 623.4 L154.3 623.4 L154.9 623.4 L155.4 623.4 L156 623.4 L156.6 623.4 L157.1 623.4 L157.7 623.4 L158.2 623.4 L158.8 623.4 L159.4 623.4 L159.9 623.4 L160.5 622.3 L161 620.3 L161.6 621.2 L162.2 623.4 L162.7 623.4 L163.3 623.4 L163.8 623.4 L164.4 623.4 L165 623.4 L165.5 623.4 L166.1 623.4 L166.6 623.4 L167.2 623.4 L167.8 623.4 L168.3 623.4 L168.9 623.4 L169.4 623.4 L170 623.4 L170.6 623.4 L171.1 617 L171.7 623.4 L172.2 623.4 L172.8 623.4 L173.4 623.4 L173.9 623.4 L174.5 623.4 L175 623.4 L175.6 623.4 L176.2 623.4 L176.7 623.4 L177.3 623.4 L177.8 623.4 L178.4 623.4 L179 623.4 L179.5 623.4 L180.1 623.4 L180.6 623.4 L181.2 623.4 L181.8 623.4 L182.3 623.4 L182.9 623.4 L183.5 623.4 L184 623.4 L184.6 623.4 L185.1 623.4 L185.7 623 L186.3 622.6 L186.8 623.4 L187.4 623.4 L187.9 621.5 L188.5 622.6 L189.1 623.4 L189.6 623.4 L190.2 623.4 L190.7 623.4 L191.3 623.4 L191.9 623.4 L192.4 623.4 L193 623.4 L193.5 623.4 L194.1 623.4 L194.7 623.4 L195.2 623.4 L195.8 623.4 L196.3 623.4 L196.9 623.4 L197.5 623.4 L198 623.4 L198.6 623.4 L199.1 623.4 L199.7 623.4 L200.3 623.4 L200.8 623.4 L201.4 623.4 L201.9 623.4 L202.5 621.5 L203.1 612.4 L203.6 616.1 L204.2 617.9 L204.7 612.1 L205.3 609.8 L205.9 604.6 L206.4 610.2 L207 605.3 L207.5 620.5 L208.1 623.2 L208.7 618.3 L209.2 617.9 L209.8 617.1 L210.3 614.8 L210.9 613 L211.5 611.2 L212 614.5 L212.6 609.2 L213.2 606.9 L213.7 606.7 L214.3 623.4 L214.8 623.4 L215.4 623.4 L216 623.4 L216.5 623.4 L217.1 623.4 L217.6 623.4 L218.2 623.4 L218.8 623.4 L219.3 623.4 L219.9 623.4 L220.4 623.4 L221 623.4 L221.6 623.4 L222.1 623.4 L222.7 623.4 L223.2 623.4 L223.8 623.4 L224.4 623.4 L224.9 623.4 L225.5 623.4 L226 623.4 L226.6 623.4 L227.2 623.4 L227.7 623.4 L228.3 623.4 L228.8 623.4 L229.4 623.4 L230 623.4 L230.5 623.4 L231.1 623.4 L231.6 623.4 L232.2 623.4 L232.8 623.4 L233.3 623.4 L233.9 623.4 L234.4 623.4 L235 623.4 L235.6 623.4 L236.1 623.4 L236.7 623.4 L237.2 623.4 L237.8 623.4 L238.4 623.4 L238.9 623.4 L239.5 623.4 L240.1 623.4 L240.6 623.4 L241.2 623.4 L241.7 623.4 L242.3 623.4 L242.9 623.4 L243.4 623.4 L244 623.4 L244.5 623.4 L245.1 623.4 L245.7 623.4 L246.2 623.4 L246.8 623.4 L247.3 623.4 L247.9 623.4 L248.5 623.4 L249 623.4 L249.6 623.4 L250.1 623.4 L250.7 623.4 L251.3 623.4 L251.8 623.4 L252.4 623.4 L252.9 623.4 L253.5 623.4 L254.1 623.4 L254.6 623.4 L255.2 623.4 L255.7 623.4 L256.3 623.4 L256.9 623.4 L257.4 623.4 L258 623.4 L258.5 623.4 L259.1 623.4 L259.7 623.4 L260.2 623.4 L260.8 623.4 L261.3 623.4 L261.9 623.4 L262.5 623.4 L263 623.4 L263.6 623.4 L264.1 623.4 L264.7 623.4 L265.3 623.4 L265.8 623.4 L266.4 623.4 L266.9 623.4 L267.5 623.4 L268.1 623.4 L268.6 623.4 L269.2 623.4 L269.8 623.4 L270.3 623.4 L270.9 623.4 L271.4 623.4 L272 623.4 L272.6 623.4 L273.1 623.4 L273.7 623.4 L274.2 623.4 L274.8 623.4 L275.4 623.4 L275.9 623.4 L276.5 623.4 L277 623.4 L277.6 623.4 L278.2 623.4 L278.7 623.4 L279.3 623.4 L279.8 623.4 L280.4 623.4 L281 623.4 L281.5 623.4 L282.1 623.4 L282.6 623.4 L283.2 623.4 L283.8 623.4 L284.3 623.4 L284.9 623.4 L285.4 623.4 L286 623.4 L286.6 623.4 L287.1 623.4 L287.7 623.4 L288.2 623.4 L288.8 623.4 L289.4 623.4 L289.9 623.4 L290.5 623.4 L291 623.4 L291.6 623.4 L292.2 623.4 L292.7 623.4 L293.3 623.4 L293.8 623.4 L294.4 623.4 L295 623.4 L295.5 623.4 L296.1 623.4 L296.7 623.4 L297.2 623.4 L297.8 623.4 L298.3 623.4 L298.9 623.4 L299.5 623.4 L300 623.4 L300.6 623.4 L301.1 623.4 L301.7 623.4 L302.3 623.4 L302.8 623.4 L303.4 623.4 L303.9 623.4 L304.5 619.8 L305.1 623.4 L305.6 616.3 L306.2 613.2 L306.7 607 L307.3 611.5 L307.9 611.4 L308.4 623.4 L309 623.4 L309.5 623.4 L310.1 623.4 L310.7 623.4 L311.2 623.4 L311.8 623.4 L312.3 621.4 L312.9 623.4 L313.5 623.4 L314 623.4 L314.6 623.4 L315.1 623.4 L315.7 623.4 L316.3 614.4 L316.8 623.1 L317.4 623.4 L317.9 623.4 L318.5 623.4 L319.1 623.4 L319.6 623.4 L320.2 623.4 L320.7 623.4 L321.3 623.4 L321.9 623.4 L322.4 623.4 L323 623.4 L323.6 623.4 L324.1 623.4 L324.7 623.4 L325.2 623.4 L325.8 623.4 L326.4 623.4 L326.9 623.4 L327.5 623.4 L328 623.4 L328.6 623.4 L329.2 623.4 L329.7 623.4 L330.3 623.4 L330.8 623.4 L331.4 623.4 L332 623.4 L332.5 623.4 L333.1 623.4 L333.6 623.4 L334.2 623.4 L334.8 623.4 L335.3 623.4 L335.9 623.4 L336.4 623.4 L337 623.4 L337.6 623.4 L338.1 623.4 L338.7 618.8 L339.2 623.4 L339.8 623.4 L340.4 623.4 L340.9 623.4 L341.5 623.4 L342 623.4 L342.6 623.4 L343.2 623.4 L343.7 623.4 L344.3 623.4 L344.8 623.4 L345.4 623.4 L346 623.4 L346.5 623.4 L347.1 623.4 L347.6 623.4 L348.2 623.4 L348.8 623.4 L349.3 623.4 L349.9 623.4 L350.4 623.4 L351 623.4 L351.6 623.4 L352.1 623.4 L352.7 623.4 L353.3 623.4 L353.8 623.4 L354.4 623.4 L354.9 623.4 L355.5 623.4 L356.1 623.4 L356.6 623.4 L357.2 623.4 L357.7 623.4 L358.3 623.4 L358.9 623.4 L359.4 623.4 L360 623.4 L360.5 623.4 L361.1 623.4 L361.7 623.4 L362.2 623.4 L362.8 623.4 L363.3 623.4 L363.9 623.4 L364.5 623.4 L365 623.4 L365.6 623.4 L366.1 623.4 L366.7 623.4 L367.3 623.4 L367.8 623.4 L368.4 623.4 L368.9 623.4 L369.5 623.4 L370.1 623.4 L370.6 623.4 L371.2 623.4 L371.7 623.4 L372.3 623.4 L372.9 623.4 L373.4 623.4 L374 623.4 L374.5 623.4 L375.1 623.4 L375.7 623.4 L376.2 623.4 L376.8 623.4 L377.3 623.4 L377.9 623.4 L378.5 623.4 L379 623.4 L379.6 623.4 L380.2 607 L380.7 604 L381.3 608 L381.8 608.4 L382.4 621.4 L383 614.3 L383.5 615.9 L384.1 619 L384.6 623.4 L385.2 623.4 L385.8 623.4 L386.3 623.4 L386.9 623.4 L387.4 623.4 L388 623.4 L388.6 623.4 L389.1 623.4 L389.7 623.4 L390.2 623.4 L390.8 623.4 L391.4 623.4 L391.9 623.4 L392.5 623.4 L393 623.4 L393.6 623.4 L394.2 623.4 L394.7 623.4 L395.3 623.4 L395.8 623.4 L396.4 623.4 L397 623.4 L397.5 623.4 L398.1 623.4 L398.6 623.4 L399.2 623.4 L399.8 623.4 L400.3 623.4 L400.9 623.4 L401.4 623.4 L402 623.4 L402.6 623.4 L403.1 623.4 L403.7 623.4 L404.2 623.4 L404.8 623.4 L405.4 623.4 L405.9 623.4 L406.5 623.4 L407 623.4 L407.6 623.4 L408.2 623.4 L408.7 623.4 L409.3 623.4 L409.9 623.4 L410.4 623.4 L411 623.4 L411.5 623.4 L412.1 623.4 L412.7 623.4 L413.2 623.4 L413.8 623.4 L414.3 623.4 L414.9 623.4 L415.5 623.4 L416 623.4 L416.6 623.4 L417.1 623.4 L417.7 623.4 L418.3 623.4 L418.8 623.4 L419.4 623.4 L419.9 623.4 L420.5 623.4 L421.1 623.4 L421.6 623.4 L422.2 623.4 L422.7 623.4 L423.3 623.4 L423.9 623.4 L424.4 623.4 L425 623.4 L425.5 623.4 L426.1 623.4 L426.7 623.4 L427.2 623.4 L427.8 623.4 L428.3 623.4 L428.9 623.4 L429.5 623.4 L430 623.4 L430.6 623.4 L431.1 623.4 L431.7 623.4 L432.3 623.4 L432.8 623.4 L433.4 623.4 L433.9 623.4 L434.5 623.4 L435.1 623.4 L435.6 623.4 L436.2 623.4 L436.8 623.4 L437.3 623.4 L437.9 623.4 L438.4 623.4 L439 623.4 L439.6 623.4 L440.1 623.4 L440.7 623.4 L441.2 623.4 L441.8 623.4 L442.4 623.4 L442.9 623.4 L443.5 623.4 L444 623.4 L444.6 623.4 L445.2 623.4 L445.7 623.4 L446.3 623.4 L446.8 623.4 L447.4 623.4 L448 623.4 L448.5 623.4 L449.1 623.4 L449.6 623.4 L450.2 623.4 L450.8 623.4 L451.3 623.4 L451.9 623.4 L452.4 623.4 L453 623.4 L453.6 623.4 L454.1 623.4 L454.7 623.4 L455.2 623.4 L455.8 623.4 L456.4 623.4 L456.9 623.4 L457.5 623.4 L458 623.4 L458.6 623.4 L459.2 623.4 L459.7 623.4 L460.3 623.4 L460.8 623.4 L461.4 623.4 L462 621.9 L462.5 623.4 L463.1 623.4 L463.6 623.4 L464.2 623.4 L464.8 623.4 L465.3 623.4 L465.9 623.4 L466.5 623.4 L467 623.4 L467.6 623.4 L468.1 623.4 L468.7 623.4 L469.3 623.4 L469.8 623.4 L470.4 623.4 L470.9 623.4 L471.5 623.4 L472.1 623.4 L472.6 623.4 L473.2 623.4 L473.7 623.4 L474.3 623.4 L474.9 623.4 L475.4 623.4 L476 623.4 L476.5 623.4 L477.1 623.4 L477.7 623.4 L478.2 623.4 L478.8 623.4 L479.3 623.4 L479.9 623.4 L480.5 623.4 L481 623.4 L481.6 623.4 L482.1 623.4 L482.7 623.4 L483.3 623.4 L483.8 623.4 L484.4 623.4 L484.9 623.4 L485.5 623.4 L486.1 623.4 L486.6 623.4 L487.2 623.4 L487.7 623.4 L488.3 623.4 L488.9 623.4 L489.4 623.4 L490 623.4 L490.5 623.4 L491.1 623.4 L491.7 623.4 L492.2 623.4 L492.8 623.4 L493.4 623.4 L493.9 623.4 L494.5 623.4 L495 623.4 L495.6 623.4 L496.2 623.4 L496.7 623.4 L497.3 623.4 L497.8 623.4 L498.4 623.4 L499 623.4 L499.5 623.4 L500.1 623.4 L500.6 623.4 L501.2 623.4 L501.8 623.4 L502.3 623.4 L502.9 623.4 L503.4 623.4 L504 623.4 L504.6 623.4 L505.1 623.4 L505.7 623.4 L506.2 623.4 L506.8 623.4 L507.4 623.4 L507.9 623.4 L508.5 623.4 L509 623.4 L509.6 623.4 L510.2 623.4 L510.7 623.4 L511.3 623.4 L511.8 623.4 L512.4 623.4 L513 623.4 L513.5 623.4 L514.1 623.4 L514.6 623.4 L515.2 623.4 L515.8 623.4 L516.3 623.4 L516.9 623.4 L517.4 623.4 L518 623.4 L518.6 623.4 L519.1 623.4 L519.7 623.4 L520.3 623.4 L520.8 623.4 L521.4 623.4 L521.9 623.4 L522.5 623.4 L523.1 623.4 L523.6 623.4 L524.2 623.4 L524.7 623.4 L525.3 623.4 L525.9 623.4 L526.4 623.4 L527 623.4 L527.5 623.4 L528.1 623.4 L528.7 623.4 L529.2 623.4 L529.8 623.4 L530.3 623.4 L530.9 623.4 L531.5 623.4 L532 623.4 L532.6 615.5 L533.1 610.2 L533.7 623.4 L534.3 623.4 L534.8 623.4 L535.4 615.9 L535.9 623.4 L536.5 609.4 L537.1 623.4 L537.6 623.4 L538.2 623.4 L538.7 623.4 L539.3 623.4 L539.9 623.4 L540.4 623.4 L541 623.4 L541.5 623.4 L542.1 623.4 L542.7 623.4 L543.2 623.4 L543.8 623.4 L544.3 623.4 L544.9 623.4 L545.5 623.4 L546 623.4 L546.6 623.4 L547.1 623.4 L547.7 622.6 L548.3 621.7 L548.8 620.5 L549.4 620.1 L550 623.4 L550.5 623.4 L551.1 623.4 L551.6 622.3 L552.2 623.4 L552.8 623.4 L553.3 623.4 L553.9 623.4 L554.4 623.4 L555 623.4 L555.6 623.4 L556.1 623.4 L556.7 623.4 L557.2 623.4 L557.8 623.4 L558.4 623.4 L558.9 623.4 L559.5 623.4 L560 623.4 L560.6 623.4 L561.2 623.4 L561.7 623.4 L562.3 623.4 L562.8 623.4 L563.4 623.4 L564 623.4 L564.5 623.4 L565.1 623.4 L565.6 623.4 L566.2 623.4 L566.8 623.4 L567.3 623.4 L567.9 623.4 L568.4 623.4 L569 623.4 L569.6 623.4 L570.1 623.4 L570.7 623.4 L571.2 623.4 L571.8 623.4 L572.4 623.4 L572.9 623.4 L573.5 623.4 L574 623.4 L574.6 623.4 L575.2 623.4 L575.7 623.4 L576.3 623.4 L576.9 623.4 L577.4 623.4 L578 623.4 L578.5 623 L579.1 621.2 L579.7 622.9 L580.2 616.9 L580.8 604.3 L581.3 600.4 L581.9 610.3 L582.5 609.4 L583 609.2 L583.6 623.4 L584.1 623.4 L584.7 623.4 L585.3 623.4 L585.8 623.4 L586.4 623.4 L586.9 623.4 L587.5 623.4 L588.1 623.4 L588.6 623.4 L589.2 623.4 L589.7 623.4 L590.3 623.4 L590.9 623.4 L591.4 623.4 L592 623.4 L592.5 623.4 L593.1 623.4 L593.7 623.4 L594.2 623.4 L594.8 623.4 L595.3 623.4 L595.9 623.4 L596.5 623.4 L597 623.4 L597.6 623.4 L598.1 623.4 L598.7 623.4 L599.3 623.4 L599.8 623.4 L600.4 623.4 L600.9 623.4 L601.5 623.4 L602.1 623.4 L602.6 623.4 L603.2 623.4 L603.8 623.4 L604.3 623.4 L604.9 623.4 L605.4 623.4 L606 623.4 L606.6 623.4 L607.1 623.4 L607.7 623.4 L608.2 623.4 L608.8 623.4 L609.4 623.4 L609.9 623.4 L610.5 623.4 L611 623.4 L611.6 623.4 L612.2 623.4 L612.7 623.4 L613.3 623.4 L613.8 623.4 L614.4 623.4 L615 623.4 L615.5 623.4 L616.1 623.4 L616.6 623.4 L617.2 623.4 L617.8 623.4 L618.3 623.4 L618.9 623.4 L619.4 623.4 L620 623.4 L620.6 623.4 L621.1 623.4 L621.7 623.4 L622.2 623.4 L622.8 623.4 L623.4 623.4 L623.9 623.4 L624.5 623.4 L625 623.4 L625.6 623.4 L626.2 623.4 L626.7 623.4 L627.3 623.4 L627.8 623.4 L628.4 623.4 L629 623.4 L629.5 623.4 L630.1 623.4 L630.6 623.4 L631.2 623.4 L631.8 623.4 L632.3 623.4 L632.9 623.4 L633.5 623.4 L634 623.4 L634.6 623.4 L635.1 623.4 L635.7 623.4 L636.3 623.4 L636.8 623.4 L637.4 623.4 L637.9 623.4 L638.5 623.4 L639.1 623.4 L639.6 623.4 L640.2 623.4 L640.7 623.4 L641.3 623.4 L641.9 623.4 L642.4 623.4 L643 623.4 L643.5 623.4 L644.1 623.4 L644.7 623.4 L645.2 623.4 L645.8 623.4 L646.3 623.4 L646.9 623.4 L647.5 623.4 L648 623.4 L648.6 623.4 L649.1 623.4 L649.7 623.4 L650.3 623.4 L650.8 623.4 L651.4 623.4 L651.9 623.4 L652.5 623.4 L653.1 623.4 L653.6 623.4 L654.2 623.4 L654.7 623.4 L655.3 623.4 L655.9 623.4 L656.4 623.4 L657 623.4 L657.5 623.4 L658.1 623.4 L658.7 623.4 L659.2 623.4 L659.8 623.4 L660.4 623.4 L660.9 623.4 L661.5 623.4 L662 623.4 L662.6 623.4 L663.2 623.4 L663.7 623.4 L664.3 623.4 L664.8 623.4 L665.4 623.4 L666 623.4 L666.5 623.4 L667.1 623.4 L667.6 623.4 L668.2 623.4 L668.8 623.4 L669.3 623.4 L669.9 623.4 L670.4 623.4 L671 623.4 L671.6 623.4 L672.1 623.4 L672.7 623.4 L673.2 623.4 L673.8 623.4 L674.4 623.4 L674.9 623.4 L675.5 623.4 L676 623.4 L676.6 623.4 L677.2 623.4 L677.7 623.4 L678.3 623.4 L678.8 623.4 L679.4 623.4 L680 623.4 L680.5 623.4 L681.1 623.4 L681.6 623.4 L682.2 623.4 L682.8 623.4 L683.3 623.4 L683.9 623.4 L684.4 623.4 L685 623.4 L685.6 623.4 L686.1 623.4 L686.7 623.4 L687.2 623.4 L687.8 623.4 L688.4 623.4 L688.9 623.4 L689.5 623.4 L690.1 623.4 L690.6 623.4 L691.2 623.4 L691.7 623.4 L692.3 623.4 L692.9 623.4 L693.4 623.4 L694 623.4 L694.5 623.4 L695.1 623.4 L695.7 623.4 L696.2 623.4 L696.8 623.4 L697.3 623.4 L697.9 623.4 L698.5 623.4 L699 623.4 L699.6 623.4 L700.1 623.4 L700.7 623.4 L701.3 623.4 L701.8 623.4 L702.4 623.4 L702.9 623.4 L703.5 623.4 L704.1 623.4 L704.6 623.4 L705.2 623.4 L705.7 623.4 L706.3 623.4 L706.9 623.4 L707.4 623.4 L708 623.4 L708.5 623.4 L709.1 623.4 L709.7 623.4 L710.2 623.4 L710.8 623.4 L711.3 623.4 L711.9 623.4 L712.5 623.4 L713 623.4 L713.6 623.4 L714.1 623.4 L714.7 623.4 L715.3 623.4 L715.8 623.4 L716.4 623.4 L717 623.4 L717.5 623.4 L718.1 623.4 L718.6 623.4 L719.2 623.4 L719.8 623.4 L720.3 623.2 L720.9 623.4 L721.4 623.4 L722 623.4 L722.6 623.4 L723.1 623.4 L723.7 623.4 L724.2 623.4 L724.8 623.4 L725.4 623.4 L725.9 623.4 L726.5 623.4 L727 623.4 L727.6 623.4 L728.2 623.4 L728.7 623.4 L729.3 623.4 L729.8 623.4 L730.4 623.4 L731 623.4 L731.5 623.4 L732.1 623.4 L732.6 623.4 L733.2 623.4 L733.8 623.4 L734.3 623.4 L734.9 623.4 L735.4 623.4 L736 623.4 L736.6 623.4 L737.1 623.4 L737.7 623.4 L738.2 623.4 L738.8 623.4 L739.4 623.4 L739.9 623.4 L740.5 623.4 L741 623.4 L741.6 623.4 L742.2 623.4 L742.7 623.4 L743.3 623.4 L743.9 623.4 L744.4 623.4 L745 623.4 L745.5 623.4 L746.1 623.4 L746.7 623.4 L747.2 623.4 L747.8 623.4 L748.3 623.4 L748.9 623.4 L749.5 623.4 L750 623.4 L750.6 623.4 L751.1 623.4 L751.7 623.4 L752.3 623.4 L752.8 623.4 L753.4 623.4 L753.9 623.4 L754.5 623.4 L755.1 623.4 L755.6 623.4 L756.2 623.4 L756.7 623.4 L757.3 623.4 L757.9 623.4 L758.4 623.4 L759 623.4 L759.5 623.4 L760.1 623.4 L760.7 623.4 L761.2 623.4 L761.8 623.4 L762.3 623.4 L762.9 623.4 L763.5 623.4 L764 623.4 L764.6 623.4 L765.1 623.4 L765.7 623.4 L766.3 623.4 L766.8 623.4 L767.4 623.4 L767.9 623.4 L768.5 623.4 L769.1 623.4 L769.6 623.4 L770.2 623.4 L770.7 623.4 L771.3 623.4 L771.9 623.4 L772.4 623.4 L773 623.4 L773.6 623.4 L774.1 623.4 L774.7 623.4 L775.2 623.4 L775.8 623.4 L776.4 623.4 L776.9 623.4 L777.5 623.4 L778 623.4 L778.6 623.4 L779.2 623.4 L779.7 623.4 L780.3 623.4 L780.8 623.4 L781.4 623.4 L782 623.4 L782.5 623.4 L783.1 623.4 L783.6 623.4 L784.2 623.4 L784.8 623.4 L785.3 623.4 L785.9 623.4 L786.4 623.4 L787 623.4 L787.6 623.4 L788.1 623.4 L788.7 623.4 L789.2 623.4 L789.8 623.4 L790.4 623.4 L790.9 623.4 L791.5 623.4 L792 623.4 L792.6 623.4 L793.2 623.4 L793.7 623.4 L794.3 623.4 L794.8 623.4 L795.4 623.4 L796 623.4 L796.5 623.4 L797.1 623.4 L797.6 623.4 L798.2 623.4 L798.8 623.4 L799.3 623.4 L799.9 623.4 L800.5 623.4 L801 623.4 L801.6 623.4 L802.1 623.4 L802.7 623.4 L803.3 623.4 L803.8 623.4 L804.4 623.4 L804.9 623.4 L805.5 623.4 L806.1 623.4 L806.6 623.4 L807.2 623.4 L807.7 623.4 L808.3 623.4 L808.9 623.4 L809.4 623.4 L810 623.4 L810.5 623.4 L811.1 623.4 L811.7 623.4 L812.2 623.4 L812.8 623.4 L813.3 623.4 L813.9 623.4 L814.5 623.4 L815 623.4 L815.6 623.4 L816.1 623.4 L816.7 623.4 L817.3 623.4 L817.8 623.4 L818.4 623.4 L818.9 623.4 L819.5 623.4 L820.1 623.4 L820.6 623.4 L821.2 620.5 L821.7 622.2 L822.3 614.3 L822.9 623.4 L823.4 620.1 L824 610.6 L824.5 616.8 L825.1 615.6 L825.7 610.9 L826.2 623.4 L826.8 623.4 L827.3 623.4 L827.9 623.4 L828.5 622.1 L829 622.1 L829.6 619.5 L830.2 617.6 L830.7 623.4 L831.3 623.4 L831.8 623.4 L832.4 623.4 L833 623.4 L833.5 623.4 L834.1 623.4 L834.6 623.4 L835.2 623.4 L835.8 623.4 L836.3 623.4 L836.9 623.4 L837.4 623.4 L838 623.4 L838.6 623.4 L839.1 623.4 L839.7 623.4 L840.2 623.4 L840.8 623.4 L841.4 623.4 L841.9 623.4 L842.5 623.4 L843 623.4 L843.6 623.4 L844.2 623.4 L844.7 623.4 L845.3 623.4 L845.8 623.4 L846.4 623.4 L847 623.4 L847.5 623.4 L848.1 623.4 L848.6 623.4 L849.2 623.4 L849.8 623.4 L850.3 623.4 L850.9 623.4 L851.4 623.4 L852 623.4 L852.6 623.4 L853.1 623.4 L853.7 623.4 L854.2 623.4 L854.8 623.4 L855.4 623.4 L855.9 623.4 L856.5 623.4 L857.1 623.4 L857.6 623.4 L858.2 623.4 L858.7 623.4 L859.3 623.4 L859.9 623.4 L860.4 623.4 L861 623.4 L861.5 623.4 L862.1 623.4 L862.7 623.4 L863.2 623.4 L863.8 623.4 L864.3 623.4 L864.9 623.4 L865.5 623.4 L866 623.4 L866.6 623.4 L867.1 623.4 L867.7 623.4 L868.3 623.4 L868.8 623.4 L869.4 623.4 L869.9 623.4 L870.5 623.4 L871.1 623.4 L871.6 623.4 L872.2 623.4 L872.7 623.4 L873.3 623.4 L873.9 623.4 L874.4 623.4 L875 623.4 L875.5 623.4 L876.1 623.4 L876.7 623.4 L877.2 623.4 L877.8 623.4 L878.3 623.4 L878.9 623.4 L879.5 623.4 L880 623.4 L880.6 623.4 L881.1 623.4 L881.7 623.4 L882.3 623.4 L882.8 623.4 L883.4 623.4 L884 623.4 L884.5 623.4 L885.1 623.4 L885.6 623.4 L886.2 623.4 L886.8 623.4 L887.3 623.4 L887.9 623.4 L888.4 623.4 L889 623.4 L889.6 623.4 L890.1 623.4 L890.7 623.4 L891.2 623.4 L891.8 623.4 L892.4 623.4 L892.9 623.4 L893.5 623.4 L894 623.4 L894.6 623.4 L895.2 623.4 L895.7 623.4 L896.3 623.4 L896.8 623.4 L897.4 623.4 L898 623.4 L898.5 623.4 L899.1 623.4 L899.6 623.4 L900.2 623.4 L900.8 623.4 L901.3 623.4 L901.9 623.4 L902.4 623.4 L903 623.4 L903.6 623.4 L904.1 623.4 L904.7 623.4 L905.2 623.4 L905.8 623.4 L906.4 623.4 L906.9 623.4 L907.5 623.4 L908 623.4 L908.6 623.4 L909.2 623.4 L909.7 623.4 L910.3 623.4 L910.8 623.4 L911.4 623.4 L912 623.4 L912.5 623.4 L913.1 623.4 L913.7 623.4 L914.2 623.4 L914.8 623.4 L915.3 623.4 L915.9 623.4 L916.5 623.4 L917 623.4 L917.6 623.4 L918.1 623.4 L918.7 623.4 L919.3 623.4 L919.8 623.4 L920.4 623.4 L920.9 623.4 L921.5 623.4 L922.1 623.4 L922.6 623.4 L923.2 623.4 L923.7 623.4 L924.3 623.4 L924.9 623.4 L925.4 623.4 L926 623.4 L926.5 623.4 L927.1 623.4 L927.7 623.4 L928.2 623.4 L928.8 623.4 L929.3 623.4 L929.9 623.4 L930.5 623.4 L931 623.4 L931.6 623.4 L932.1 623.4 L932.7 623.4 L933.3 623.4 L933.8 623.4 L934.4 623.4 L934.9 623.4 L935.5 623.4 L936.1 623.4 L936.6 623.4 L937.2 623.4 L937.7 623.4 L938.3 623.4 L938.9 623.4 L939.4 623.4 L940 623.4 L940.6 623.4 L941.1 623.4 L941.7 623.4 L942.2 623.4 L942.8 623.4 L943.4 623.4 L943.9 623.4 L944.5 623.4 L945 623.4 L945.6 623.4 L946.2 623.4 L946.7 623.4 L947.3 623.4 L947.8 623.4 L948.4 623.4 L949 623.4 L949.5 623.4 L950.1 623.4 L950.6 623.4 L951.2 623.4 L951.8 623.4 L952.3 623.4 L952.9 623.4 L953.4 623.4 L954 623.4 L954.6 623.4 L955.1 623.4 L955.7 623.4 L956.2 623.4 L956.8 623.4 L957.4 623.4 L957.9 623.4 L958.5 623.4 L959 623.4 L959.6 623.4 L960.2 623.4 L960.7 623.4 L961.3 623.4 L961.8 623.4 L962.4 623.4 L963 623.4 L963.5 623.4 L964.1 623.4 L964.6 623.4 L965.2 623.4 L965.8 623.4 L966.3 623.4 L966.9 623.4 L967.4 623.4 L968 623.4 L968.6 623.4 L969.1 623.4 L969.7 623.4 L970.3 623.4 L970.8 623.4 L971.4 623.4 L971.9 623.4 L972.5 623.4 L973.1 623.4 L973.6 623.4 L974.2 623.4 L974.7 623.4 L975.3 623.4 L975.9 623.4 L976.4 623.4 L977 623.4 L977.5 623.4 L978.1 623.4 L978.7 623.4 L979.2 623.4 L979.8 623.4 L980.3 623.4 L980.9 623.4 L981.5 623.4 L982 623.4 L982.6 623.4 L983.1 623.4 L983.7 623.4 L984.3 623.4 L984.8 623.4 L985.4 623.4 L985.9 623.4 L986.5 623.4 L987.1 623.4 L987.6 623.4 L988.2 623.4 L988.7 623.4 L989.3 623.4 L989.9 623.4 L990.4 623.4 L991 623.4 L991.5 623.4 L992.1 623.4 L992.7 623.4 L993.2 623.4 L993.8 623.4 L994.3 623.4 L994.9 623.4 L995.5 623.4 L996 623.4 L996.6 623.4 L997.2 623.4 L997.7 623.4 L998.3 623.4 L998.8 623.4 L999.4 623.4 L1000 623.4 L1000.5 623.4 L1001.1 623.4 L1001.6 623.4 L1002.2 623.4 L1002.8 623.4 L1003.3 623.4 L1003.9 623.4 L1004.4 623.4 L1005 623.4 L1005.6 623.4 L1006.1 623.4 L1006.7 623.4 L1007.2 623.4 L1007.8 623.4 L1008.4 623.4 L1008.9 623.4 L1009.5 623.4 L1010 623.4 L1010.6 623.4 L1011.2 623.4 L1011.7 623.4 L1012.3 623.4 L1012.8 623.4 L1013.4 623.4 L1014 623.4 L1014.5 623.4 L1015.1 623.4 L1015.6 623.4 L1016.2 623.4 L1016.8 623.4 L1017.3 623.4 L1017.9 623.4 L1018.4 623.4 L1019 623.4 L1019.6 623.4 L1020.1 623.4 L1020.7 623.4 L1021.2 623.4 L1021.8 623.4 L1022.4 623.4 L1022.9 623.4 L1023.5 623.4 L1024 623.4 L1024.6 623.4 L1025.2 623.4 L1025.7 623.4 L1026.3 621.7 L1026.9 619.1 L1027.4 613.5 L1028 622.4 L1028.5 617.2 L1029.1 614.2 L1029.7 615.2 L1030.2 612.9 L1030.8 614.3 L1031.3 615.3 L1031.9 615.6 L1032.5 612.9 L1033 623.4 L1033.6 623.4 L1034.1 623.4 L1034.7 623.4 L1035.3 623.4 L1035.8 623.4 L1036.4 623.4 L1036.9 623.4 L1037.5 623.4 L1038.1 623.4 L1038.6 623.4 L1039.2 623.4 L1039.7 623.4 L1040.3 623.4 L1040.9 623.4 L1041.4 623.4 L1042 623.4 L1042.5 623.4 L1043.1 623.4 L1043.7 623.4 L1044.2 623.4 L1044.8 623.4 L1045.3 623.4 L1045.9 623.4 L1046.5 623.4 L1047 623.4 L1047.6 623.4 L1048.1 623.4 L1048.7 623.4 L1049.3 623.4 L1049.8 623.4 L1050.4 623.4 L1050.9 623.4 L1051.5 623.4 L1052.1 623.4 L1052.6 623.4 L1053.2 623.4 L1053.8 623.4 L1054.3 623.4 L1054.9 623.4 L1055.4 623.4 L1056 623.4 L1056.6 623.4 L1057.1 623.4 L1057.7 623.4 L1058.2 623.4 L1058.8 623.4 L1059.4 623.4 L1059.9 623.4 L1060.5 623.4 L1061 623.4 L1061.6 623.4 L1062.2 623.4 L1062.7 623.4 L1063.3 623.4 L1063.8 623.4 L1064.4 623.4 L1065 623.4 L1065.5 623.4 L1066.1 623.4 L1066.6 623.4 L1067.2 623.4 L1067.8 623.4 L1068.3 623.4 L1068.9 623.4 L1069.4 623.4 L1070 623.4 L1070.6 623.4 L1071.1 623.4 L1071.7 623.4 L1072.2 623.4 L1072.8 623.4 L1073.4 623.4 L1073.9 623.4 L1074.5 623.4 L1075 623.4 L1075.6 623.4 L1076.2 623.4 L1076.7 623.4 L1077.3 623.4 L1077.8 623.4 L1078.4 623.4 L1079 618.1 L1079.5 616.3 L1080.1 621.1 L1080.7 612.1 L1081.2 613.3 L1081.8 612.5 L1082.3 622.4 L1082.9 622.5 L1083.5 623.4 L1084 623.4 L1084.6 623.4 L1085.1 623.4 L1085.7 623.4 L1086.3 623.4 L1086.8 623.4 L1087.4 623.4 L1087.9 623.4 L1088.5 623.4 L1089.1 623.4 L1089.6 623.4 L1090.2 623.4 L1090.7 623.4 L1091.3 623.4 L1091.9 623.4 L1092.4 623.4 L1093 623.4 L1093.5 623.4 L1094.1 623.4 L1094.7 623.4 L1095.2 623.4 L1095.8 623.4 L1096.3 623.4 L1096.9 623.4 L1097.5 623.4 L1098 623.4 L1098.6 623.4 L1099.1 623.4 L1099.7 623.4 L1100.3 623.4 L1100.8 623.4 L1101.4 623.4 L1101.9 623.4 L1102.5 623.4 L1103.1 623.4 L1103.6 623.4 L1104.2 623.4 L1104.7 623.4 L1105.3 623.4 L1105.9 623.4 L1106.4 623.4 L1107 623.4 L1107.5 623.4 L1108.1 623.4 L1108.7 623.4 L1109.2 623.4 L1109.8 623.4 L1110.4 623.4 L1110.9 623.4 L1111.5 623.4 L1112 623.4 L1112.6 623.4 L1113.2 623.4 L1113.7 623.4 L1114.3 623.4 L1114.8 623.4 L1115.4 623.4 L1116 623.4 L1116.5 623.4 L1117.1 623.4 L1117.6 623.4 L1118.2 623.4 L1118.8 623.4 L1119.3 623.4 L1119.9 623.4 L1120.4 623.4 L1121 623.4 L1121.6 623.4 L1122.1 623.4 L1122.7 623.4 L1123.2 623.4 L1123.8 623.4 L1124.4 623.4 L1124.9 623.4 L1125.5 623.4 L1126 623.4 L1126.6 623.4 L1127.2 623.4 L1127.7 623.4 L1128.3 623.4 L1128.8 623.4 L1129.4 623.4 L1130 623.4 L1130.5 623.4 L1131.1 623.4 L1131.6 623.4 L1132.2 623.4 L1132.8 623.4 L1133.3 623.4 L1133.9 623.4 L1134.4 623.4 L1135 623.4 L1135.6 623.4 L1136.1 623.4 L1136.7 619.2 L1137.3 618.1 L1137.8 623.4 L1138.4 623.4 L1138.9 623.4 L1139.5 623.4 L1140.1 623.4 L1140.6 623.4 L1141.2 623.4 L1141.7 623.4 L1142.3 623.4 L1142.9 623.4 L1143.4 623.4 L1144 623.4 L1144.5 623.4 L1145.1 623.4 L1145.7 623.4 L1146.2 623.4 L1146.8 623.4 L1147.3 623.4 L1147.9 623.4 L1148.5 623.4 L1149 623.4 L1149.6 623.4 L1150.1 623.4 L1150.7 623.4 L1151.3 623.4 L1151.8 623.4 L1152.4 623.4 L1152.9 623.4 L1153.5 623.4 L1154.1 623.4 L1154.6 623.4 L1155.2 623.4 L1155.7 623.4 L1156.3 623.4 L1156.9 623.4 L1157.4 623.4 L1158 623.4 L1158.5 623.4 L1159.1 623.4 L1159.7 623.4 L1160.2 623.4 L1160.8 623.4 L1161.3 623.4 L1161.9 623.4 L1162.5 623.4 L1163 623.4 L1163.6 623.4 L1164.2 623.4 L1164.7 623.4 L1165.3 623.4 L1165.8 623.4 L1166.4 623.4 L1167 623.4 L1167.5 623.4 L1168.1 623.4 L1168.6 623.4 L1169.2 623.4 L1169.8 623.4 L1170.3 623.4 L1170.9 623.4 L1171.4 623.4 L1172 623.4 L1172.6 623.4 L1173.1 623.4 L1173.7 623.4 L1174.2 623.4 L1174.8 623.4 L1175.4 623.4 L1175.9 623.4 L1176.5 623.4 L1177 623.4 L1177.6 623.4 L1178.2 623.4 L1178.7 623.4 L1179.3 623.4 L1179.8 623.4 L1180.4 623.4 L1181 623.4 L1181.5 623.4 L1182.1 623.4 L1182.6 623.4 L1183.2 621.6 L1183.8 623.4 L1184.3 623.4 L1184.9 623.4 L1185.4 623.4 L1186 623.4 L1186.6 623.4 L1187.1 623.4 L1187.7 623.4 L1188.2 623.4 L1188.8 623.4 L1189.4 623.4 L1189.9 623.4 L1190.5 623.4 L1191 623.4 L1191.6 623.4 L1192.2 623.4 L1192.7 623.4 L1193.3 623.4 L1193.9 623.4 L1194.4 623.4 L1195 623.4 L1195.5 623.4 L1196.1 623.4 L1196.7 623.4 L1197.2 623.4 L1197.8 623.4 L1198.3 623.4 L1198.9 623.4 L1199.5 623.4 L1200 623.4 L1200.6 623.4 L1201.1 623.4 L1201.7 623.4 L1202.3 623.4 L1202.8 623.4 L1203.4 623.4 L1203.9 623.4 L1204.5 623.4 L1205.1 623.4 L1205.6 623.4 L1206.2 623.4 L1206.7 623.4 L1207.3 623.4 L1207.9 623.4 L1208.4 623.4 L1209 623.4 L1209.5 623.4 L1210.1 623.4 L1210.7 623.4 L1211.2 623.4 L1211.8 623.4 L1212.3 623.4 L1212.9 623.4 L1213.5 623.4 L1214 623.4 L1214.6 623.4 L1215.1 623.4 L1215.7 623.4 L1216.3 623.4 L1216.8 623.4 L1217.4 623.4 L1217.9 623.4 L1218.5 623.4 L1219.1 623.4 L1219.6 623.4 L1220.2 623.4 L1220.8 623.4 L1221.3 623.4 L1221.9 623.4 L1222.4 623.4 L1223 623.4 L1223.6 623.4 L1224.1 623 L1224.7 618.1 L1225.2 623.4 L1225.8 623.4 L1226.4 623.4 L1226.9 623.4 L1227.5 623.4 L1228 623.4 L1228.6 623.4 L1229.2 623.4 L1229.7 623.4 L1230.3 623.4 L1230.8 623.4 L1231.4 623.4 L1232 623.4 L1232.5 623.4 L1233.1 623.4 L1233.6 623.4 L1234.2 623.4 L1234.2 623.4 Z" fill="url(#gob)" fill-opacity="1"/>
<path d="M10.3 718.5 L10.3 718.5 L10.8 718.5 L11.4 718.5 L12 718.5 L12.5 718.5 L13.1 718.5 L13.6 718.5 L14.2 718.5 L14.8 718.5 L15.3 718.5 L15.9 718.5 L16.5 718.5 L17 718.5 L17.6 718.5 L18.1 718.5 L18.7 718.5 L19.3 718.5 L19.8 718.5 L20.4 718.5 L20.9 718.5 L21.5 718.5 L22.1 718.5 L22.6 718.5 L23.2 718.5 L23.7 718.5 L24.3 718.5 L24.9 718.5 L25.4 718.5 L26 718.5 L26.5 718.5 L27.1 718.5 L27.7 718.5 L28.2 718.5 L28.8 718.5 L29.3 718.5 L29.9 718.5 L30.5 718.5 L31 718.5 L31.6 718.5 L32.1 718.5 L32.7 718.5 L33.3 718.5 L33.8 718.5 L34.4 718.5 L34.9 718.5 L35.5 718.5 L36.1 718.5 L36.6 718.5 L37.2 718.5 L37.7 718.5 L38.3 718.5 L38.9 718.5 L39.4 718.5 L40 718.5 L40.5 718.5 L41.1 718.5 L41.7 718.5 L42.2 718.5 L42.8 718.5 L43.4 718.5 L43.9 718.5 L44.5 718.5 L45 718.5 L45.6 718.5 L46.2 718.5 L46.7 718.5 L47.3 718.5 L47.8 718.5 L48.4 718.5 L49 718.5 L49.5 718.5 L50.1 718.5 L50.6 718.5 L51.2 718.5 L51.8 718.5 L52.3 718.5 L52.9 718.5 L53.4 718.5 L54 718.5 L54.6 718.5 L55.1 718.5 L55.7 718.5 L56.2 718.5 L56.8 718.5 L57.4 718.5 L57.9 718.5 L58.5 718.5 L59 718.5 L59.6 718.5 L60.2 718.5 L60.7 718.5 L61.3 718.5 L61.8 718.5 L62.4 718.5 L63 718.5 L63.5 718.5 L64.1 718.5 L64.6 718.5 L65.2 718.5 L65.8 718.5 L66.3 718.5 L66.9 718.5 L67.4 718.5 L68 718.5 L68.6 718.5 L69.1 718.5 L69.7 718.5 L70.2 718.5 L70.8 718.5 L71.4 718.5 L71.9 718.5 L72.5 718.5 L73.1 718.5 L73.6 718.5 L74.2 718.5 L74.7 718.5 L75.3 718.5 L75.9 718.5 L76.4 718.5 L77 718.5 L77.5 718.5 L78.1 718.5 L78.7 718.5 L79.2 718.5 L79.8 718.5 L80.3 718.5 L80.9 718.5 L81.5 718.5 L82 718.5 L82.6 718.5 L83.1 718.5 L83.7 718.5 L84.3 718.5 L84.8 718.5 L85.4 718.5 L85.9 718.5 L86.5 718.5 L87.1 718.5 L87.6 718.5 L88.2 718.5 L88.7 718.5 L89.3 718.5 L89.9 718.5 L90.4 718.5 L91 718.5 L91.5 718.5 L92.1 718.5 L92.7 718.5 L93.2 718.5 L93.8 718.5 L94.3 718.5 L94.9 718.5 L95.5 718.5 L96 718.5 L96.6 718.5 L97.1 718.5 L97.7 718.5 L98.3 718.5 L98.8 718.5 L99.4 718.5 L100 718.5 L100.5 718.5 L101.1 718.5 L101.6 718.5 L102.2 718.5 L102.8 718.5 L103.3 718.5 L103.9 718.5 L104.4 718.5 L105 718.5 L105.6 718.5 L106.1 718.5 L106.7 718.5 L107.2 718.5 L107.8 718.5 L108.4 718.5 L108.9 718.5 L109.5 718.5 L110 718.5 L110.6 718.5 L111.2 718.5 L111.7 718.5 L112.3 718.5 L112.8 718.5 L113.4 718.5 L114 718.5 L114.5 718.5 L115.1 718.5 L115.6 718.5 L116.2 718.5 L116.8 718.5 L117.3 718.5 L117.9 718.5 L118.4 718.5 L119 718.5 L119.6 718.5 L120.1 718.5 L120.7 718.5 L121.2 718.5 L121.8 718.5 L122.4 718.5 L122.9 718.5 L123.5 718.5 L124 718.5 L124.6 718.5 L125.2 718.5 L125.7 718.5 L126.3 718.5 L126.8 718.5 L127.4 718.5 L128 718.5 L128.5 718.5 L129.1 718.5 L129.7 718.5 L130.2 718.5 L130.8 718.5 L131.3 718.5 L131.9 718.5 L132.5 718.5 L133 718.5 L133.6 718.5 L134.1 718.5 L134.7 718.5 L135.3 718.5 L135.8 718.5 L136.4 718.5 L136.9 718.5 L137.5 718.5 L138.1 718.5 L138.6 718.5 L139.2 718.5 L139.7 718.5 L140.3 718.5 L140.9 718.5 L141.4 718.5 L142 718.5 L142.5 718.5 L143.1 718.5 L143.7 718.5 L144.2 718.5 L144.8 718.5 L145.3 718.5 L145.9 718.5 L146.5 718.5 L147 718.5 L147.6 718.5 L148.1 718.5 L148.7 718.5 L149.3 718.5 L149.8 718.5 L150.4 718.5 L150.9 718.5 L151.5 718.5 L152.1 718.5 L152.6 718.5 L153.2 718.5 L153.7 718.5 L154.3 718.5 L154.9 718.5 L155.4 718.5 L156 718.5 L156.6 718.5 L157.1 718.5 L157.7 718.5 L158.2 718.5 L158.8 718.5 L159.4 718.5 L159.9 718.5 L160.5 718.5 L161 718.5 L161.6 718.5 L162.2 718.5 L162.7 718.5 L163.3 718.5 L163.8 718.5 L164.4 718.5 L165 718.5 L165.5 718.5 L166.1 718.5 L166.6 718.5 L167.2 718.5 L167.8 718.5 L168.3 718.5 L168.9 718.5 L169.4 718.5 L170 718.5 L170.6 718.5 L171.1 718.5 L171.7 718.5 L172.2 718.5 L172.8 718.5 L173.4 718.5 L173.9 718.5 L174.5 718.5 L175 718.5 L175.6 718.5 L176.2 718.5 L176.7 718.5 L177.3 718.5 L177.8 718.5 L178.4 718.5 L179 718.5 L179.5 718.5 L180.1 718.5 L180.6 718.5 L181.2 718.5 L181.8 718.5 L182.3 718.5 L182.9 718.5 L183.5 718.5 L184 718.5 L184.6 718.5 L185.1 718.5 L185.7 718.5 L186.3 718.5 L186.8 718.5 L187.4 718.5 L187.9 718.5 L188.5 718.5 L189.1 718.5 L189.6 718.5 L190.2 718.5 L190.7 718.5 L191.3 718.5 L191.9 718.5 L192.4 718.5 L193 718.5 L193.5 718.5 L194.1 718.5 L194.7 718.5 L195.2 718.5 L195.8 718.5 L196.3 718.5 L196.9 718.5 L197.5 718.5 L198 718.5 L198.6 718.5 L199.1 718.5 L199.7 718.5 L200.3 718.5 L200.8 718.5 L201.4 718.5 L201.9 718.5 L202.5 718.5 L203.1 718.5 L203.6 718.5 L204.2 718.5 L204.7 718.5 L205.3 718.5 L205.9 718.5 L206.4 718.5 L207 718.5 L207.5 718.5 L208.1 718.5 L208.7 718.5 L209.2 718.5 L209.8 718.5 L210.3 718.5 L210.9 718.5 L211.5 718.5 L212 718.5 L212.6 718.5 L213.2 718.5 L213.7 718.5 L214.3 718.5 L214.8 718.5 L215.4 718.5 L216 718.5 L216.5 718.5 L217.1 718.5 L217.6 718.5 L218.2 718.5 L218.8 718.5 L219.3 718.5 L219.9 718.5 L220.4 718.5 L221 718.5 L221.6 718.5 L222.1 718.5 L222.7 718.5 L223.2 718.5 L223.8 718.5 L224.4 718.5 L224.9 718.5 L225.5 718.5 L226 718.5 L226.6 718.5 L227.2 718.5 L227.7 718.5 L228.3 718.5 L228.8 718.5 L229.4 718.5 L230 718.5 L230.5 718.5 L231.1 718.5 L231.6 718.5 L232.2 718.5 L232.8 718.5 L233.3 718.5 L233.9 718.5 L234.4 718.5 L235 718.5 L235.6 718.5 L236.1 718.5 L236.7 718.5 L237.2 718.5 L237.8 718.5 L238.4 718.5 L238.9 718.5 L239.5 718.5 L240.1 718.5 L240.6 718.5 L241.2 718.5 L241.7 718.5 L242.3 718.5 L242.9 718.5 L243.4 718.5 L244 718.5 L244.5 718.5 L245.1 718.5 L245.7 718.5 L246.2 718.5 L246.8 718.5 L247.3 718.5 L247.9 718.5 L248.5 718.5 L249 718.5 L249.6 718.5 L250.1 718.5 L250.7 718.5 L251.3 718.5 L251.8 718.5 L252.4 718.5 L252.9 718.5 L253.5 718.5 L254.1 718.5 L254.6 718.5 L255.2 718.5 L255.7 718.5 L256.3 718.5 L256.9 718.5 L257.4 718.5 L258 718.5 L258.5 718.5 L259.1 718.5 L259.7 718.5 L260.2 718.5 L260.8 718.5 L261.3 718.5 L261.9 718.5 L262.5 718.5 L263 718.5 L263.6 718.5 L264.1 718.5 L264.7 718.5 L265.3 720.3 L265.8 720.1 L266.4 722.2 L266.9 718.5 L267.5 718.5 L268.1 718.5 L268.6 718.5 L269.2 718.5 L269.8 718.5 L270.3 718.5 L270.9 718.5 L271.4 718.5 L272 718.5 L272.6 718.5 L273.1 718.5 L273.7 718.5 L274.2 718.5 L274.8 718.5 L275.4 718.5 L275.9 718.5 L276.5 718.5 L277 718.5 L277.6 718.5 L278.2 718.5 L278.7 718.5 L279.3 718.5 L279.8 718.5 L280.4 718.5 L281 718.5 L281.5 718.5 L282.1 718.5 L282.6 718.5 L283.2 718.5 L283.8 718.5 L284.3 718.5 L284.9 718.5 L285.4 718.5 L286 718.5 L286.6 718.5 L287.1 718.5 L287.7 718.5 L288.2 718.5 L288.8 718.5 L289.4 718.5 L289.9 718.5 L290.5 718.5 L291 718.5 L291.6 718.5 L292.2 718.5 L292.7 718.5 L293.3 718.5 L293.8 718.5 L294.4 718.5 L295 718.5 L295.5 718.5 L296.1 718.5 L296.7 719.1 L297.2 718.5 L297.8 718.5 L298.3 718.5 L298.9 718.5 L299.5 718.5 L300 718.5 L300.6 718.5 L301.1 718.5 L301.7 718.5 L302.3 718.5 L302.8 718.5 L303.4 718.5 L303.9 718.5 L304.5 718.5 L305.1 718.5 L305.6 718.5 L306.2 718.5 L306.7 718.5 L307.3 718.5 L307.9 718.5 L308.4 718.5 L309 718.5 L309.5 718.5 L310.1 718.5 L310.7 718.5 L311.2 718.5 L311.8 718.5 L312.3 718.5 L312.9 718.5 L313.5 718.5 L314 718.5 L314.6 718.5 L315.1 718.5 L315.7 718.5 L316.3 718.5 L316.8 718.5 L317.4 718.5 L317.9 718.5 L318.5 718.5 L319.1 718.5 L319.6 718.5 L320.2 718.5 L320.7 718.5 L321.3 718.5 L321.9 718.5 L322.4 718.5 L323 718.5 L323.6 718.5 L324.1 718.5 L324.7 718.5 L325.2 718.5 L325.8 718.5 L326.4 718.5 L326.9 718.5 L327.5 718.5 L328 718.5 L328.6 718.5 L329.2 718.5 L329.7 718.5 L330.3 718.5 L330.8 718.5 L331.4 718.5 L332 718.5 L332.5 718.5 L333.1 718.5 L333.6 718.5 L334.2 718.5 L334.8 718.5 L335.3 718.5 L335.9 718.5 L336.4 718.5 L337 718.5 L337.6 718.5 L338.1 718.5 L338.7 718.5 L339.2 718.5 L339.8 718.5 L340.4 718.5 L340.9 718.5 L341.5 718.5 L342 718.5 L342.6 718.5 L343.2 718.5 L343.7 718.5 L344.3 718.5 L344.8 718.5 L345.4 718.5 L346 718.5 L346.5 718.5 L347.1 718.5 L347.6 718.5 L348.2 718.5 L348.8 718.5 L349.3 718.5 L349.9 718.5 L350.4 718.5 L351 718.5 L351.6 718.5 L352.1 718.5 L352.7 718.5 L353.3 718.5 L353.8 718.5 L354.4 718.5 L354.9 718.5 L355.5 718.5 L356.1 718.5 L356.6 718.5 L357.2 718.5 L357.7 718.5 L358.3 718.5 L358.9 718.5 L359.4 718.5 L360 718.5 L360.5 718.5 L361.1 718.5 L361.7 718.5 L362.2 718.5 L362.8 718.5 L363.3 718.5 L363.9 718.5 L364.5 718.5 L365 718.5 L365.6 718.5 L366.1 718.5 L366.7 718.5 L367.3 718.5 L367.8 718.5 L368.4 718.5 L368.9 718.5 L369.5 718.5 L370.1 718.5 L370.6 718.5 L371.2 718.5 L371.7 718.5 L372.3 718.5 L372.9 718.5 L373.4 718.5 L374 718.5 L374.5 718.5 L375.1 718.5 L375.7 718.5 L376.2 718.5 L376.8 718.5 L377.3 718.5 L377.9 718.5 L378.5 718.5 L379 718.5 L379.6 718.5 L380.2 718.5 L380.7 718.5 L381.3 718.5 L381.8 718.5 L382.4 718.5 L383 718.5 L383.5 718.5 L384.1 718.5 L384.6 718.5 L385.2 718.5 L385.8 718.5 L386.3 718.5 L386.9 718.5 L387.4 718.5 L388 718.5 L388.6 718.5 L389.1 718.5 L389.7 718.5 L390.2 718.5 L390.8 718.5 L391.4 718.5 L391.9 718.5 L392.5 718.5 L393 718.5 L393.6 718.5 L394.2 718.5 L394.7 718.5 L395.3 718.5 L395.8 718.5 L396.4 718.5 L397 718.5 L397.5 718.5 L398.1 718.5 L398.6 718.5 L399.2 718.5 L399.8 718.5 L400.3 718.5 L400.9 718.5 L401.4 718.5 L402 718.5 L402.6 718.5 L403.1 718.5 L403.7 718.5 L404.2 718.5 L404.8 718.5 L405.4 718.5 L405.9 718.5 L406.5 718.5 L407 718.5 L407.6 718.5 L408.2 718.5 L408.7 718.5 L409.3 718.5 L409.9 718.5 L410.4 718.5 L411 718.5 L411.5 718.5 L412.1 722.2 L412.7 722.4 L413.2 728.8 L413.8 718.5 L414.3 718.5 L414.9 718.5 L415.5 718.5 L416 718.5 L416.6 718.5 L417.1 718.5 L417.7 718.5 L418.3 718.5 L418.8 718.5 L419.4 718.5 L419.9 718.5 L420.5 718.5 L421.1 718.5 L421.6 718.5 L422.2 718.5 L422.7 718.5 L423.3 718.5 L423.9 718.5 L424.4 718.5 L425 718.5 L425.5 718.5 L426.1 718.5 L426.7 718.5 L427.2 718.5 L427.8 718.5 L428.3 718.5 L428.9 718.5 L429.5 718.5 L430 718.5 L430.6 718.5 L431.1 718.5 L431.7 718.5 L432.3 718.5 L432.8 718.5 L433.4 718.5 L433.9 718.5 L434.5 718.5 L435.1 718.5 L435.6 718.5 L436.2 718.5 L436.8 718.5 L437.3 718.5 L437.9 721.4 L438.4 718.5 L439 718.5 L439.6 723.5 L440.1 718.5 L440.7 718.5 L441.2 718.5 L441.8 718.5 L442.4 718.5 L442.9 718.5 L443.5 718.5 L444 718.5 L444.6 718.5 L445.2 718.5 L445.7 718.5 L446.3 718.5 L446.8 718.5 L447.4 718.5 L448 718.5 L448.5 720.4 L449.1 724.7 L449.6 718.5 L450.2 718.5 L450.8 720.1 L451.3 741.6 L451.9 728 L452.4 727.3 L453 726.5 L453.6 720.4 L454.1 728.2 L454.7 730.6 L455.2 734.2 L455.8 733 L456.4 733 L456.9 730.3 L457.5 725.5 L458 718.5 L458.6 718.5 L459.2 718.5 L459.7 718.5 L460.3 718.5 L460.8 718.5 L461.4 718.5 L462 718.5 L462.5 718.5 L463.1 718.5 L463.6 718.5 L464.2 718.5 L464.8 718.5 L465.3 718.5 L465.9 718.5 L466.5 718.5 L467 718.5 L467.6 718.5 L468.1 718.5 L468.7 718.5 L469.3 718.5 L469.8 718.5 L470.4 718.5 L470.9 718.5 L471.5 718.5 L472.1 718.5 L472.6 718.5 L473.2 718.5 L473.7 718.5 L474.3 718.5 L474.9 718.5 L475.4 718.5 L476 718.5 L476.5 718.5 L477.1 718.5 L477.7 718.5 L478.2 718.5 L478.8 718.5 L479.3 718.5 L479.9 718.5 L480.5 718.5 L481 718.5 L481.6 718.5 L482.1 718.5 L482.7 718.5 L483.3 718.5 L483.8 718.5 L484.4 718.5 L484.9 718.5 L485.5 718.5 L486.1 718.5 L486.6 718.5 L487.2 718.5 L487.7 718.5 L488.3 718.5 L488.9 718.5 L489.4 718.5 L490 718.5 L490.5 718.5 L491.1 718.5 L491.7 718.5 L492.2 718.5 L492.8 718.5 L493.4 718.5 L493.9 718.5 L494.5 718.5 L495 718.5 L495.6 718.5 L496.2 718.5 L496.7 718.5 L497.3 718.5 L497.8 718.5 L498.4 718.5 L499 718.5 L499.5 718.5 L500.1 718.5 L500.6 718.5 L501.2 718.5 L501.8 718.5 L502.3 718.5 L502.9 718.5 L503.4 718.5 L504 718.5 L504.6 718.5 L505.1 718.5 L505.7 718.5 L506.2 718.5 L506.8 718.5 L507.4 718.5 L507.9 720.7 L508.5 718.5 L509 721.3 L509.6 722.5 L510.2 726 L510.7 726.4 L511.3 724.6 L511.8 725.6 L512.4 718.5 L513 720.9 L513.5 718.5 L514.1 718.5 L514.6 718.5 L515.2 718.5 L515.8 718.5 L516.3 718.5 L516.9 718.5 L517.4 718.5 L518 718.5 L518.6 718.5 L519.1 718.5 L519.7 718.5 L520.3 718.5 L520.8 718.5 L521.4 718.5 L521.9 718.5 L522.5 718.5 L523.1 718.5 L523.6 718.5 L524.2 718.5 L524.7 718.5 L525.3 718.5 L525.9 718.5 L526.4 718.5 L527 718.5 L527.5 718.5 L528.1 718.5 L528.7 718.5 L529.2 718.5 L529.8 718.5 L530.3 718.5 L530.9 718.5 L531.5 718.5 L532 718.5 L532.6 718.5 L533.1 718.5 L533.7 718.5 L534.3 718.5 L534.8 718.5 L535.4 718.5 L535.9 718.5 L536.5 718.5 L537.1 718.5 L537.6 718.5 L538.2 718.5 L538.7 718.5 L539.3 718.5 L539.9 718.5 L540.4 718.5 L541 718.5 L541.5 718.5 L542.1 718.5 L542.7 718.5 L543.2 718.5 L543.8 718.5 L544.3 718.5 L544.9 718.5 L545.5 718.5 L546 718.5 L546.6 718.5 L547.1 718.5 L547.7 718.5 L548.3 718.5 L548.8 718.5 L549.4 718.5 L550 718.5 L550.5 718.5 L551.1 718.5 L551.6 718.5 L552.2 718.5 L552.8 718.5 L553.3 718.5 L553.9 718.5 L554.4 718.5 L555 718.5 L555.6 718.5 L556.1 718.5 L556.7 718.5 L557.2 718.5 L557.8 718.5 L558.4 718.5 L558.9 718.5 L559.5 718.5 L560 718.5 L560.6 718.5 L561.2 718.5 L561.7 718.5 L562.3 718.5 L562.8 718.5 L563.4 718.5 L564 718.5 L564.5 718.5 L565.1 718.5 L565.6 718.5 L566.2 718.5 L566.8 718.5 L567.3 718.5 L567.9 718.5 L568.4 718.5 L569 718.5 L569.6 718.5 L570.1 718.5 L570.7 718.5 L571.2 718.5 L571.8 718.5 L572.4 718.5 L572.9 718.5 L573.5 718.5 L574 718.5 L574.6 718.5 L575.2 718.5 L575.7 718.5 L576.3 718.5 L576.9 718.5 L577.4 718.5 L578 718.5 L578.5 718.5 L579.1 718.5 L579.7 718.5 L580.2 718.5 L580.8 718.5 L581.3 718.5 L581.9 718.5 L582.5 718.5 L583 718.5 L583.6 718.5 L584.1 718.5 L584.7 718.5 L585.3 718.5 L585.8 718.5 L586.4 718.5 L586.9 718.5 L587.5 718.5 L588.1 718.5 L588.6 718.5 L589.2 718.5 L589.7 718.5 L590.3 718.5 L590.9 718.5 L591.4 718.5 L592 718.5 L592.5 718.5 L593.1 718.5 L593.7 718.5 L594.2 718.5 L594.8 718.5 L595.3 718.5 L595.9 718.5 L596.5 718.5 L597 718.5 L597.6 718.5 L598.1 718.5 L598.7 718.5 L599.3 718.5 L599.8 718.8 L600.4 718.5 L600.9 718.5 L601.5 718.5 L602.1 718.5 L602.6 718.5 L603.2 718.5 L603.8 718.5 L604.3 718.5 L604.9 718.5 L605.4 718.5 L606 718.5 L606.6 718.5 L607.1 718.5 L607.7 718.5 L608.2 718.5 L608.8 718.5 L609.4 718.5 L609.9 718.5 L610.5 718.5 L611 718.5 L611.6 718.5 L612.2 718.5 L612.7 718.5 L613.3 718.5 L613.8 718.5 L614.4 718.5 L615 718.5 L615.5 718.5 L616.1 718.5 L616.6 718.5 L617.2 718.5 L617.8 718.5 L618.3 718.5 L618.9 718.5 L619.4 718.5 L620 718.5 L620.6 718.5 L621.1 718.5 L621.7 718.5 L622.2 718.5 L622.8 718.5 L623.4 718.5 L623.9 718.5 L624.5 718.5 L625 718.5 L625.6 718.5 L626.2 718.5 L626.7 718.5 L627.3 718.5 L627.8 718.5 L628.4 718.5 L629 718.5 L629.5 718.5 L630.1 718.5 L630.6 718.5 L631.2 718.5 L631.8 718.5 L632.3 718.5 L632.9 718.5 L633.5 718.5 L634 718.5 L634.6 718.5 L635.1 718.5 L635.7 718.5 L636.3 718.5 L636.8 718.5 L637.4 718.5 L637.9 718.5 L638.5 718.5 L639.1 718.5 L639.6 718.5 L640.2 718.5 L640.7 718.5 L641.3 718.5 L641.9 718.5 L642.4 718.5 L643 718.5 L643.5 721.9 L644.1 718.5 L644.7 718.5 L645.2 718.5 L645.8 718.5 L646.3 718.5 L646.9 718.5 L647.5 718.5 L648 718.5 L648.6 718.5 L649.1 718.5 L649.7 718.5 L650.3 718.5 L650.8 718.5 L651.4 718.5 L651.9 718.5 L652.5 718.5 L653.1 718.5 L653.6 718.5 L654.2 718.5 L654.7 718.5 L655.3 718.5 L655.9 718.5 L656.4 718.5 L657 718.5 L657.5 718.5 L658.1 718.5 L658.7 718.5 L659.2 718.5 L659.8 718.5 L660.4 718.5 L660.9 718.5 L661.5 718.5 L662 718.5 L662.6 718.5 L663.2 718.5 L663.7 718.5 L664.3 718.5 L664.8 718.5 L665.4 718.5 L666 718.5 L666.5 718.5 L667.1 718.5 L667.6 718.5 L668.2 718.5 L668.8 718.5 L669.3 718.5 L669.9 718.5 L670.4 718.5 L671 718.5 L671.6 718.5 L672.1 718.5 L672.7 718.5 L673.2 718.5 L673.8 718.5 L674.4 718.5 L674.9 718.5 L675.5 718.5 L676 718.5 L676.6 718.5 L677.2 718.5 L677.7 718.5 L678.3 718.5 L678.8 718.5 L679.4 718.5 L680 718.5 L680.5 718.5 L681.1 718.5 L681.6 718.5 L682.2 718.5 L682.8 718.5 L683.3 718.5 L683.9 718.5 L684.4 718.5 L685 718.5 L685.6 718.5 L686.1 718.5 L686.7 718.5 L687.2 718.5 L687.8 718.5 L688.4 718.5 L688.9 718.5 L689.5 720.9 L690.1 721.1 L690.6 718.5 L691.2 718.5 L691.7 722.4 L692.3 719.9 L692.9 722.9 L693.4 718.5 L694 718.5 L694.5 718.5 L695.1 718.5 L695.7 718.5 L696.2 718.5 L696.8 718.5 L697.3 718.5 L697.9 718.5 L698.5 718.5 L699 718.5 L699.6 718.5 L700.1 718.5 L700.7 718.5 L701.3 718.5 L701.8 718.5 L702.4 718.5 L702.9 718.5 L703.5 718.5 L704.1 718.5 L704.6 718.5 L705.2 718.5 L705.7 718.5 L706.3 718.5 L706.9 718.5 L707.4 718.5 L708 718.5 L708.5 718.5 L709.1 718.5 L709.7 718.5 L710.2 718.5 L710.8 733.5 L711.3 718.5 L711.9 718.5 L712.5 718.5 L713 718.5 L713.6 718.5 L714.1 718.5 L714.7 718.5 L715.3 718.5 L715.8 718.5 L716.4 718.5 L717 718.5 L717.5 718.5 L718.1 718.5 L718.6 718.5 L719.2 718.5 L719.8 718.5 L720.3 718.5 L720.9 718.5 L721.4 718.5 L722 718.5 L722.6 718.5 L723.1 718.5 L723.7 718.5 L724.2 718.5 L724.8 718.5 L725.4 718.5 L725.9 718.5 L726.5 718.5 L727 718.5 L727.6 718.5 L728.2 718.5 L728.7 718.5 L729.3 718.5 L729.8 718.5 L730.4 718.5 L731 718.5 L731.5 718.5 L732.1 718.5 L732.6 718.5 L733.2 718.5 L733.8 718.5 L734.3 718.5 L734.9 718.5 L735.4 718.5 L736 718.5 L736.6 718.5 L737.1 718.5 L737.7 718.5 L738.2 718.5 L738.8 718.5 L739.4 718.5 L739.9 718.5 L740.5 718.5 L741 718.5 L741.6 718.5 L742.2 718.5 L742.7 718.5 L743.3 718.5 L743.9 718.5 L744.4 718.5 L745 718.5 L745.5 718.5 L746.1 718.5 L746.7 718.5 L747.2 718.5 L747.8 718.5 L748.3 718.5 L748.9 719.3 L749.5 730.2 L750 721.9 L750.6 725.9 L751.1 718.5 L751.7 718.5 L752.3 718.5 L752.8 718.5 L753.4 718.5 L753.9 718.5 L754.5 718.5 L755.1 718.5 L755.6 718.5 L756.2 718.5 L756.7 718.5 L757.3 718.5 L757.9 718.5 L758.4 718.5 L759 718.5 L759.5 718.5 L760.1 718.5 L760.7 718.5 L761.2 718.5 L761.8 718.5 L762.3 718.5 L762.9 718.5 L763.5 718.5 L764 718.5 L764.6 718.5 L765.1 718.5 L765.7 718.5 L766.3 718.5 L766.8 718.5 L767.4 718.5 L767.9 718.5 L768.5 718.5 L769.1 718.5 L769.6 718.5 L770.2 718.5 L770.7 718.5 L771.3 718.5 L771.9 718.5 L772.4 718.5 L773 718.5 L773.6 718.5 L774.1 718.5 L774.7 718.5 L775.2 718.5 L775.8 718.5 L776.4 718.5 L776.9 718.5 L777.5 718.5 L778 718.5 L778.6 718.5 L779.2 718.5 L779.7 718.5 L780.3 718.5 L780.8 718.5 L781.4 718.5 L782 718.5 L782.5 718.5 L783.1 718.5 L783.6 718.5 L784.2 718.5 L784.8 718.5 L785.3 718.5 L785.9 718.5 L786.4 718.5 L787 718.5 L787.6 718.5 L788.1 718.5 L788.7 718.5 L789.2 718.5 L789.8 718.5 L790.4 718.5 L790.9 718.5 L791.5 718.5 L792 718.5 L792.6 718.5 L793.2 718.5 L793.7 718.5 L794.3 718.5 L794.8 718.5 L795.4 718.5 L796 718.5 L796.5 718.5 L797.1 718.5 L797.6 718.5 L798.2 718.5 L798.8 718.5 L799.3 718.5 L799.9 718.5 L800.5 718.5 L801 718.5 L801.6 718.5 L802.1 718.5 L802.7 718.5 L803.3 718.5 L803.8 718.5 L804.4 718.5 L804.9 718.5 L805.5 718.5 L806.1 718.5 L806.6 718.5 L807.2 718.5 L807.7 718.5 L808.3 718.5 L808.9 718.5 L809.4 718.5 L810 718.5 L810.5 718.5 L811.1 718.5 L811.7 718.5 L812.2 718.5 L812.8 718.5 L813.3 718.5 L813.9 718.5 L814.5 718.5 L815 718.5 L815.6 718.5 L816.1 718.5 L816.7 718.5 L817.3 718.5 L817.8 718.5 L818.4 718.5 L818.9 718.5 L819.5 718.5 L820.1 718.5 L820.6 718.5 L821.2 718.5 L821.7 718.5 L822.3 718.5 L822.9 718.5 L823.4 718.5 L824 718.5 L824.5 718.5 L825.1 718.5 L825.7 718.5 L826.2 718.5 L826.8 718.5 L827.3 718.5 L827.9 718.5 L828.5 718.5 L829 718.5 L829.6 718.5 L830.2 718.5 L830.7 718.5 L831.3 718.5 L831.8 718.5 L832.4 718.5 L833 718.5 L833.5 718.5 L834.1 718.5 L834.6 718.5 L835.2 718.5 L835.8 718.5 L836.3 718.5 L836.9 718.5 L837.4 718.5 L838 718.5 L838.6 718.5 L839.1 718.5 L839.7 718.5 L840.2 718.5 L840.8 718.5 L841.4 718.5 L841.9 718.5 L842.5 718.5 L843 718.5 L843.6 718.5 L844.2 718.5 L844.7 718.5 L845.3 718.5 L845.8 718.5 L846.4 718.5 L847 718.5 L847.5 718.5 L848.1 718.5 L848.6 718.5 L849.2 718.5 L849.8 718.5 L850.3 718.5 L850.9 718.5 L851.4 718.5 L852 718.5 L852.6 718.5 L853.1 718.5 L853.7 718.5 L854.2 718.5 L854.8 718.5 L855.4 718.5 L855.9 718.5 L856.5 718.5 L857.1 718.5 L857.6 718.5 L858.2 718.5 L858.7 718.5 L859.3 718.5 L859.9 718.5 L860.4 718.5 L861 718.5 L861.5 718.5 L862.1 718.5 L862.7 718.5 L863.2 718.5 L863.8 718.5 L864.3 718.5 L864.9 718.5 L865.5 718.5 L866 718.5 L866.6 718.5 L867.1 718.5 L867.7 718.5 L868.3 718.5 L868.8 718.5 L869.4 718.5 L869.9 718.5 L870.5 718.5 L871.1 718.5 L871.6 718.5 L872.2 718.5 L872.7 718.5 L873.3 718.5 L873.9 718.5 L874.4 718.5 L875 718.5 L875.5 718.5 L876.1 718.5 L876.7 718.5 L877.2 718.5 L877.8 718.5 L878.3 718.5 L878.9 718.5 L879.5 718.5 L880 718.5 L880.6 718.5 L881.1 718.5 L881.7 718.5 L882.3 718.5 L882.8 718.5 L883.4 718.5 L884 718.5 L884.5 718.5 L885.1 718.5 L885.6 718.5 L886.2 718.5 L886.8 718.5 L887.3 718.5 L887.9 718.5 L888.4 718.5 L889 718.5 L889.6 718.5 L890.1 718.5 L890.7 718.5 L891.2 718.5 L891.8 718.5 L892.4 718.5 L892.9 718.5 L893.5 718.5 L894 718.5 L894.6 718.5 L895.2 718.5 L895.7 718.5 L896.3 718.5 L896.8 718.5 L897.4 718.5 L898 718.5 L898.5 718.5 L899.1 718.5 L899.6 718.5 L900.2 718.5 L900.8 718.5 L901.3 718.5 L901.9 718.5 L902.4 718.5 L903 718.5 L903.6 718.5 L904.1 718.5 L904.7 718.5 L905.2 718.5 L905.8 718.5 L906.4 718.5 L906.9 718.5 L907.5 718.5 L908 718.5 L908.6 718.5 L909.2 718.5 L909.7 718.5 L910.3 718.5 L910.8 718.5 L911.4 718.5 L912 718.5 L912.5 718.5 L913.1 718.5 L913.7 718.5 L914.2 718.5 L914.8 718.5 L915.3 718.5 L915.9 718.5 L916.5 718.5 L917 718.5 L917.6 718.5 L918.1 718.5 L918.7 718.5 L919.3 718.5 L919.8 718.5 L920.4 718.5 L920.9 718.5 L921.5 718.5 L922.1 718.5 L922.6 718.5 L923.2 718.5 L923.7 718.5 L924.3 718.5 L924.9 718.5 L925.4 718.5 L926 718.5 L926.5 718.5 L927.1 718.5 L927.7 718.5 L928.2 718.5 L928.8 718.5 L929.3 718.5 L929.9 718.5 L930.5 718.5 L931 718.5 L931.6 718.5 L932.1 718.5 L932.7 718.5 L933.3 718.5 L933.8 718.5 L934.4 718.5 L934.9 718.5 L935.5 718.5 L936.1 718.5 L936.6 718.5 L937.2 723 L937.7 718.5 L938.3 718.5 L938.9 718.5 L939.4 718.5 L940 720.6 L940.6 718.5 L941.1 718.5 L941.7 720.3 L942.2 718.5 L942.8 720.7 L943.4 725.7 L943.9 718.5 L944.5 726.1 L945 729.2 L945.6 730.9 L946.2 724.4 L946.7 725.2 L947.3 741.3 L947.8 743.3 L948.4 730.2 L949 726.5 L949.5 725.8 L950.1 718.5 L950.6 718.5 L951.2 718.5 L951.8 718.5 L952.3 718.5 L952.9 718.5 L953.4 718.5 L954 718.5 L954.6 718.5 L955.1 718.5 L955.7 718.5 L956.2 718.5 L956.8 718.5 L957.4 718.5 L957.9 718.5 L958.5 718.5 L959 718.5 L959.6 718.5 L960.2 718.5 L960.7 718.5 L961.3 718.5 L961.8 718.5 L962.4 718.5 L963 718.5 L963.5 720.4 L964.1 718.5 L964.6 718.5 L965.2 718.5 L965.8 718.5 L966.3 719.9 L966.9 718.5 L967.4 718.5 L968 718.5 L968.6 719.5 L969.1 720.1 L969.7 721.5 L970.3 719.1 L970.8 721.7 L971.4 724.5 L971.9 718.5 L972.5 718.5 L973.1 718.5 L973.6 718.5 L974.2 718.5 L974.7 718.5 L975.3 718.5 L975.9 718.5 L976.4 718.5 L977 718.5 L977.5 718.5 L978.1 718.5 L978.7 718.5 L979.2 718.5 L979.8 718.5 L980.3 718.5 L980.9 718.5 L981.5 718.5 L982 718.5 L982.6 718.5 L983.1 718.5 L983.7 718.5 L984.3 718.5 L984.8 718.5 L985.4 718.5 L985.9 718.5 L986.5 718.5 L987.1 718.5 L987.6 718.5 L988.2 718.5 L988.7 718.5 L989.3 718.5 L989.9 718.5 L990.4 718.5 L991 718.5 L991.5 718.5 L992.1 718.5 L992.7 718.5 L993.2 718.5 L993.8 718.5 L994.3 718.5 L994.9 718.5 L995.5 718.5 L996 718.5 L996.6 718.5 L997.2 718.5 L997.7 718.5 L998.3 718.5 L998.8 718.5 L999.4 718.5 L1000 718.5 L1000.5 718.5 L1001.1 718.5 L1001.6 718.5 L1002.2 718.5 L1002.8 718.5 L1003.3 718.5 L1003.9 718.5 L1004.4 718.5 L1005 718.5 L1005.6 718.5 L1006.1 718.5 L1006.7 718.5 L1007.2 718.5 L1007.8 718.5 L1008.4 718.5 L1008.9 718.5 L1009.5 718.5 L1010 718.5 L1010.6 718.5 L1011.2 718.5 L1011.7 718.5 L1012.3 718.5 L1012.8 718.5 L1013.4 718.5 L1014 718.5 L1014.5 718.5 L1015.1 718.5 L1015.6 718.5 L1016.2 718.5 L1016.8 718.5 L1017.3 718.5 L1017.9 718.5 L1018.4 718.5 L1019 718.5 L1019.6 718.5 L1020.1 718.5 L1020.7 718.5 L1021.2 718.5 L1021.8 718.5 L1022.4 718.5 L1022.9 718.5 L1023.5 718.5 L1024 718.5 L1024.6 718.5 L1025.2 718.5 L1025.7 718.5 L1026.3 718.5 L1026.9 718.5 L1027.4 718.5 L1028 718.5 L1028.5 718.5 L1029.1 718.5 L1029.7 718.5 L1030.2 718.5 L1030.8 718.5 L1031.3 718.5 L1031.9 718.5 L1032.5 718.5 L1033 718.5 L1033.6 718.5 L1034.1 718.5 L1034.7 718.5 L1035.3 718.5 L1035.8 718.5 L1036.4 718.5 L1036.9 718.5 L1037.5 718.5 L1038.1 718.5 L1038.6 718.5 L1039.2 718.5 L1039.7 718.5 L1040.3 718.5 L1040.9 718.5 L1041.4 718.5 L1042 718.5 L1042.5 718.5 L1043.1 718.5 L1043.7 718.5 L1044.2 718.5 L1044.8 718.5 L1045.3 718.5 L1045.9 718.5 L1046.5 718.5 L1047 718.5 L1047.6 718.5 L1048.1 718.5 L1048.7 718.5 L1049.3 718.5 L1049.8 718.5 L1050.4 718.5 L1050.9 718.5 L1051.5 718.5 L1052.1 718.5 L1052.6 718.5 L1053.2 718.5 L1053.8 718.5 L1054.3 718.5 L1054.9 718.5 L1055.4 718.5 L1056 718.5 L1056.6 718.5 L1057.1 718.5 L1057.7 718.5 L1058.2 718.5 L1058.8 718.5 L1059.4 718.5 L1059.9 718.5 L1060.5 718.5 L1061 718.5 L1061.6 718.5 L1062.2 719.6 L1062.7 727.7 L1063.3 732.3 L1063.8 735 L1064.4 738 L1065 738.7 L1065.5 736.7 L1066.1 733.8 L1066.6 732.1 L1067.2 727 L1067.8 728.5 L1068.3 727.3 L1068.9 726.3 L1069.4 724.9 L1070 724.1 L1070.6 723.4 L1071.1 723.8 L1071.7 718.6 L1072.2 718.9 L1072.8 718.5 L1073.4 718.5 L1073.9 718.5 L1074.5 718.5 L1075 718.5 L1075.6 718.5 L1076.2 718.5 L1076.7 718.5 L1077.3 718.5 L1077.8 718.5 L1078.4 718.5 L1079 718.5 L1079.5 718.5 L1080.1 718.5 L1080.7 718.5 L1081.2 718.5 L1081.8 718.5 L1082.3 718.5 L1082.9 718.5 L1083.5 718.5 L1084 718.5 L1084.6 718.5 L1085.1 718.5 L1085.7 718.5 L1086.3 718.5 L1086.8 718.5 L1087.4 718.5 L1087.9 718.5 L1088.5 718.5 L1089.1 718.5 L1089.6 718.5 L1090.2 718.5 L1090.7 718.5 L1091.3 718.5 L1091.9 718.5 L1092.4 718.5 L1093 718.5 L1093.5 718.5 L1094.1 718.5 L1094.7 719.8 L1095.2 724 L1095.8 724.7 L1096.3 732.4 L1096.9 735.4 L1097.5 737.9 L1098 738.5 L1098.6 741.3 L1099.1 740.8 L1099.7 740.7 L1100.3 731.7 L1100.8 724.6 L1101.4 725.4 L1101.9 718.5 L1102.5 718.5 L1103.1 718.5 L1103.6 718.5 L1104.2 718.5 L1104.7 718.5 L1105.3 718.5 L1105.9 718.5 L1106.4 718.5 L1107 718.5 L1107.5 718.5 L1108.1 718.5 L1108.7 718.5 L1109.2 718.5 L1109.8 718.5 L1110.4 718.5 L1110.9 718.5 L1111.5 718.5 L1112 718.5 L1112.6 718.5 L1113.2 718.5 L1113.7 718.5 L1114.3 718.5 L1114.8 718.5 L1115.4 718.5 L1116 718.5 L1116.5 718.5 L1117.1 718.5 L1117.6 718.5 L1118.2 718.5 L1118.8 718.5 L1119.3 718.5 L1119.9 718.5 L1120.4 718.5 L1121 718.5 L1121.6 718.5 L1122.1 718.5 L1122.7 718.5 L1123.2 718.5 L1123.8 718.5 L1124.4 718.5 L1124.9 718.5 L1125.5 718.5 L1126 718.5 L1126.6 718.5 L1127.2 718.5 L1127.7 718.5 L1128.3 718.5 L1128.8 718.5 L1129.4 718.5 L1130 718.5 L1130.5 718.5 L1131.1 718.5 L1131.6 718.5 L1132.2 718.5 L1132.8 718.5 L1133.3 718.5 L1133.9 718.5 L1134.4 718.5 L1135 718.5 L1135.6 718.5 L1136.1 718.5 L1136.7 718.5 L1137.3 718.5 L1137.8 718.5 L1138.4 718.5 L1138.9 718.5 L1139.5 718.5 L1140.1 718.5 L1140.6 718.5 L1141.2 718.5 L1141.7 718.5 L1142.3 718.5 L1142.9 718.5 L1143.4 718.5 L1144 718.5 L1144.5 718.5 L1145.1 718.5 L1145.7 718.5 L1146.2 718.5 L1146.8 718.5 L1147.3 718.5 L1147.9 718.5 L1148.5 718.5 L1149 718.5 L1149.6 718.5 L1150.1 718.5 L1150.7 718.5 L1151.3 720.3 L1151.8 723.2 L1152.4 721.9 L1152.9 721.2 L1153.5 722.5 L1154.1 721.3 L1154.6 718.5 L1155.2 718.5 L1155.7 722.5 L1156.3 720 L1156.9 723.6 L1157.4 718.5 L1158 718.5 L1158.5 718.5 L1159.1 718.5 L1159.7 718.5 L1160.2 718.5 L1160.8 718.5 L1161.3 718.5 L1161.9 718.5 L1162.5 718.5 L1163 718.5 L1163.6 718.5 L1164.2 718.5 L1164.7 718.5 L1165.3 718.5 L1165.8 718.5 L1166.4 718.5 L1167 718.5 L1167.5 718.5 L1168.1 718.5 L1168.6 718.5 L1169.2 718.5 L1169.8 718.5 L1170.3 718.5 L1170.9 718.5 L1171.4 718.5 L1172 718.5 L1172.6 718.5 L1173.1 718.5 L1173.7 718.5 L1174.2 718.5 L1174.8 718.5 L1175.4 718.5 L1175.9 718.5 L1176.5 718.5 L1177 718.5 L1177.6 718.5 L1178.2 718.5 L1178.7 718.5 L1179.3 718.5 L1179.8 718.5 L1180.4 718.5 L1181 718.5 L1181.5 718.5 L1182.1 718.5 L1182.6 718.5 L1183.2 718.5 L1183.8 718.5 L1184.3 718.5 L1184.9 718.5 L1185.4 718.5 L1186 718.5 L1186.6 718.5 L1187.1 718.5 L1187.7 718.5 L1188.2 718.5 L1188.8 718.5 L1189.4 718.5 L1189.9 718.5 L1190.5 718.5 L1191 718.5 L1191.6 718.5 L1192.2 718.5 L1192.7 718.5 L1193.3 718.5 L1193.9 718.5 L1194.4 718.5 L1195 718.5 L1195.5 718.5 L1196.1 718.5 L1196.7 718.5 L1197.2 718.5 L1197.8 718.5 L1198.3 718.5 L1198.9 718.5 L1199.5 718.5 L1200 718.5 L1200.6 718.5 L1201.1 718.5 L1201.7 718.5 L1202.3 718.5 L1202.8 718.5 L1203.4 718.5 L1203.9 718.5 L1204.5 718.5 L1205.1 718.5 L1205.6 718.5 L1206.2 718.5 L1206.7 718.5 L1207.3 718.5 L1207.9 718.5 L1208.4 718.5 L1209 718.5 L1209.5 718.5 L1210.1 718.5 L1210.7 718.5 L1211.2 718.5 L1211.8 718.5 L1212.3 718.5 L1212.9 718.5 L1213.5 718.5 L1214 718.5 L1214.6 718.5 L1215.1 718.5 L1215.7 718.5 L1216.3 718.5 L1216.8 718.5 L1217.4 718.5 L1217.9 718.5 L1218.5 718.5 L1219.1 718.5 L1219.6 718.5 L1220.2 718.5 L1220.8 718.5 L1221.3 718.5 L1221.9 718.5 L1222.4 718.5 L1223 718.5 L1223.6 718.5 L1224.1 718.5 L1224.7 718.5 L1225.2 718.5 L1225.8 718.5 L1226.4 718.5 L1226.9 718.5 L1227.5 718.5 L1228 718.5 L1228.6 718.5 L1229.2 718.5 L1229.7 718.5 L1230.3 718.5 L1230.8 718.5 L1231.4 718.5 L1232 718.5 L1232.5 718.5 L1233.1 718.5 L1233.6 718.5 L1234.2 718.5 L1234.2 718.5 Z" fill="url(#gos)"/>
<path d="M12 623.5H1298" stroke="#787b86" stroke-opacity="0.75" stroke-width="1" stroke-dasharray="5 6" stroke-dashoffset="1" shape-rendering="crispEdges"/>
<path d="M12 670.5H1298" stroke="#787b86" stroke-opacity="0.75" stroke-width="1" stroke-dasharray="5 6" stroke-dashoffset="1" shape-rendering="crispEdges"/>
<path d="M12 718.5H1298" stroke="#787b86" stroke-opacity="0.75" stroke-width="1" stroke-dasharray="5 6" stroke-dashoffset="1" shape-rendering="crispEdges"/>
</g>
<text x="20.3" y="621.7" textLength="84.8" lengthAdjust="spacingAndGlyphs" font-family="'Liberation Sans','Noto Sans CJK JP',sans-serif" font-size="14" font-weight="normal" fill="#b2b5be">RSI (14, close)</text>
<text x="113.9" y="621.7" textLength="35.5" lengthAdjust="spacingAndGlyphs" font-family="'Liberation Sans','Noto Sans CJK JP',sans-serif" font-size="14" font-weight="normal" fill="#7e57c2">47.32</text>
<text x="155.7" y="621.7" textLength="33.8" lengthAdjust="spacingAndGlyphs" font-family="'Liberation Sans','Noto Sans CJK JP',sans-serif" font-size="14" font-weight="bold" fill="#fdd835">52.13</text>
<text x="197.4" y="621.7" textLength="12.2" lengthAdjust="spacingAndGlyphs" font-family="'DejaVu Sans',sans-serif" font-size="14" font-weight="normal" fill="#b2b5be">∅</text>
<text x="219.2" y="621.7" textLength="12.1" lengthAdjust="spacingAndGlyphs" font-family="'DejaVu Sans',sans-serif" font-size="14" font-weight="normal" fill="#b2b5be">∅</text>
<g clip-path="url(#cr)">
<path d="M10.3 684.6L10.8 662.9L11.4 672.7L12 670.1L12.5 662.1L13.1 655.2L13.6 654.1L14.2 651.2L14.8 648.2L15.3 666.5L15.9 647.1L16.5 646.2L17 631.6L17.6 625.9L18.1 644.1L18.7 629.7L19.3 637.3L19.8 625.9L20.4 650L20.9 642.3L21.5 646.4L22.1 642.8L22.6 651.4L23.2 652.4L23.7 652L24.3 650L24.9 646.5L25.4 642.6L26 641.9L26.5 644.5L27.1 644.5L27.7 637.3L28.2 646.4L28.8 640.9L29.3 640.6L29.9 661.8L30.5 663.3L31 674.9L31.6 685.4L32.1 690.4L32.7 699.9L33.3 700L33.8 698.1L34.4 698.8L34.9 708L35.5 689.4L36.1 679.9L36.6 674.3L37.2 679.5L37.7 675.4L38.3 673L38.9 673.4L39.4 664.5L40 661.8L40.5 651.9L41.1 650.8L41.7 651L42.2 678.7L42.8 705L43.4 672.6L43.9 666.4L44.5 664.7L45 657.7L45.6 661.9L46.2 666.8L46.7 671.3L47.3 661.8L47.8 675.8L48.4 669.5L49 675.7L49.5 680.2L50.1 673L50.6 679.8L51.2 687.7L51.8 681.1L52.3 683.8L52.9 685.1L53.4 690L54 673.7L54.6 671.2L55.1 683.5L55.7 710.7L56.2 701.1L56.8 683.7L57.4 686.3L57.9 670.4L58.5 671.2L59 682.4L59.6 656.6L60.2 651.8L60.7 650.3L61.3 640.2L61.8 630.4L62.4 640.2L63 630.8L63.5 632.3L64.1 624.1L64.6 620.6L65.2 607.4L65.8 614.2L66.3 602.1L66.9 592.4L67.4 588.5L68 586L68.6 581.6L69.1 577L69.7 573.4L70.2 579.6L70.8 580.5L71.4 576.7L71.9 582.3L72.5 588.4L73.1 589.3L73.6 591.1L74.2 619L74.7 610.5L75.3 614.3L75.9 612.1L76.4 625.5L77 618.1L77.5 606.5L78.1 617L78.7 611.3L79.2 610.4L79.8 609L80.3 605.9L80.9 605.4L81.5 620.8L82 617.6L82.6 618.5L83.1 623.5L83.7 624.8L84.3 640.8L84.8 625.6L85.4 655.5L85.9 668.6L86.5 679.4L87.1 687.5L87.6 684.3L88.2 675.8L88.7 679.2L89.3 686.8L89.9 677.3L90.4 665.1L91 656.5L91.5 662.5L92.1 672.7L92.7 667.1L93.2 664.3L93.8 662.7L94.3 664.3L94.9 672.2L95.5 661.5L96 664.1L96.6 670.5L97.1 671.3L97.7 667.9L98.3 647.8L98.8 645.3L99.4 648.1L100 628.8L100.5 623.6L101.1 616.2L101.6 611.3L102.2 609.6L102.8 610.4L103.3 607.5L103.9 603.4L104.4 603.4L105 595.5L105.6 613.2L106.1 619.1L106.7 620L107.2 624.1L107.8 621.8L108.4 612.5L108.9 634.7L109.5 664.7L110 653.5L110.6 648.9L111.2 641.6L111.7 652L112.3 662.2L112.8 656.8L113.4 655L114 654.6L114.5 657L115.1 655.2L115.6 658.1L116.2 654.2L116.8 644.8L117.3 646.9L117.9 658.1L118.4 674.4L119 685.9L119.6 685.1L120.1 702.5L120.7 697.8L121.2 672.5L121.8 655L122.4 647.1L122.9 642.1L123.5 639.5L124 614.1L124.6 627.7L125.2 641.1L125.7 635.8L126.3 645.6L126.8 649.6L127.4 642.5L128 657.3L128.5 652.7L129.1 651L129.7 653.2L130.2 662.5L130.8 654.2L131.3 658.4L131.9 649L132.5 647.4L133 643.9L133.6 639.4L134.1 637.7L134.7 639.7L135.3 638L135.8 637.1L136.4 633.7L136.9 623.3L137.5 617.8L138.1 609.9L138.6 610.2L139.2 617L139.7 608.7L140.3 618.8L140.9 634.3L141.4 625.1L142 616.2L142.5 616.4L143.1 626.9L143.7 623.9L144.2 627.3L144.8 621.6L145.3 623.6L145.9 628L146.5 620.8L147 655.1L147.6 659.4L148.1 649.4L148.7 643.9L149.3 643.7L149.8 641.6L150.4 643.5L150.9 637.6L151.5 641L152.1 639.3L152.6 664.7L153.2 648.2L153.7 646.8L154.3 644.4L154.9 645.1L155.4 663L156 645.9L156.6 644.2L157.1 653.3L157.7 647L158.2 633.5L158.8 638.1L159.4 627.4L159.9 624.3L160.5 622.3L161 620.3L161.6 621.2L162.2 627.3L162.7 638.4L163.3 642L163.8 649.6L164.4 651.6L165 629.5L165.5 655.7L166.1 661.8L166.6 675.2L167.2 671.1L167.8 667L168.3 689.1L168.9 663.5L169.4 658.5L170 647.8L170.6 636.9L171.1 617L171.7 638.5L172.2 641.4L172.8 634.5L173.4 630.2L173.9 637.8L174.5 638.1L175 634.2L175.6 648.8L176.2 648L176.7 652.3L177.3 651.8L177.8 648.7L178.4 656.7L179 667.3L179.5 680.4L180.1 663.9L180.6 668.7L181.2 661.3L181.8 660.9L182.3 656.4L182.9 661L183.5 661.7L184 671.5L184.6 679L185.1 652.2L185.7 623L186.3 622.6L186.8 629.3L187.4 633.5L187.9 621.5L188.5 622.6L189.1 634.6L189.6 640.3L190.2 637.9L190.7 632.7L191.3 644.6L191.9 654.1L192.4 652.5L193 650.6L193.5 655.7L194.1 650.3L194.7 646.3L195.2 648.8L195.8 647.2L196.3 667L196.9 661.9L197.5 652.5L198 659.3L198.6 649.9L199.1 655.7L199.7 657.9L200.3 654.8L200.8 644L201.4 635.8L201.9 630.4L202.5 621.5L203.1 612.4L203.6 616.1L204.2 617.9L204.7 612.1L205.3 609.8L205.9 604.6L206.4 610.2L207 605.3L207.5 620.5L208.1 623.2L208.7 618.3L209.2 617.9L209.8 617.1L210.3 614.8L210.9 613L211.5 611.2L212 614.5L212.6 609.2L213.2 606.9L213.7 606.7L214.3 623.5L214.8 632.6L215.4 630L216 629.1L216.5 634.6L217.1 625.1L217.6 652L218.2 673.8L218.8 666.8L219.3 665.5L219.9 654.9L220.4 662.2L221 666.7L221.6 672L222.1 654.3L222.7 668.3L223.2 680.4L223.8 686.1L224.4 683L224.9 682.2L225.5 684.7L226 688.9L226.6 693.9L227.2 689.3L227.7 674.9L228.3 659.3L228.8 649.7L229.4 650.7L230 659.9L230.5 673.6L231.1 678.9L231.6 679.5L232.2 679.6L232.8 673.3L233.3 684.7L233.9 672.7L234.4 670.8L235 689.8L235.6 674.2L236.1 687.3L236.7 690.1L237.2 686.6L237.8 698.6L238.4 703.6L238.9 704.5L239.5 704.6L240.1 707.9L240.6 708.4L241.2 708.1L241.7 699.8L242.3 689.6L242.9 702.6L243.4 701.4L244 688.1L244.5 692.9L245.1 694.6L245.7 679.3L246.2 681.8L246.8 665L247.3 666.5L247.9 661.1L248.5 656.3L249 664.9L249.6 672.4L250.1 671.2L250.7 688.3L251.3 681.8L251.8 664.4L252.4 670.9L252.9 656L253.5 639.7L254.1 654.8L254.6 642.8L255.2 643.2L255.7 636.8L256.3 659L256.9 649.3L257.4 643.5L258 634L258.5 629.3L259.1 634.6L259.7 647.9L260.2 652.1L260.8 665.9L261.3 668.6L261.9 680.4L262.5 692L263 697.5L263.6 705.3L264.1 713.5L264.7 716.9L265.3 720.3L265.8 720.1L266.4 722.2L266.9 717.4L267.5 713.4L268.1 708.3L268.6 710.9L269.2 713L269.8 707.5L270.3 695.4L270.9 675.6L271.4 668.7L272 671.2L272.6 664.3L273.1 649.7L273.7 649.5L274.2 655.3L274.8 654.8L275.4 660.1L275.9 667L276.5 679.4L277 675.2L277.6 676.9L278.2 672.9L278.7 657L279.3 660.2L279.8 660.6L280.4 667.4L281 668L281.5 679.7L282.1 674.2L282.6 670.4L283.2 679.3L283.8 683.9L284.3 686L284.9 694L285.4 700.5L286 699.1L286.6 699.9L287.1 701.6L287.7 667.7L288.2 688.7L288.8 693.7L289.4 702.7L289.9 698.4L290.5 703.4L291 702.1L291.6 705L292.2 710.4L292.7 704.9L293.3 706L293.8 705.1L294.4 706.1L295 712.7L295.5 716.2L296.1 717L296.7 719.1L297.2 707.8L297.8 683.8L298.3 684.8L298.9 687.2L299.5 677L300 678.6L300.6 669.2L301.1 661.7L301.7 659.2L302.3 661.2L302.8 663.2L303.4 657.3L303.9 625.3L304.5 619.8L305.1 625L305.6 616.3L306.2 613.2L306.7 607L307.3 611.5L307.9 611.4L308.4 628.8L309 639.7L309.5 634.7L310.1 635.6L310.7 636.4L311.2 634.7L311.8 627.7L312.3 621.4L312.9 636.6L313.5 634.1L314 633.6L314.6 639.9L315.1 641.5L315.7 636.5L316.3 614.4L316.8 623.1L317.4 627.6L317.9 636.1L318.5 626.3L319.1 644.5L319.6 661.7L320.2 643.3L320.7 643.8L321.3 640.6L321.9 643.1L322.4 656.8L323 655.2L323.6 649.4L324.1 642.1L324.7 633.6L325.2 646.7L325.8 644.7L326.4 660.6L326.9 647.9L327.5 646.1L328 643.2L328.6 632L329.2 636L329.7 649L330.3 636.2L330.8 640.6L331.4 637.2L332 639.8L332.5 631.8L333.1 660.2L333.6 649.8L334.2 636.2L334.8 639.8L335.3 636.1L335.9 638.5L336.4 628.2L337 627.6L337.6 633.7L338.1 628.5L338.7 618.8L339.2 633.6L339.8 653.6L340.4 646L340.9 642.9L341.5 650.5L342 623.6L342.6 648.8L343.2 658.2L343.7 655.6L344.3 663.2L344.8 680.5L345.4 684.5L346 687.4L346.5 686L347.1 669.9L347.6 684.4L348.2 687.2L348.8 683.1L349.3 681.4L349.9 679.6L350.4 671.1L351 671.5L351.6 681.6L352.1 661.9L352.7 662.6L353.3 667.7L353.8 661.2L354.4 654.6L354.9 650.1L355.5 654.2L356.1 650.1L356.6 655.1L357.2 659.5L357.7 657.2L358.3 652L358.9 665.9L359.4 677.6L360 676.8L360.5 683.1L361.1 682.5L361.7 687L362.2 691.3L362.8 677.7L363.3 684.1L363.9 681.5L364.5 689L365 686L365.6 672.9L366.1 658.4L366.7 671.5L367.3 673L367.8 694.3L368.4 691.9L368.9 669.7L369.5 682.8L370.1 678.3L370.6 683.6L371.2 697.1L371.7 691L372.3 703L372.9 704L373.4 707.3L374 710.2L374.5 706.3L375.1 714.3L375.7 715.9L376.2 718.3L376.8 705.2L377.3 683.2L377.9 662.4L378.5 645.2L379 640.7L379.6 628.7L380.2 607L380.7 604L381.3 608L381.8 608.4L382.4 621.4L383 614.3L383.5 615.9L384.1 619L384.6 632.1L385.2 665.2L385.8 667.7L386.3 665.5L386.9 657.6L387.4 658.5L388 652L388.6 656.1L389.1 652.8L389.7 645.9L390.2 666.2L390.8 654.4L391.4 648.7L391.9 640.2L392.5 639.2L393 641.7L393.6 640.7L394.2 640.4L394.7 648.1L395.3 655.4L395.8 648.1L396.4 659.8L397 680.2L397.5 674.1L398.1 659.4L398.6 661.1L399.2 662.5L399.8 654.3L400.3 662.4L400.9 676.1L401.4 665L402 660.8L402.6 671.1L403.1 668.3L403.7 669.2L404.2 667.5L404.8 666.7L405.4 669.2L405.9 673.1L406.5 656.5L407 668.6L407.6 677.9L408.2 693.1L408.7 700L409.3 701.4L409.9 698.1L410.4 704L411 711.8L411.5 715.6L412.1 722.2L412.7 722.4L413.2 728.8L413.8 712L414.3 710.2L414.9 714.5L415.5 697.5L416 704.5L416.6 706.2L417.1 712.6L417.7 704.2L418.3 708.6L418.8 687.8L419.4 684.8L419.9 678L420.5 689.2L421.1 677.9L421.6 681L422.2 684.8L422.7 677.7L423.3 679.9L423.9 672.3L424.4 660.1L425 673.3L425.5 690.5L426.1 693.7L426.7 684.9L427.2 692.3L427.8 696L428.3 701.2L428.9 681.4L429.5 668.2L430 674L430.6 674L431.1 687L431.7 672.5L432.3 671.8L432.8 674.1L433.4 659.4L433.9 679L434.5 690.6L435.1 696.6L435.6 698.8L436.2 708L436.8 712.7L437.3 717L437.9 721.4L438.4 718.2L439 712.2L439.6 723.5L440.1 714.1L440.7 707.7L441.2 714.6L441.8 707L442.4 706.2L442.9 701L443.5 701.1L444 697.2L444.6 681.1L445.2 686.8L445.7 690.4L446.3 701.5L446.8 692.7L447.4 704.4L448 712.5L448.5 720.4L449.1 724.7L449.6 714.8L450.2 714.2L450.8 720.1L451.3 741.6L451.9 728L452.4 727.3L453 726.5L453.6 720.4L454.1 728.2L454.7 730.6L455.2 734.2L455.8 733L456.4 733L456.9 730.3L457.5 725.5L458 700.9L458.6 689.6L459.2 672.5L459.7 656.2L460.3 649.8L460.8 640.6L461.4 645.7L462 621.9L462.5 636.7L463.1 635.8L463.6 637.2L464.2 637.7L464.8 642.9L465.3 644.4L465.9 639.4L466.5 642.8L467 644L467.6 658.4L468.1 655.8L468.7 653.9L469.3 664.9L469.8 665.9L470.4 681.2L470.9 684.1L471.5 677.3L472.1 685.6L472.6 682.5L473.2 676.2L473.7 678.4L474.3 671.9L474.9 671.1L475.4 665.8L476 684.9L476.5 687L477.1 668.8L477.7 675.6L478.2 663.8L478.8 650.8L479.3 651.8L479.9 640.7L480.5 647L481 666.7L481.6 655.2L482.1 658.6L482.7 658.5L483.3 649.5L483.8 658.9L484.4 656.8L484.9 646.8L485.5 651.1L486.1 639.3L486.6 648.5L487.2 642.9L487.7 639.6L488.3 629.3L488.9 628.9L489.4 645.2L490 646.9L490.5 654.4L491.1 667L491.7 662.3L492.2 668.3L492.8 673.5L493.4 676.2L493.9 679.9L494.5 672.2L495 672.5L495.6 662.4L496.2 678.3L496.7 666.8L497.3 673.5L497.8 676.6L498.4 674.5L499 686.9L499.5 692.1L500.1 687.7L500.6 671L501.2 676.9L501.8 702.8L502.3 690.5L502.9 693.7L503.4 688.1L504 693.7L504.6 694.8L505.1 713L505.7 702.4L506.2 705.3L506.8 710.7L507.4 718.4L507.9 720.7L508.5 716.7L509 721.3L509.6 722.5L510.2 726L510.7 726.4L511.3 724.6L511.8 725.6L512.4 718.1L513 720.9L513.5 711.1L514.1 709.3L514.6 683L515.2 676.7L515.8 659.3L516.3 660.2L516.9 662.4L517.4 646.4L518 652.5L518.6 654.4L519.1 640.5L519.7 644.6L520.3 639.1L520.8 630.7L521.4 661.8L521.9 663.1L522.5 641.9L523.1 655.6L523.6 664L524.2 666.3L524.7 666.5L525.3 665.9L525.9 674.9L526.4 667.3L527 679.1L527.5 679.9L528.1 688.3L528.7 668.1L529.2 655.7L529.8 655.1L530.3 643.3L530.9 632L531.5 630.6L532 626.6L532.6 615.5L533.1 610.2L533.7 627.2L534.3 623.7L534.8 624.6L535.4 615.9L535.9 623.6L536.5 609.4L537.1 627.5L537.6 624.7L538.2 643.1L538.7 638.2L539.3 650.9L539.9 645.3L540.4 655.8L541 655.1L541.5 644.5L542.1 653.2L542.7 648.7L543.2 646.8L543.8 637.2L544.3 635.6L544.9 628.3L545.5 627.1L546 630.6L546.6 628.4L547.1 628L547.7 622.6L548.3 621.7L548.8 620.5L549.4 620.1L550 629.9L550.5 626.2L551.1 625.9L551.6 622.3L552.2 644.1L552.8 645.1L553.3 639.2L553.9 639.6L554.4 641.1L555 646.4L555.6 661.4L556.1 652.3L556.7 670.3L557.2 667.8L557.8 687.6L558.4 647.1L558.9 674.1L559.5 677.3L560 682.9L560.6 678.2L561.2 685.3L561.7 684.4L562.3 689L562.8 694L563.4 631.9L564 665L564.5 682.7L565.1 694.2L565.6 703.1L566.2 701.2L566.8 703.3L567.3 681.2L567.9 689.6L568.4 699.7L569 706L569.6 706.5L570.1 708.3L570.7 710L571.2 701L571.8 695.9L572.4 691.9L572.9 685.3L573.5 688.7L574 671.9L574.6 669.1L575.2 664.3L575.7 656.2L576.3 642.9L576.9 637.2L577.4 633.8L578 626.8L578.5 623L579.1 621.2L579.7 622.9L580.2 616.9L580.8 604.3L581.3 600.4L581.9 610.3L582.5 609.4L583 609.2L583.6 639.6L584.1 635.6L584.7 645.2L585.3 648L585.8 642.3L586.4 642.5L586.9 645L587.5 643.2L588.1 646.3L588.6 653.8L589.2 645.4L589.7 636.6L590.3 643.4L590.9 640.6L591.4 656.1L592 650.6L592.5 652.2L593.1 662L593.7 666.1L594.2 680.3L594.8 682.5L595.3 686.8L595.9 694.7L596.5 694.5L597 705.1L597.6 707.8L598.1 709.3L598.7 704L599.3 709.4L599.8 718.8L600.4 695.2L600.9 678.5L601.5 666L602.1 667.2L602.6 660.8L603.2 648.5L603.8 652.5L604.3 644.7L604.9 643.1L605.4 639L606 651.3L606.6 649.2L607.1 658.9L607.7 647.1L608.2 655.5L608.8 650.9L609.4 672.1L609.9 669.5L610.5 665.6L611 673L611.6 688.2L612.2 664.9L612.7 660.8L613.3 674.9L613.8 682.3L614.4 676L615 679L615.5 680.5L616.1 671.2L616.6 661.1L617.2 653.3L617.8 655.5L618.3 644.5L618.9 645.5L619.4 659.9L620 650.6L620.6 658.6L621.1 657.7L621.7 655.1L622.2 652.1L622.8 646.6L623.4 651.2L623.9 663.3L624.5 698L625 672.2L625.6 662.6L626.2 651.8L626.7 645.6L627.3 642.1L627.8 648.1L628.4 653.3L629 647L629.5 645.7L630.1 648.7L630.6 643.2L631.2 652.2L631.8 662.2L632.3 658.4L632.9 651.4L633.5 666.1L634 658.2L634.6 657L635.1 668.8L635.7 682.5L636.3 687.3L636.8 696.8L637.4 691.9L637.9 703.9L638.5 696.1L639.1 696.5L639.6 699.8L640.2 693.8L640.7 707.3L641.3 694.7L641.9 698.3L642.4 695.4L643 714L643.5 721.9L644.1 706.2L644.7 691.2L645.2 692.3L645.8 703.6L646.3 693.2L646.9 690L647.5 682.4L648 685.3L648.6 679L649.1 685.2L649.7 683.3L650.3 695.6L650.8 697.3L651.4 685.8L651.9 697.2L652.5 710.4L653.1 695.5L653.6 705.9L654.2 690.1L654.7 688.7L655.3 692.2L655.9 679.1L656.4 663.7L657 647.1L657.5 641.6L658.1 625.7L658.7 638.5L659.2 624.7L659.8 626L660.4 625.1L660.9 623.9L661.5 624.1L662 625.4L662.6 634L663.2 644.1L663.7 672.3L664.3 673.3L664.8 663.7L665.4 670.7L666 675.4L666.5 674.6L667.1 679.2L667.6 680.6L668.2 661.6L668.8 674L669.3 689.4L669.9 682.4L670.4 689.9L671 687.3L671.6 690.6L672.1 694.2L672.7 692.2L673.2 688.6L673.8 686.4L674.4 691.4L674.9 682.3L675.5 684.3L676 674.2L676.6 672.2L677.2 673L677.7 667.1L678.3 661.5L678.8 667.3L679.4 655.7L680 631.9L680.5 643.8L681.1 645.7L681.6 654.3L682.2 666.1L682.8 664.6L683.3 683.7L683.9 673L684.4 679.3L685 689.8L685.6 702.8L686.1 709.2L686.7 684.5L687.2 686.1L687.8 697.2L688.4 703.1L688.9 706.5L689.5 720.9L690.1 721.1L690.6 713.2L691.2 718.5L691.7 722.4L692.3 719.9L692.9 722.9L693.4 714.7L694 715.9L694.5 718L695.1 704L695.7 694.5L696.2 703.7L696.8 703.2L697.3 664.8L697.9 684.4L698.5 688.4L699 688.8L699.6 699.6L700.1 701.9L700.7 715.1L701.3 702.4L701.8 694.1L702.4 699.1L702.9 700.9L703.5 705L704.1 694.2L704.6 701.3L705.2 707.9L705.7 704.3L706.3 689.6L706.9 705.2L707.4 702.3L708 715L708.5 717L709.1 717L709.7 718.2L710.2 718.2L710.8 733.5L711.3 717.7L711.9 704.7L712.5 697.8L713 700.7L713.6 687.8L714.1 677.1L714.7 683.8L715.3 663L715.8 652.7L716.4 641.7L717 653.7L717.5 655.8L718.1 642.9L718.6 643.1L719.2 635.7L719.8 624.3L720.3 623.2L720.9 639.6L721.4 643.9L722 639.2L722.6 648.1L723.1 656.8L723.7 657.9L724.2 665L724.8 673.3L725.4 676.6L725.9 693.2L726.5 692.8L727 694.1L727.6 696.6L728.2 700.9L728.7 702L729.3 709.6L729.8 698.5L730.4 685.6L731 674.8L731.5 667.8L732.1 662.2L732.6 657.4L733.2 645.5L733.8 659.5L734.3 647.2L734.9 643L735.4 654.9L736 652.1L736.6 648.3L737.1 648L737.7 647.6L738.2 651.2L738.8 663.2L739.4 666.1L739.9 671.4L740.5 682.7L741 673.8L741.6 667.8L742.2 671.2L742.7 673.5L743.3 674.2L743.9 687.9L744.4 674.1L745 683L745.5 690.3L746.1 693.4L746.7 709.6L747.2 706.3L747.8 706.2L748.3 713.3L748.9 719.3L749.5 730.2L750 721.9L750.6 725.9L751.1 717.9L751.7 711.8L752.3 716.4L752.8 714.2L753.4 712.5L753.9 698.4L754.5 690L755.1 690.2L755.6 690.4L756.2 690.2L756.7 678.3L757.3 664.4L757.9 645.2L758.4 657.1L759 657.6L759.5 665.7L760.1 671.1L760.7 663.1L761.2 661.2L761.8 676.8L762.3 683.5L762.9 679.3L763.5 684.3L764 681L764.6 694.9L765.1 697.3L765.7 701.8L766.3 671L766.8 677.8L767.4 667.6L767.9 666.2L768.5 654.7L769.1 667.4L769.6 665.1L770.2 653.9L770.7 656.4L771.3 677.1L771.9 659.8L772.4 666.3L773 651.9L773.6 642L774.1 675L774.7 661.9L775.2 657.1L775.8 657.3L776.4 652.2L776.9 644.8L777.5 662.1L778 659L778.6 647L779.2 655.3L779.7 658.3L780.3 663.6L780.8 675.7L781.4 670.9L782 685.4L782.5 676.4L783.1 665L783.6 670L784.2 665.1L784.8 664.3L785.3 665.3L785.9 662.2L786.4 642.2L787 648.1L787.6 657.1L788.1 660.6L788.7 672L789.2 680.1L789.8 683.2L790.4 698.8L790.9 686L791.5 679.5L792 688L792.6 693.8L793.2 697.4L793.7 701L794.3 701.5L794.8 712.7L795.4 708.8L796 708.2L796.5 710.2L797.1 702.7L797.6 697.2L798.2 695.7L798.8 700.9L799.3 709.7L799.9 689.2L800.5 693L801 694.4L801.6 685L802.1 697.4L802.7 701.2L803.3 687.5L803.8 687.7L804.4 689.2L804.9 671.7L805.5 672.2L806.1 678.3L806.6 664.5L807.2 672.1L807.7 672.7L808.3 670.7L808.9 673.8L809.4 664.7L810 656.6L810.5 660.9L811.1 675.3L811.7 672.6L812.2 665.7L812.8 652.9L813.3 660.4L813.9 672.2L814.5 669.5L815 677.9L815.6 679.3L816.1 673.6L816.7 660.2L817.3 664.5L817.8 659.4L818.4 656.9L818.9 671.8L819.5 665.2L820.1 634.7L820.6 626L821.2 620.5L821.7 622.2L822.3 614.3L822.9 630.9L823.4 620.1L824 610.6L824.5 616.8L825.1 615.6L825.7 610.9L826.2 635.5L826.8 631.8L827.3 628.9L827.9 627.4L828.5 622.1L829 622.1L829.6 619.5L830.2 617.6L830.7 631.9L831.3 630.3L831.8 628.1L832.4 623.8L833 632.1L833.5 638.8L834.1 636.9L834.6 647.2L835.2 635.2L835.8 646.3L836.3 661.2L836.9 660.6L837.4 657.9L838 669.5L838.6 662.8L839.1 659.4L839.7 658.7L840.2 650.5L840.8 643.6L841.4 640.6L841.9 640.4L842.5 651.9L843 659L843.6 655.7L844.2 654.9L844.7 646.1L845.3 684.6L845.8 673.2L846.4 673L847 669.1L847.5 653.8L848.1 675.4L848.6 655.7L849.2 662.4L849.8 654.8L850.3 659.8L850.9 651.5L851.4 641.5L852 641.8L852.6 641.1L853.1 647.8L853.7 660.8L854.2 668.5L854.8 679.3L855.4 685.7L855.9 679.6L856.5 676.2L857.1 682.1L857.6 692.9L858.2 692.1L858.7 692.8L859.3 699.9L859.9 694.7L860.4 682.9L861 683.4L861.5 691.5L862.1 693.6L862.7 693.4L863.2 700.1L863.8 683.4L864.3 687.9L864.9 690.8L865.5 694.5L866 696.8L866.6 708.1L867.1 698.7L867.7 705.4L868.3 705.7L868.8 693.7L869.4 702.3L869.9 689.2L870.5 671.4L871.1 672.7L871.6 674.3L872.2 644.2L872.7 644.4L873.3 644.8L873.9 641.7L874.4 628.9L875 627.4L875.5 625.7L876.1 626.3L876.7 624L877.2 637.6L877.8 638.3L878.3 627.3L878.9 624.4L879.5 641.2L880 667.4L880.6 643.7L881.1 641.5L881.7 632.5L882.3 624.9L882.8 655.9L883.4 660.7L884 644.6L884.5 643.2L885.1 640.6L885.6 643.6L886.2 645.5L886.8 646.8L887.3 648.1L887.9 662.6L888.4 647.3L889 644.1L889.6 637.8L890.1 655.2L890.7 655.6L891.2 653.5L891.8 664.9L892.4 673.2L892.9 684.8L893.5 677L894 672.6L894.6 677L895.2 668.3L895.7 681.2L896.3 678.6L896.8 671.2L897.4 671.7L898 663.9L898.5 660.2L899.1 667L899.6 664L900.2 681.6L900.8 664.1L901.3 636.5L901.9 650.8L902.4 652.8L903 636.5L903.6 659.5L904.1 663.2L904.7 669.8L905.2 670.9L905.8 674.1L906.4 661.1L906.9 667.6L907.5 679.8L908 687.1L908.6 695.2L909.2 698.8L909.7 697.9L910.3 693.1L910.8 698.3L911.4 704.6L912 696.8L912.5 687L913.1 676.3L913.7 689.6L914.2 692.9L914.8 681L915.3 693.5L915.9 695.4L916.5 698.8L917 701.1L917.6 713.8L918.1 707.2L918.7 688.5L919.3 690.8L919.8 683.7L920.4 683L920.9 679.1L921.5 683.3L922.1 678.1L922.6 657.7L923.2 668.7L923.7 661.5L924.3 672.1L924.9 653.7L925.4 673.5L926 680.7L926.5 694.1L927.1 688.6L927.7 692.9L928.2 702.3L928.8 707.4L929.3 694.2L929.9 702.5L930.5 703.7L931 708.2L931.6 706.5L932.1 699.2L932.7 701.3L933.3 709.8L933.8 697.9L934.4 701.6L934.9 703.6L935.5 705.9L936.1 702.1L936.6 699.9L937.2 723L937.7 707.6L938.3 694.9L938.9 704.8L939.4 709.7L940 720.6L940.6 717.4L941.1 713.9L941.7 720.3L942.2 717L942.8 720.7L943.4 725.7L943.9 718.1L944.5 726.1L945 729.2L945.6 730.9L946.2 724.4L946.7 725.2L947.3 741.3L947.8 743.3L948.4 730.2L949 726.5L949.5 725.8L950.1 690.3L950.6 703.8L951.2 697.6L951.8 706.1L952.3 710.5L952.9 715.4L953.4 714.2L954 714.5L954.6 702.1L955.1 710.3L955.7 707.3L956.2 704.8L956.8 701.7L957.4 713.4L957.9 699.4L958.5 705.5L959 708.3L959.6 702.7L960.2 707.8L960.7 710.6L961.3 711.9L961.8 712.5L962.4 710.1L963 716.7L963.5 720.4L964.1 697.7L964.6 706L965.2 708.1L965.8 712.2L966.3 719.9L966.9 713.1L967.4 716.6L968 718L968.6 719.5L969.1 720.1L969.7 721.5L970.3 719.1L970.8 721.7L971.4 724.5L971.9 702.7L972.5 692.4L973.1 682.5L973.6 675.5L974.2 673.1L974.7 670.2L975.3 661.3L975.9 658.1L976.4 662L977 661.3L977.5 669.9L978.1 668L978.7 672.6L979.2 683.6L979.8 666.4L980.3 674.3L980.9 669.4L981.5 666.7L982 668.5L982.6 668.5L983.1 683.8L983.7 680.7L984.3 686.4L984.8 686.4L985.4 688.7L985.9 673L986.5 667.7L987.1 657.6L987.6 657.4L988.2 664.6L988.7 673.2L989.3 664.2L989.9 653.2L990.4 647.3L991 649.8L991.5 656.5L992.1 655.1L992.7 666.5L993.2 662.8L993.8 657.9L994.3 654.4L994.9 671.4L995.5 667.3L996 665.1L996.6 676.4L997.2 679.3L997.7 683.6L998.3 677.7L998.8 663.5L999.4 679.1L1000 671.6L1000.5 663.6L1001.1 652.9L1001.6 661.4L1002.2 677.2L1002.8 678.5L1003.3 681L1003.9 695.6L1004.4 669L1005 666.3L1005.6 670.1L1006.1 659.9L1006.7 672L1007.2 651.5L1007.8 666.4L1008.4 669.4L1008.9 678.3L1009.5 661.3L1010 669.8L1010.6 679.2L1011.2 674.9L1011.7 668.6L1012.3 674.2L1012.8 688.5L1013.4 688.4L1014 686.8L1014.5 694.2L1015.1 690.7L1015.6 680.6L1016.2 671.1L1016.8 677.8L1017.3 675.8L1017.9 672.1L1018.4 656.6L1019 675.3L1019.6 646.7L1020.1 640.8L1020.7 644.3L1021.2 635L1021.8 645.8L1022.4 636.6L1022.9 636.5L1023.5 643.1L1024 637.1L1024.6 626.2L1025.2 633.9L1025.7 628.4L1026.3 621.7L1026.9 619.1L1027.4 613.5L1028 622.4L1028.5 617.2L1029.1 614.2L1029.7 615.2L1030.2 612.9L1030.8 614.3L1031.3 615.3L1031.9 615.6L1032.5 612.9L1033 628.9L1033.6 634.1L1034.1 689L1034.7 663.3L1035.3 648.2L1035.8 643.9L1036.4 637.4L1036.9 642.8L1037.5 646.1L1038.1 645.9L1038.6 647.1L1039.2 656.7L1039.7 654.4L1040.3 644.5L1040.9 650L1041.4 662.1L1042 672.8L1042.5 673.8L1043.1 670.8L1043.7 657.4L1044.2 673.9L1044.8 677.1L1045.3 686L1045.9 687.3L1046.5 695.7L1047 701.4L1047.6 685.3L1048.1 687.8L1048.7 691L1049.3 686.3L1049.8 691.6L1050.4 683.6L1050.9 679.2L1051.5 678.2L1052.1 688.3L1052.6 693.8L1053.2 691.2L1053.8 685.3L1054.3 682.5L1054.9 682.1L1055.4 686.1L1056 692.5L1056.6 692.2L1057.1 666.6L1057.7 679.5L1058.2 669.3L1058.8 685.4L1059.4 694.4L1059.9 714.6L1060.5 699.7L1061 705.9L1061.6 716.1L1062.2 719.6L1062.7 727.7L1063.3 732.3L1063.8 735L1064.4 738L1065 738.7L1065.5 736.7L1066.1 733.8L1066.6 732.1L1067.2 727L1067.8 728.5L1068.3 727.3L1068.9 726.3L1069.4 724.9L1070 724.1L1070.6 723.4L1071.1 723.8L1071.7 718.6L1072.2 718.9L1072.8 713L1073.4 705.7L1073.9 694.5L1074.5 695.4L1075 682.3L1075.6 671.9L1076.2 664.4L1076.7 663.4L1077.3 647.2L1077.8 644.8L1078.4 627.3L1079 618.1L1079.5 616.3L1080.1 621.1L1080.7 612.1L1081.2 613.3L1081.8 612.5L1082.3 622.4L1082.9 622.5L1083.5 641.3L1084 641.8L1084.6 652.9L1085.1 682.6L1085.7 689.3L1086.3 669.9L1086.8 672.4L1087.4 700.1L1087.9 699.7L1088.5 702.6L1089.1 697.8L1089.6 704.2L1090.2 708L1090.7 713.5L1091.3 716.1L1091.9 702.8L1092.4 705.6L1093 707.3L1093.5 705.7L1094.1 715.6L1094.7 719.8L1095.2 724L1095.8 724.7L1096.3 732.4L1096.9 735.4L1097.5 737.9L1098 738.5L1098.6 741.3L1099.1 740.8L1099.7 740.7L1100.3 731.7L1100.8 724.6L1101.4 725.4L1101.9 707.4L1102.5 686.6L1103.1 700.4L1103.6 697.4L1104.2 696.9L1104.7 699.3L1105.3 699.2L1105.9 697.9L1106.4 685.7L1107 689.7L1107.5 689.4L1108.1 703.6L1108.7 681.8L1109.2 679.1L1109.8 679.8L1110.4 675.4L1110.9 686.6L1111.5 683L1112 688.9L1112.6 693.4L1113.2 701.6L1113.7 688L1114.3 694.7L1114.8 678L1115.4 681L1116 689.2L1116.5 697.4L1117.1 691.9L1117.6 696.1L1118.2 700.3L1118.8 682L1119.3 689L1119.9 692.9L1120.4 695.7L1121 690L1121.6 693.5L1122.1 697L1122.7 704L1123.2 689.3L1123.8 679.4L1124.4 690.4L1124.9 697L1125.5 683.6L1126 677.6L1126.6 678.3L1127.2 684.5L1127.7 688.9L1128.3 696L1128.8 683L1129.4 686.7L1130 691L1130.5 693L1131.1 692.5L1131.6 696.4L1132.2 683.6L1132.8 680.8L1133.3 678L1133.9 680.4L1134.4 660.8L1135 649.9L1135.6 637.3L1136.1 637.5L1136.7 619.2L1137.3 618.1L1137.8 649.4L1138.4 643.3L1138.9 638.1L1139.5 649.7L1140.1 634.8L1140.6 647.3L1141.2 657.4L1141.7 652.9L1142.3 661.1L1142.9 664L1143.4 660.6L1144 661.4L1144.5 655.9L1145.1 649.5L1145.7 658.8L1146.2 666.1L1146.8 662.6L1147.3 666.3L1147.9 682.1L1148.5 668.1L1149 670.5L1149.6 685.1L1150.1 698.3L1150.7 706.4L1151.3 720.3L1151.8 723.2L1152.4 721.9L1152.9 721.2L1153.5 722.5L1154.1 721.3L1154.6 718.4L1155.2 717.7L1155.7 722.5L1156.3 720L1156.9 723.6L1157.4 696.4L1158 680.6L1158.5 681.9L1159.1 687.6L1159.7 674.2L1160.2 667.2L1160.8 662.6L1161.3 667.4L1161.9 672.2L1162.5 672.7L1163 671.9L1163.6 669.9L1164.2 666.5L1164.7 674.8L1165.3 668.5L1165.8 682.8L1166.4 683.3L1167 688.5L1167.5 675L1168.1 683.2L1168.6 700L1169.2 693.5L1169.8 697L1170.3 676.8L1170.9 672.7L1171.4 669.7L1172 671.3L1172.6 669.6L1173.1 657.6L1173.7 647.5L1174.2 638.8L1174.8 646.1L1175.4 649.8L1175.9 643.9L1176.5 637.1L1177 629.5L1177.6 660.9L1178.2 653.7L1178.7 650.6L1179.3 651.2L1179.8 653L1180.4 652.9L1181 644.8L1181.5 650.5L1182.1 650L1182.6 635.8L1183.2 621.6L1183.8 632.3L1184.3 625.4L1184.9 630.3L1185.4 639.5L1186 647.7L1186.6 661.1L1187.1 672.5L1187.7 670.2L1188.2 669.4L1188.8 681.2L1189.4 684.9L1189.9 682.1L1190.5 696.7L1191 696.4L1191.6 700.7L1192.2 699.6L1192.7 707.6L1193.3 689.1L1193.9 683.1L1194.4 684.4L1195 680.5L1195.5 678.5L1196.1 662.7L1196.7 664.7L1197.2 653.5L1197.8 655.2L1198.3 645.7L1198.9 642.1L1199.5 643.9L1200 641.9L1200.6 653.1L1201.1 647L1201.7 646.7L1202.3 649.6L1202.8 668.4L1203.4 665.5L1203.9 665.1L1204.5 681.6L1205.1 686L1205.6 681.8L1206.2 688L1206.7 684.5L1207.3 695.1L1207.9 701.2L1208.4 713.9L1209 714.5L1209.5 711.2L1210.1 691.7L1210.7 707.5L1211.2 704.8L1211.8 674.4L1212.3 675.6L1212.9 667.9L1213.5 666.2L1214 672.5L1214.6 648.1L1215.1 635.8L1215.7 652L1216.3 660.3L1216.8 662.2L1217.4 652L1217.9 661.9L1218.5 651.2L1219.1 655.3L1219.6 645.8L1220.2 642L1220.8 645.3L1221.3 652.9L1221.9 658.1L1222.4 647.7L1223 637.7L1223.6 631.4L1224.1 623L1224.7 618.1L1225.2 634.9L1225.8 626.6L1226.4 623.4L1226.9 625.4L1227.5 654L1228 669.2L1228.6 667L1229.2 677.2L1229.7 677.3L1230.3 684.5L1230.8 693.7L1231.4 694.8L1232 682.6L1232.5 681.6L1233.1 675.8L1233.6 681.1L1234.2 677.3" stroke="#7e57c2" stroke-width="1" fill="none" stroke-linejoin="round"/>
<path d="M10.3 650.1L10.8 649.9L11.4 649.7L12 649.4L12.5 648.9L13.1 648.3L13.6 647.7L14.2 646.9L14.8 646.2L15.3 645.4L15.9 644.6L16.5 643.9L17 643.3L17.6 642.9L18.1 642.6L18.7 642.6L19.3 642.8L19.8 643.1L20.4 643.6L20.9 644.1L21.5 644.7L22.1 645.3L22.6 645.9L23.2 646.4L23.7 646.9L24.3 647.4L24.9 647.8L25.4 648L26 648.1L26.5 647.9L27.1 647.7L27.7 647.4L28.2 647.3L28.8 647.4L29.3 648L29.9 649.1L30.5 650.8L31 652.9L31.6 655.4L32.1 658.3L32.7 661.4L33.3 664.8L33.8 668.4L34.4 672.2L34.9 675.9L35.5 679.3L36.1 682.3L36.6 684.5L37.2 685.7L37.7 685.9L38.3 685.3L38.9 683.9L39.4 682L40 680L40.5 678L41.1 676.1L41.7 674.3L42.2 672.8L42.8 671.5L43.4 670.6L43.9 670L44.5 669.7L45 669.8L45.6 670.2L46.2 670.8L46.7 671.5L47.3 672.3L47.8 673.1L48.4 673.8L49 674.4L49.5 675.1L50.1 675.7L50.6 676.3L51.2 676.8L51.8 677.4L52.3 678L52.9 678.6L53.4 679.2L54 679.8L54.6 680.4L55.1 681L55.7 681.4L56.2 681.6L56.8 681.4L57.4 680.8L57.9 679.7L58.5 678.2L59 676.2L59.6 674L60.2 671.5L60.7 668.9L61.3 666L61.8 662.9L62.4 659.6L63 656L63.5 652L64.1 647.8L64.6 643.4L65.2 638.7L65.8 633.8L66.3 628.7L66.9 623.5L67.4 618.3L68 613.4L68.6 608.9L69.1 604.9L69.7 601.6L70.2 598.9L70.8 596.8L71.4 595.3L71.9 594.3L72.5 593.8L73.1 593.8L73.6 594.2L74.2 595.1L74.7 596.1L75.3 597.4L75.9 598.7L76.4 600L77 601.3L77.5 602.6L78.1 603.9L78.7 605.4L79.2 607.1L79.8 609L80.3 611.1L80.9 613.4L81.5 615.9L82 618.4L82.6 621L83.1 623.7L83.7 626.3L84.3 629L84.8 631.8L85.4 634.5L85.9 637.3L86.5 640L87.1 642.7L87.6 645.3L88.2 647.7L88.7 650L89.3 652L89.9 653.9L90.4 655.6L91 657.1L91.5 658.6L92.1 660L92.7 661.2L93.2 662.3L93.8 663.1L94.3 663.6L94.9 663.7L95.5 663.5L96 663.2L96.6 662.7L97.1 662.3L97.7 661.8L98.3 661.2L98.8 660.4L99.4 659.3L100 657.7L100.5 655.6L101.1 653.1L101.6 650.2L102.2 647.1L102.8 643.9L103.3 640.7L103.9 637.6L104.4 634.5L105 631.5L105.6 628.7L106.1 626.3L106.7 624.3L107.2 623L107.8 622.3L108.4 622.4L108.9 623L109.5 624L110 625L110.6 626L111.2 626.9L111.7 627.7L112.3 628.5L112.8 629.6L113.4 630.9L114 632.5L114.5 634.4L115.1 636.5L115.6 638.9L116.2 641.6L116.8 644.4L117.3 647.4L117.9 650.5L118.4 653.7L119 656.9L119.6 660L120.1 663L120.7 665.7L121.2 667.9L121.8 669.5L122.4 670.1L122.9 669.9L123.5 668.7L124 666.7L124.6 664.2L125.2 661.3L125.7 658.4L126.3 655.5L126.8 652.8L127.4 650.5L128 648.5L128.5 646.9L129.1 645.8L129.7 645.1L130.2 644.8L130.8 644.8L131.3 645.2L131.9 645.9L132.5 646.8L133 647.8L133.6 648.7L134.1 649.4L134.7 649.6L135.3 649.3L135.8 648.3L136.4 646.8L136.9 644.8L137.5 642.4L138.1 639.6L138.6 636.7L139.2 633.8L139.7 630.9L140.3 628.2L140.9 625.7L141.4 623.5L142 621.7L142.5 620.2L143.1 619.2L143.7 618.6L144.2 618.5L144.8 618.8L145.3 619.5L145.9 620.5L146.5 621.8L147 623.2L147.6 624.8L148.1 626.4L148.7 628.2L149.3 630L149.8 631.8L150.4 633.5L150.9 635.3L151.5 636.9L152.1 638.5L152.6 639.9L153.2 641.3L153.7 642.6L154.3 643.8L154.9 644.9L155.4 645.9L156 646.6L156.6 647.1L157.1 647.3L157.7 647.3L158.2 647.2L158.8 647L159.4 646.8L159.9 646.6L160.5 646.3L161 646.1L161.6 645.9L162.2 645.8L162.7 645.7L163.3 645.7L163.8 645.8L164.4 646L165 646.4L165.5 647.1L166.1 648L166.6 649.2L167.2 650.5L167.8 651.8L168.3 653L168.9 653.8L169.4 654.1L170 653.9L170.6 653.2L171.1 652L171.7 650.5L172.2 648.8L172.8 647.1L173.4 645.4L173.9 643.9L174.5 642.5L175 641.4L175.6 640.7L176.2 640.5L176.7 640.6L177.3 641.1L177.8 641.9L178.4 642.9L179 643.9L179.5 645.1L180.1 646.3L180.6 647.5L181.2 648.7L181.8 649.9L182.3 651.2L182.9 652.4L183.5 653.6L184 654.7L184.6 655.6L185.1 656.3L185.7 656.6L186.3 656.4L186.8 655.9L187.4 654.9L187.9 653.6L188.5 652.2L189.1 650.6L189.6 648.9L190.2 647.3L190.7 645.7L191.3 644.2L191.9 642.9L192.4 641.9L193 641.3L193.5 641.1L194.1 641.3L194.7 641.9L195.2 642.9L195.8 644.2L196.3 645.7L196.9 647.5L197.5 649.3L198 651.1L198.6 652.5L199.1 653.5L199.7 653.9L200.3 653.8L200.8 653L201.4 651.9L201.9 650.5L202.5 648.8L203.1 646.9L203.6 644.8L204.2 642.5L204.7 640.1L205.3 637.7L205.9 635.2L206.4 632.8L207 630.5L207.5 628.4L208.1 626.6L208.7 625L209.2 623.7L209.8 622.5L210.3 621.6L210.9 620.7L211.5 620L212 619.4L212.6 618.9L213.2 618.5L213.7 618.3L214.3 618.2L214.8 618.3L215.4 618.6L216 619.1L216.5 619.9L217.1 620.9L217.6 622.2L218.2 623.8L218.8 625.6L219.3 627.6L219.9 629.9L220.4 632.5L221 635.3L221.6 638.4L222.1 641.6L222.7 644.9L223.2 648.1L223.8 651.2L224.4 654.2L224.9 657L225.5 659.7L226 662.2L226.6 664.6L227.2 666.7L227.7 668.5L228.3 669.9L228.8 670.9L229.4 671.6L230 672.1L230.5 672.4L231.1 672.6L231.6 672.8L232.2 673L232.8 673.4L233.3 674L233.9 674.7L234.4 675.7L235 676.8L235.6 678.1L236.1 679.4L236.7 680.8L237.2 682.1L237.8 683.5L238.4 684.8L238.9 686L239.5 687.2L240.1 688.4L240.6 689.6L241.2 690.6L241.7 691.5L242.3 692.1L242.9 692.5L243.4 692.5L244 692.2L244.5 691.6L245.1 690.8L245.7 689.9L246.2 688.9L246.8 687.9L247.3 686.9L247.9 685.8L248.5 684.7L249 683.6L249.6 682.5L250.1 681.4L250.7 680.3L251.3 679.2L251.8 678L252.4 676.9L252.9 675.7L253.5 674.4L254.1 673L254.6 671.5L255.2 669.8L255.7 668L256.3 665.9L256.9 663.7L257.4 661.2L258 658.7L258.5 656.3L259.1 654.3L259.7 653L260.2 652.4L260.8 652.8L261.3 653.9L261.9 655.8L262.5 658.4L263 661.5L263.6 665.1L264.1 668.9L264.7 673L265.3 677L265.8 681L266.4 684.8L266.9 688.3L267.5 691.3L268.1 693.6L268.6 695.2L269.2 695.8L269.8 695.4L270.3 694.4L270.9 692.7L271.4 690.7L272 688.6L272.6 686.4L273.1 684.3L273.7 682.3L274.2 680.4L274.8 678.7L275.4 677.1L275.9 675.7L276.5 674.5L277 673.7L277.6 673.1L278.2 672.8L278.7 672.7L279.3 672.7L279.8 672.8L280.4 672.9L281 673.1L281.5 673.4L282.1 673.8L282.6 674.2L283.2 674.7L283.8 675.3L284.3 675.8L284.9 676.4L285.4 677L286 677.7L286.6 678.4L287.1 679.3L287.7 680.2L288.2 681.2L288.8 682.2L289.4 683.3L289.9 684.4L290.5 685.5L291 686.7L291.6 687.8L292.2 689L292.7 690.2L293.3 691.4L293.8 692.5L294.4 693.6L295 694.6L295.5 695.4L296.1 696L296.7 696.3L297.2 696.3L297.8 696.1L298.3 695.7L298.9 695L299.5 694.1L300 692.9L300.6 691.5L301.1 689.8L301.7 687.8L302.3 685.6L302.8 683.2L303.4 680.5L303.9 677.7L304.5 674.7L305.1 671.6L305.6 668.5L306.2 665.4L306.7 662.4L307.3 659.5L307.9 656.6L308.4 654L309 651.4L309.5 649.1L310.1 647L310.7 645.1L311.2 643.5L311.8 642.2L312.3 641L312.9 639.9L313.5 639L314 638.1L314.6 637.2L315.1 636.4L315.7 635.6L316.3 634.9L316.8 634.2L317.4 633.6L317.9 632.9L318.5 632.4L319.1 631.9L319.6 631.5L320.2 631.3L320.7 631.2L321.3 631.4L321.9 631.8L322.4 632.4L323 633L323.6 633.8L324.1 634.6L324.7 635.4L325.2 636.4L325.8 637.5L326.4 638.6L326.9 639.8L327.5 641L328 642.1L328.6 643.2L329.2 644.1L329.7 644.8L330.3 645.2L330.8 645.3L331.4 645L332 644.4L332.5 643.5L333.1 642.2L333.6 640.7L334.2 638.9L334.8 636.9L335.3 634.9L335.9 633.1L336.4 631.6L337 630.5L337.6 630.1L338.1 630.1L338.7 630.7L339.2 631.8L339.8 633.2L340.4 634.9L340.9 637L341.5 639.3L342 641.7L342.6 644.3L343.2 647L343.7 649.8L344.3 652.7L344.8 655.6L345.4 658.5L346 661.5L346.5 664.4L347.1 667.3L347.6 670.1L348.2 672.5L348.8 674.4L349.3 675.7L349.9 676.1L350.4 675.8L351 674.9L351.6 673.3L352.1 671.5L352.7 669.4L353.3 667.3L353.8 665.2L354.4 663.2L354.9 661.4L355.5 659.9L356.1 658.9L356.6 658.5L357.2 658.6L357.7 659.4L358.3 660.7L358.9 662.3L359.4 664.1L360 666L360.5 667.9L361.1 669.7L361.7 671.4L362.2 673.1L362.8 674.6L363.3 676L363.9 677.1L364.5 677.9L365 678.6L365.6 679L366.1 679.3L366.7 679.5L367.3 679.6L367.8 679.8L368.4 680L368.9 680.5L369.5 681.3L370.1 682.6L370.6 684.3L371.2 686.3L371.7 688.5L372.3 690.5L372.9 692.2L373.4 693.4L374 693.9L374.5 693.9L375.1 693.4L375.7 692.6L376.2 691.3L376.8 689.6L377.3 687.3L377.9 684.3L378.5 680.5L379 676.2L379.6 671.5L380.2 666.7L380.7 662.1L381.3 657.8L381.8 654L382.4 650.6L383 647.6L383.5 645.1L384.1 643.2L384.6 641.8L385.2 641L385.8 641L386.3 641.4L386.9 642.2L387.4 643.3L388 644.4L388.6 645.5L389.1 646.4L389.7 647.3L390.2 648L390.8 648.6L391.4 649.1L391.9 649.7L392.5 650.2L393 650.7L393.6 651.3L394.2 651.9L394.7 652.6L395.3 653.3L395.8 654.1L396.4 654.9L397 655.8L397.5 656.8L398.1 657.8L398.6 658.8L399.2 659.9L399.8 660.9L400.3 661.8L400.9 662.6L401.4 663.2L402 663.4L402.6 663.3L403.1 662.9L403.7 662.3L404.2 661.5L404.8 660.9L405.4 660.4L405.9 660.4L406.5 660.8L407 661.7L407.6 663.1L408.2 664.8L408.7 666.9L409.3 669.4L409.9 672.2L410.4 675.4L411 679.1L411.5 683L412.1 687.1L412.7 691.1L413.2 695L413.8 698.4L414.3 701.2L414.9 703.3L415.5 704.7L416 705.3L416.6 705.5L417.1 705.4L417.7 705.3L418.3 705.1L418.8 705L419.4 704.9L419.9 704.7L420.5 704.3L421.1 703.7L421.6 702.8L422.2 701.5L422.7 700.1L423.3 698.5L423.9 696.8L424.4 695.1L425 693.4L425.5 691.7L426.1 690L426.7 688.3L427.2 686.7L427.8 685L428.3 683.4L428.9 681.8L429.5 680.3L430 678.9L430.6 677.7L431.1 676.8L431.7 676.4L432.3 676.4L432.8 676.9L433.4 677.9L433.9 679.2L434.5 680.8L435.1 682.6L435.6 684.5L436.2 686.6L436.8 688.8L437.3 691.2L437.9 693.6L438.4 696L439 698.3L439.6 700.5L440.1 702.3L440.7 703.8L441.2 704.8L441.8 705.3L442.4 705.3L442.9 705L443.5 704.4L444 703.7L444.6 703L445.2 702.5L445.7 702.2L446.3 702.2L446.8 702.7L447.4 703.6L448 704.8L448.5 706.3L449.1 707.9L449.6 709.5L450.2 711.2L450.8 712.7L451.3 714.1L451.9 715.4L452.4 716.5L453 717.5L453.6 718.3L454.1 718.8L454.7 718.7L455.2 718.1L455.8 716.9L456.4 715.1L456.9 712.7L457.5 710.1L458 707.3L458.6 704.3L459.2 701.2L459.7 698.1L460.3 694.9L460.8 691.7L461.4 688.4L462 685.2L462.5 681.9L463.1 678.8L463.6 675.9L464.2 673.2L464.8 670.9L465.3 668.9L465.9 667.2L466.5 665.7L467 664.4L467.6 663.3L468.1 662.3L468.7 661.4L469.3 660.8L469.8 660.4L470.4 660.4L470.9 660.7L471.5 661.3L472.1 662.1L472.6 663.1L473.2 664.1L473.7 665.2L474.3 666.3L474.9 667.4L475.4 668.5L476 669.4L476.5 670.2L477.1 670.8L477.7 671L478.2 670.8L478.8 670.2L479.3 669.2L479.9 668L480.5 666.6L481 665.1L481.6 663.5L482.1 661.9L482.7 660.3L483.3 658.6L483.8 657L484.4 655.3L484.9 653.7L485.5 652.2L486.1 650.8L486.6 649.7L487.2 648.9L487.7 648.4L488.3 648.3L488.9 648.5L489.4 648.9L490 649.5L490.5 650.1L491.1 651L491.7 651.9L492.2 653L492.8 654.2L493.4 655.6L493.9 657L494.5 658.6L495 660.1L495.6 661.7L496.2 663.2L496.7 664.7L497.3 666.2L497.8 667.5L498.4 668.8L499 670L499.5 671.2L500.1 672.4L500.6 673.5L501.2 674.7L501.8 675.8L502.3 677.1L502.9 678.4L503.4 679.8L504 681.3L504.6 683L505.1 684.8L505.7 686.7L506.2 688.8L506.8 691L507.4 693.4L507.9 695.9L508.5 698.5L509 701.3L509.6 704L510.2 706.6L510.7 708.7L511.3 710.3L511.8 711.2L512.4 711.3L513 710.7L513.5 709.4L514.1 707.6L514.6 705.3L515.2 702.6L515.8 699.6L516.3 696.3L516.9 692.9L517.4 689.4L518 685.9L518.6 682.7L519.1 679.7L519.7 677.1L520.3 674.9L520.8 673L521.4 671.3L521.9 669.9L522.5 668.6L523.1 667.5L523.6 666.5L524.2 665.7L524.7 665.1L525.3 664.7L525.9 664.5L526.4 664.3L527 664.1L527.5 663.7L528.1 663.2L528.7 662.3L529.2 661.1L529.8 659.5L530.3 657.6L530.9 655.4L531.5 653.1L532 650.7L532.6 648.2L533.1 645.7L533.7 643.1L534.3 640.6L534.8 638.1L535.4 635.7L535.9 633.5L536.5 631.8L537.1 630.6L537.6 630.1L538.2 630.3L538.7 631.2L539.3 632.6L539.9 634.3L540.4 636.1L541 637.9L541.5 639.4L542.1 640.8L542.7 641.9L543.2 642.7L543.8 643.2L544.3 643.3L544.9 643.1L545.5 642.6L546 641.8L546.6 640.8L547.1 639.7L547.7 638.5L548.3 637.4L548.8 636.4L549.4 635.6L550 635.1L550.5 634.8L551.1 634.9L551.6 635.2L552.2 635.6L552.8 636.3L553.3 637L553.9 637.8L554.4 638.7L555 639.7L555.6 640.8L556.1 641.9L556.7 643.1L557.2 644.4L557.8 646L558.4 647.8L558.9 649.8L559.5 652.2L560 654.9L560.6 657.8L561.2 660.8L561.7 663.8L562.3 666.9L562.8 669.8L563.4 672.7L564 675.4L564.5 678.1L565.1 680.6L565.6 683.1L566.2 685.4L566.8 687.6L567.3 689.6L567.9 691.4L568.4 692.8L569 694L569.6 694.7L570.1 695.2L570.7 695.2L571.2 694.9L571.8 694.1L572.4 692.9L572.9 691.3L573.5 689.2L574 686.6L574.6 683.4L575.2 679.8L575.7 675.7L576.3 671.3L576.9 666.8L577.4 662.2L578 657.7L578.5 653.3L579.1 649.2L579.7 645.4L580.2 641.9L580.8 638.7L581.3 635.6L581.9 632.8L582.5 630.4L583 628.3L583.6 626.9L584.1 626.1L584.7 625.9L585.3 626.3L585.8 627L586.4 628.1L586.9 629.3L587.5 630.6L588.1 632.1L588.6 633.5L589.2 635.1L589.7 636.6L590.3 638.3L590.9 640L591.4 641.8L592 643.7L592.5 645.8L593.1 648.1L593.7 650.7L594.2 653.6L594.8 656.6L595.3 659.8L595.9 663.1L596.5 666.4L597 669.7L597.6 673L598.1 676.3L598.7 679.4L599.3 682.3L599.8 684.6L600.4 686.2L600.9 686.9L601.5 686.5L602.1 685.2L602.6 683L603.2 680.4L603.8 677.6L604.3 674.9L604.9 672.6L605.4 670.6L606 669L606.6 667.8L607.1 666.8L607.7 666.1L608.2 665.4L608.8 664.9L609.4 664.5L609.9 664.3L610.5 664.2L611 664.4L611.6 664.9L612.2 665.4L612.7 666.1L613.3 666.8L613.8 667.5L614.4 668.2L615 668.7L615.5 669.1L616.1 669.4L616.6 669.6L617.2 669.6L617.8 669.6L618.3 669.4L618.9 669.1L619.4 668.5L620 667.7L620.6 666.5L621.1 665.1L621.7 663.5L622.2 661.8L622.8 660L623.4 658.2L623.9 656.4L624.5 654.7L625 653.3L625.6 652.1L626.2 651.3L626.7 650.9L627.3 650.9L627.8 651.2L628.4 651.8L629 652.4L629.5 653.2L630.1 653.9L630.6 654.8L631.2 655.6L631.8 656.5L632.3 657.4L632.9 658.4L633.5 659.3L634 660.3L634.6 661.4L635.1 662.6L635.7 663.9L636.3 665.4L636.8 667.2L637.4 669.1L637.9 671.3L638.5 673.5L639.1 675.9L639.6 678.3L640.2 680.7L640.7 683.2L641.3 685.7L641.9 688.3L642.4 690.9L643 693.5L643.5 695.8L644.1 697.9L644.7 699.4L645.2 700.4L645.8 700.8L646.3 700.6L646.9 700.1L647.5 699.3L648 698.5L648.6 697.8L649.1 697.1L649.7 696.5L650.3 696L650.8 695.7L651.4 695.3L651.9 694.8L652.5 694.2L653.1 693.4L653.6 692.1L654.2 690.3L654.7 687.9L655.3 685.1L655.9 681.8L656.4 678.3L657 674.7L657.5 670.9L658.1 667.2L658.7 663.5L659.2 659.9L659.8 656.4L660.4 653.2L660.9 650.4L661.5 648.2L662 646.9L662.6 646.3L663.2 646.6L663.7 647.6L664.3 649.1L664.8 651.2L665.4 653.7L666 656.4L666.5 659.4L667.1 662.3L667.6 665L668.2 667.4L668.8 669.4L669.3 671L669.9 672.2L670.4 673.3L671 674.1L671.6 674.8L672.1 675.5L672.7 676L673.2 676.5L673.8 676.9L674.4 677.2L674.9 677.4L675.5 677.5L676 677.5L676.6 677.4L677.2 677L677.7 676.3L678.3 675.3L678.8 674.1L679.4 672.7L680 671.3L680.5 670L681.1 668.8L681.6 668L682.2 667.5L682.8 667.3L683.3 667.4L683.9 667.7L684.4 668.3L685 669.3L685.6 670.7L686.1 672.6L686.7 675.2L687.2 678.3L687.8 681.9L688.4 685.7L688.9 689.6L689.5 693.3L690.1 696.7L690.6 699.7L691.2 702.3L691.7 704.5L692.3 706.4L692.9 707.8L693.4 708.7L694 709.2L694.5 709.1L695.1 708.4L695.7 707.4L696.2 706.1L696.8 704.8L697.3 703.5L697.9 702.4L698.5 701.5L699 700.9L699.6 700.4L700.1 700.2L700.7 700L701.3 700L701.8 700L702.4 700.2L702.9 700.5L703.5 700.8L704.1 701.3L704.6 701.9L705.2 702.5L705.7 703.1L706.3 703.8L706.9 704.6L707.4 705.4L708 706.2L708.5 707.1L709.1 707.8L709.7 708.4L710.2 708.7L710.8 708.6L711.3 707.8L711.9 706.4L712.5 704.4L713 701.8L713.6 698.9L714.1 695.7L714.7 692.3L715.3 688.7L715.8 685.1L716.4 681.3L717 677.5L717.5 673.7L718.1 670L718.6 666.6L719.2 663.5L719.8 660.7L720.3 658.2L720.9 656L721.4 654.1L722 652.5L722.6 651.2L723.1 650.5L723.7 650.4L724.2 651.1L724.8 652.6L725.4 654.7L725.9 657.4L726.5 660.5L727 664L727.6 667.7L728.2 671.6L728.7 675.4L729.3 679L729.8 682L730.4 684.2L731 685.3L731.5 685.1L732.1 683.9L732.6 681.8L733.2 679.2L733.8 676.3L734.3 673.4L734.9 670.6L735.4 668L736 665.8L736.6 663.9L737.1 662.6L737.7 661.8L738.2 661.5L738.8 661.7L739.4 662.1L739.9 662.8L740.5 663.7L741 664.7L741.6 665.7L742.2 666.9L742.7 668.2L743.3 669.5L743.9 670.9L744.4 672.5L745 674.1L745.5 675.8L746.1 677.6L746.7 679.6L747.2 681.5L747.8 683.6L748.3 685.6L748.9 687.7L749.5 689.7L750 691.8L750.6 693.8L751.1 695.8L751.7 697.8L752.3 699.7L752.8 701.3L753.4 702.5L753.9 703.2L754.5 703.1L755.1 702.3L755.6 700.8L756.2 698.8L756.7 696.4L757.3 693.8L757.9 691.3L758.4 688.8L759 686.5L759.5 684.4L760.1 682.5L760.7 680.8L761.2 679.4L761.8 678.4L762.3 678L762.9 678L763.5 678.5L764 679.4L764.6 680.5L765.1 681.7L765.7 682.7L766.3 683.5L766.8 683.8L767.4 683.7L767.9 683.1L768.5 682.1L769.1 680.6L769.6 678.8L770.2 676.6L770.7 674.1L771.3 671.4L771.9 668.5L772.4 665.7L773 663.1L773.6 660.7L774.1 658.8L774.7 657.4L775.2 656.5L775.8 656.1L776.4 656L776.9 656.3L777.5 656.9L778 657.8L778.6 658.9L779.2 660.2L779.7 661.5L780.3 662.8L780.8 664L781.4 665.1L782 665.9L782.5 666.6L783.1 667L783.6 667.2L784.2 667.3L784.8 667.4L785.3 667.4L785.9 667.5L786.4 667.5L787 667.6L787.6 667.8L788.1 668.3L788.7 668.9L789.2 669.8L789.8 671L790.4 672.4L790.9 674.1L791.5 675.8L792 677.7L792.6 679.6L793.2 681.6L793.7 683.6L794.3 685.7L794.8 687.8L795.4 689.9L796 692.1L796.5 694.1L797.1 695.9L797.6 697.4L798.2 698.6L798.8 699.3L799.3 699.6L799.9 699.5L800.5 699L801 698.3L801.6 697.3L802.1 696.1L802.7 694.6L803.3 692.9L803.8 691L804.4 689L804.9 687L805.5 685L806.1 683.1L806.6 681.3L807.2 679.6L807.7 678.1L808.3 676.7L808.9 675.3L809.4 674L810 672.7L810.5 671.7L811.1 670.8L811.7 670.2L812.2 670L812.8 669.9L813.3 670.2L813.9 670.5L814.5 671L815 671.4L815.6 671.9L816.1 672.1L816.7 672.1L817.3 671.7L817.8 670.7L818.4 669.2L818.9 667L819.5 664.4L820.1 661.5L820.6 658.4L821.2 655.4L821.7 652.4L822.3 649.6L822.9 646.9L823.4 644.5L824 642.1L824.5 639.9L825.1 637.9L825.7 636L826.2 634.5L826.8 633.2L827.3 632.2L827.9 631.5L828.5 630.9L829 630.4L829.6 629.9L830.2 629.4L830.7 628.8L831.3 628.3L831.8 627.9L832.4 627.8L833 628.1L833.5 628.9L834.1 630.1L834.6 631.6L835.2 633.3L835.8 635.2L836.3 637.1L836.9 639.1L837.4 641L838 642.9L838.6 644.7L839.1 646.2L839.7 647.5L840.2 648.5L840.8 649.3L841.4 649.7L841.9 650L842.5 650.2L843 650.4L843.6 650.7L844.2 651L844.7 651.5L845.3 652L845.8 652.5L846.4 653.1L847 653.6L847.5 654L848.1 654.4L848.6 654.5L849.2 654.5L849.8 654.4L850.3 654.1L850.9 653.8L851.4 653.6L852 653.6L852.6 653.8L853.1 654.5L853.7 655.6L854.2 657.1L854.8 658.9L855.4 661L855.9 663.3L856.5 665.7L857.1 668.1L857.6 670.5L858.2 672.9L858.7 675.4L859.3 677.8L859.9 680L860.4 682.2L861 684L861.5 685.5L862.1 686.6L862.7 687.2L863.2 687.4L863.8 687.4L864.3 687.1L864.9 686.7L865.5 686.4L866 686.2L866.6 686.1L867.1 686.2L867.7 686.6L868.3 687.1L868.8 687.7L869.4 688.2L869.9 688.4L870.5 688.2L871.1 687.4L871.6 685.9L872.2 683.9L872.7 681.3L873.3 678.5L873.9 675.4L874.4 672.2L875 669L875.5 665.8L876.1 662.6L876.7 659.5L877.2 656.4L877.8 653.3L878.3 650.4L878.9 647.6L879.5 645.2L880 643L880.6 641L881.1 639.3L881.7 637.9L882.3 636.6L882.8 635.6L883.4 634.8L884 634.4L884.5 634.4L885.1 634.8L885.6 635.6L886.2 636.8L886.8 638.1L887.3 639.5L887.9 641L888.4 642.4L889 643.9L889.6 645.3L890.1 646.7L890.7 648.2L891.2 649.8L891.8 651.5L892.4 653.4L892.9 655.5L893.5 657.7L894 659.9L894.6 662.3L895.2 664.6L895.7 666.9L896.3 669.1L896.8 671.2L897.4 673L898 674.5L898.5 675.5L899.1 675.9L899.6 675.6L900.2 674.6L900.8 673.1L901.3 671.2L901.9 669.1L902.4 667.1L903 665.3L903.6 663.8L904.1 662.8L904.7 662.2L905.2 662L905.8 662.3L906.4 663L906.9 664.1L907.5 665.4L908 667.1L908.6 668.9L909.2 671L909.7 673.4L910.3 675.8L910.8 678.3L911.4 680.7L912 682.8L912.5 684.6L913.1 686.1L913.7 687.4L914.2 688.5L914.8 689.5L915.3 690.5L915.9 691.4L916.5 692.2L917 693.1L917.6 693.9L918.1 694.6L918.7 695.1L919.3 695.4L919.8 695.4L920.4 694.9L920.9 693.9L921.5 692.6L922.1 690.8L922.6 689L923.2 687.1L923.7 685.4L924.3 683.9L924.9 682.8L925.4 681.9L926 681.4L926.5 681.1L927.1 681.1L927.7 681.3L928.2 681.8L928.8 682.7L929.3 683.8L929.9 685.1L930.5 686.6L931 688.1L931.6 689.7L932.1 691.2L932.7 692.6L933.3 693.9L933.8 695.1L934.4 696.2L934.9 697.3L935.5 698.3L936.1 699.4L936.6 700.5L937.2 701.7L937.7 703.1L938.3 704.6L938.9 706.3L939.4 708L940 709.8L940.6 711.5L941.1 713.3L941.7 714.9L942.2 716.5L942.8 718L943.4 719.5L943.9 720.9L944.5 722.2L945 723.4L945.6 724.5L946.2 725.3L946.7 726L947.3 726.5L947.8 726.8L948.4 726.9L949 726.6L949.5 726L950.1 725L950.6 723.6L951.2 722L951.8 720.2L952.3 718.2L952.9 716.3L953.4 714.2L954 712.2L954.6 710.2L955.1 708.1L955.7 706.2L956.2 704.3L956.8 702.6L957.4 701.1L957.9 700L958.5 699.2L959 698.8L959.6 698.7L960.2 698.9L960.7 699.1L961.3 699.5L961.8 700L962.4 700.6L963 701.4L963.5 702.2L964.1 703.1L964.6 704.2L965.2 705.2L965.8 706.3L966.3 707.4L966.9 708.4L967.4 709.4L968 710.4L968.6 711.3L969.1 712.1L969.7 712.9L970.3 713.4L970.8 713.8L971.4 713.7L971.9 713.1L972.5 711.9L973.1 710L973.6 707.7L974.2 704.9L974.7 701.9L975.3 698.7L975.9 695.4L976.4 692L977 688.6L977.5 685.1L978.1 681.7L978.7 678.4L979.2 675.3L979.8 672.7L980.3 670.6L980.9 669.2L981.5 668.6L982 668.6L982.6 669.2L983.1 670.1L983.7 671.2L984.3 672.4L984.8 673.6L985.4 674.7L985.9 675.7L986.5 676.5L987.1 677.1L987.6 677.2L988.2 677L988.7 676.3L989.3 675.3L989.9 674.1L990.4 672.8L991 671.4L991.5 670.1L992.1 669L992.7 668L993.2 667.4L993.8 666.9L994.3 666.6L994.9 666.5L995.5 666.5L996 666.7L996.6 667.1L997.2 667.6L997.7 668.3L998.3 669.1L998.8 669.8L999.4 670.5L1000 671L1000.5 671.2L1001.1 671.3L1001.6 671.1L1002.2 670.7L1002.8 670.2L1003.3 669.6L1003.9 669.1L1004.4 668.5L1005 668.1L1005.6 667.7L1006.1 667.5L1006.7 667.4L1007.2 667.4L1007.8 667.6L1008.4 667.7L1008.9 668L1009.5 668.2L1010 668.5L1010.6 668.9L1011.2 669.3L1011.7 669.8L1012.3 670.4L1012.8 671.1L1013.4 671.8L1014 672.5L1014.5 673.3L1015.1 674L1015.6 674.6L1016.2 675.1L1016.8 675.5L1017.3 675.5L1017.9 675.2L1018.4 674.6L1019 673.7L1019.6 672.6L1020.1 671.3L1020.7 669.9L1021.2 668.2L1021.8 666.5L1022.4 664.5L1022.9 662.3L1023.5 659.9L1024 657.3L1024.6 654.7L1025.2 651.9L1025.7 649.2L1026.3 646.6L1026.9 644L1027.4 641.5L1028 639L1028.5 636.7L1029.1 634.4L1029.7 632.3L1030.2 630.2L1030.8 628.4L1031.3 626.9L1031.9 625.6L1032.5 624.7L1033 624.2L1033.6 623.9L1034.1 623.7L1034.7 623.8L1035.3 624L1035.8 624.5L1036.4 625.2L1036.9 626.2L1037.5 627.4L1038.1 628.9L1038.6 630.7L1039.2 632.6L1039.7 634.8L1040.3 637.2L1040.9 639.8L1041.4 642.7L1042 645.8L1042.5 649.1L1043.1 652.6L1043.7 656.2L1044.2 659.9L1044.8 663.8L1045.3 667.7L1045.9 671.6L1046.5 675.1L1047 678.2L1047.6 680.8L1048.1 682.6L1048.7 683.9L1049.3 684.7L1049.8 685.2L1050.4 685.4L1050.9 685.3L1051.5 685.1L1052.1 684.7L1052.6 684.1L1053.2 683.4L1053.8 682.7L1054.3 681.9L1054.9 681.1L1055.4 680.4L1056 679.8L1056.6 679.4L1057.1 679.3L1057.7 679.5L1058.2 680.2L1058.8 681.3L1059.4 682.7L1059.9 684.4L1060.5 686.2L1061 688.3L1061.6 690.5L1062.2 692.8L1062.7 695.4L1063.3 698L1063.8 700.6L1064.4 703.3L1065 705.9L1065.5 708.3L1066.1 710.5L1066.6 712.5L1067.2 714.2L1067.8 715.6L1068.3 716.8L1068.9 717.6L1069.4 718.2L1070 718.5L1070.6 718.5L1071.1 718.2L1071.7 717.8L1072.2 717.3L1072.8 716.5L1073.4 715.4L1073.9 713.9L1074.5 712L1075 709.6L1075.6 706.7L1076.2 703.2L1076.7 699.2L1077.3 694.7L1077.8 689.8L1078.4 684.7L1079 679.5L1079.5 674.5L1080.1 670L1080.7 666L1081.2 662.5L1081.8 659.5L1082.3 657.1L1082.9 655.2L1083.5 653.9L1084 653.2L1084.6 653.3L1085.1 654.1L1085.7 655.7L1086.3 657.8L1086.8 660.4L1087.4 663.6L1087.9 667L1088.5 670.7L1089.1 674.3L1089.6 677.7L1090.2 680.8L1090.7 683.5L1091.3 686L1091.9 688.3L1092.4 690.5L1093 692.6L1093.5 694.7L1094.1 696.8L1094.7 699L1095.2 701.2L1095.8 703.4L1096.3 705.7L1096.9 708L1097.5 710.3L1098 712.6L1098.6 714.8L1099.1 716.8L1099.7 718.5L1100.3 719.7L1100.8 720.4L1101.4 720.5L1101.9 720.2L1102.5 719.4L1103.1 718.4L1103.6 717.1L1104.2 715.6L1104.7 713.9L1105.3 712.1L1105.9 710.1L1106.4 708.1L1107 706.1L1107.5 704.1L1108.1 702.3L1108.7 700.6L1109.2 699.1L1109.8 697.8L1110.4 696.5L1110.9 695.3L1111.5 694.2L1112 693.1L1112.6 692.1L1113.2 691.2L1113.7 690.6L1114.3 690.1L1114.8 690.1L1115.4 690.3L1116 690.8L1116.5 691.5L1117.1 692.3L1117.6 693.2L1118.2 694.1L1118.8 694.9L1119.3 695.6L1119.9 696.2L1120.4 696.6L1121 696.9L1121.6 697.1L1122.1 697.1L1122.7 696.9L1123.2 696.5L1123.8 695.9L1124.4 695.1L1124.9 694.2L1125.5 693.2L1126 692.2L1126.6 691.4L1127.2 690.7L1127.7 690.1L1128.3 689.8L1128.8 689.5L1129.4 689.3L1130 689.1L1130.5 688.7L1131.1 688.1L1131.6 687.1L1132.2 685.7L1132.8 684L1133.3 681.9L1133.9 679.5L1134.4 677L1135 674.5L1135.6 671.9L1136.1 669.3L1136.7 666.8L1137.3 664.4L1137.8 662L1138.4 659.9L1138.9 658L1139.5 656.3L1140.1 655.1L1140.6 654.2L1141.2 653.6L1141.7 653.2L1142.3 653L1142.9 653L1143.4 653L1144 653.1L1144.5 653.4L1145.1 653.7L1145.7 654.2L1146.2 654.8L1146.8 655.4L1147.3 656.3L1147.9 657.3L1148.5 658.5L1149 660.2L1149.6 662.2L1150.1 664.5L1150.7 667.3L1151.3 670.3L1151.8 673.5L1152.4 677L1152.9 680.6L1153.5 684.2L1154.1 687.9L1154.6 691.3L1155.2 694.2L1155.7 696.6L1156.3 698.1L1156.9 698.9L1157.4 698.8L1158 698.2L1158.5 697.2L1159.1 695.9L1159.7 694.5L1160.2 693L1160.8 691.4L1161.3 689.9L1161.9 688.3L1162.5 686.8L1163 685.4L1163.6 684.2L1164.2 683.2L1164.7 682.6L1165.3 682.4L1165.8 682.6L1166.4 683L1167 683.6L1167.5 684.4L1168.1 685.2L1168.6 686L1169.2 686.7L1169.8 687.1L1170.3 687.2L1170.9 686.8L1171.4 685.9L1172 684.5L1172.6 682.6L1173.1 680.4L1173.7 678.1L1174.2 675.6L1174.8 673.1L1175.4 670.6L1175.9 668.2L1176.5 665.9L1177 663.8L1177.6 661.9L1178.2 660.3L1178.7 658.8L1179.3 657.4L1179.8 656.2L1180.4 655L1181 653.7L1181.5 652.4L1182.1 651.1L1182.6 649.8L1183.2 648.5L1183.8 647.3L1184.3 646.3L1184.9 645.5L1185.4 645.1L1186 645L1186.6 645.4L1187.1 646.1L1187.7 647.2L1188.2 648.8L1188.8 650.8L1189.4 653.2L1189.9 656L1190.5 658.9L1191 662L1191.6 665L1192.2 667.8L1192.7 670.4L1193.3 672.7L1193.9 674.6L1194.4 676.2L1195 677.3L1195.5 677.8L1196.1 677.8L1196.7 677.3L1197.2 676.2L1197.8 674.8L1198.3 673.2L1198.9 671.6L1199.5 670.1L1200 668.8L1200.6 667.7L1201.1 666.8L1201.7 666.2L1202.3 665.9L1202.8 665.8L1203.4 666.2L1203.9 666.9L1204.5 668L1205.1 669.3L1205.6 670.8L1206.2 672.3L1206.7 674L1207.3 675.6L1207.9 677.2L1208.4 678.7L1209 680.1L1209.5 681.3L1210.1 682.3L1210.7 682.9L1211.2 683L1211.8 682.6L1212.3 681.8L1212.9 680.7L1213.5 679.3L1214 677.8L1214.6 676.2L1215.1 674.5L1215.7 672.7L1216.3 670.9L1216.8 669.1L1217.4 667.4L1217.9 665.7L1218.5 664.2L1219.1 662.9L1219.6 661.7L1220.2 660.7L1220.8 659.8L1221.3 659L1221.9 658.1L1222.4 657.2L1223 656.1L1223.6 655L1224.1 653.8L1224.7 652.6L1225.2 651.5L1225.8 650.6L1226.4 649.9L1226.9 649.7L1227.5 649.9L1228 650.4L1228.6 651.3L1229.2 652.5L1229.7 653.9L1230.3 655.4L1230.8 657.1L1231.4 658.8L1232 660.4L1232.5 661.9L1233.1 663L1233.6 663.9L1234.2 664.4" stroke="#fdd835" stroke-width="1.1" fill="none" stroke-linejoin="round"/>
</g>
<text x="1307.9" y="80.9" textLength="41.7" lengthAdjust="spacingAndGlyphs" font-family="'Liberation Sans','Noto Sans CJK JP',sans-serif" font-size="14" font-weight="normal" fill="#b2b5be">10,000</text>
<text x="1307.9" y="134.2" textLength="35.2" lengthAdjust="spacingAndGlyphs" font-family="'Liberation Sans','Noto Sans CJK JP',sans-serif" font-size="14" font-weight="normal" fill="#b2b5be">9,000</text>
<text x="1307.9" y="187.5" textLength="35.2" lengthAdjust="spacingAndGlyphs" font-family="'Liberation Sans','Noto Sans CJK JP',sans-serif" font-size="14" font-weight="normal" fill="#b2b5be">8,000</text>
<text x="1307.9" y="240.9" textLength="35.2" lengthAdjust="spacingAndGlyphs" font-family="'Liberation Sans','Noto Sans CJK JP',sans-serif" font-size="14" font-weight="normal" fill="#b2b5be">7,000</text>
<text x="1307.9" y="294.2" textLength="35.2" lengthAdjust="spacingAndGlyphs" font-family="'Liberation Sans','Noto Sans CJK JP',sans-serif" font-size="14" font-weight="normal" fill="#b2b5be">6,000</text>
<text x="1307.9" y="347.5" textLength="35.2" lengthAdjust="spacingAndGlyphs" font-family="'Liberation Sans','Noto Sans CJK JP',sans-serif" font-size="14" font-weight="normal" fill="#b2b5be">5,000</text>
<text x="1307.9" y="400.8" textLength="35.2" lengthAdjust="spacingAndGlyphs" font-family="'Liberation Sans','Noto Sans CJK JP',sans-serif" font-size="14" font-weight="normal" fill="#b2b5be">4,000</text>
<text x="1307.9" y="454.1" textLength="46.2" lengthAdjust="spacingAndGlyphs" font-family="'Liberation Sans','Noto Sans CJK JP',sans-serif" font-size="14" font-weight="normal" fill="#b2b5be">3,000.0</text>
<text x="1307.9" y="507.5" textLength="46.2" lengthAdjust="spacingAndGlyphs" font-family="'Liberation Sans','Noto Sans CJK JP',sans-serif" font-size="14" font-weight="normal" fill="#b2b5be">2,000.0</text>
<text x="1307.9" y="560.8" textLength="46.2" lengthAdjust="spacingAndGlyphs" font-family="'Liberation Sans','Noto Sans CJK JP',sans-serif" font-size="14" font-weight="normal" fill="#b2b5be">1,000.0</text>
<text x="1307.6" y="652" textLength="34.5" lengthAdjust="spacingAndGlyphs" font-family="'Liberation Sans','Noto Sans CJK JP',sans-serif" font-size="14" font-weight="normal" fill="#b2b5be">60.00</text>
<text x="1307.6" y="699.5" textLength="34.5" lengthAdjust="spacingAndGlyphs" font-family="'Liberation Sans','Noto Sans CJK JP',sans-serif" font-size="14" font-weight="normal" fill="#b2b5be">40.00</text>
<rect x="1299" y="444.9" width="61" height="19" rx="1.5" fill="#2962ff"/>
<text x="1308.6" y="458.6" textLength="46.5" lengthAdjust="spacingAndGlyphs" font-family="'Liberation Sans','Noto Sans CJK JP',sans-serif" font-size="14" font-weight="normal" fill="#ffffff">2,580.8</text>
<rect x="1299" y="464.8" width="61" height="18.5" rx="1.5" fill="#089981"/>
<text x="1308.6" y="478.2" textLength="46.5" lengthAdjust="spacingAndGlyphs" font-family="'Liberation Sans','Noto Sans CJK JP',sans-serif" font-size="14" font-weight="normal" fill="#ffffff">2,562.5</text>
<rect x="1299" y="484.2" width="61" height="18.6" rx="1.5" fill="#ffeb3b"/>
<text x="1308.6" y="497.7" textLength="46.5" lengthAdjust="spacingAndGlyphs" font-family="'Liberation Sans','Noto Sans CJK JP',sans-serif" font-size="14" font-weight="normal" fill="#000000">2,537.7</text>
<rect x="1299" y="648.1" width="49" height="18.8" rx="1.5" fill="#fdd835"/>
<text x="1309" y="661.7" textLength="33.3" lengthAdjust="spacingAndGlyphs" font-family="'Liberation Sans','Noto Sans CJK JP',sans-serif" font-size="14" font-weight="normal" fill="#000000">52.13</text>
<rect x="1299" y="666.9" width="49" height="18.9" rx="1.5" fill="#7e57c2"/>
<text x="1308.2" y="680.5" textLength="34.1" lengthAdjust="spacingAndGlyphs" font-family="'Liberation Sans','Noto Sans CJK JP',sans-serif" font-size="14" font-weight="normal" fill="#ffffff">47.32</text>
<g clip-path="url(#ct)">
<text x="-0.2" y="750" textLength="31.8" lengthAdjust="spacingAndGlyphs" font-family="'Liberation Sans','Noto Sans CJK JP',sans-serif" font-size="14" font-weight="bold" fill="#b2b5be">2017</text>
<text x="74.5" y="750" textLength="19.2" lengthAdjust="spacingAndGlyphs" font-family="'Liberation Sans','Noto Sans CJK JP',sans-serif" font-size="14" font-weight="normal" fill="#b2b5be" stroke="#b2b5be" stroke-width="0.3">7月</text>
<text x="138.8" y="750" textLength="31.8" lengthAdjust="spacingAndGlyphs" font-family="'Liberation Sans','Noto Sans CJK JP',sans-serif" font-size="14" font-weight="bold" fill="#b2b5be">2018</text>
<text x="212.5" y="750" textLength="19.2" lengthAdjust="spacingAndGlyphs" font-family="'Liberation Sans','Noto Sans CJK JP',sans-serif" font-size="14" font-weight="normal" fill="#b2b5be" stroke="#b2b5be" stroke-width="0.3">7月</text>
<text x="276.8" y="750" textLength="31.8" lengthAdjust="spacingAndGlyphs" font-family="'Liberation Sans','Noto Sans CJK JP',sans-serif" font-size="14" font-weight="bold" fill="#b2b5be">2019</text>
<text x="347.5" y="750" textLength="19.2" lengthAdjust="spacingAndGlyphs" font-family="'Liberation Sans','Noto Sans CJK JP',sans-serif" font-size="14" font-weight="normal" fill="#b2b5be" stroke="#b2b5be" stroke-width="0.3">7月</text>
<text x="411.8" y="750" textLength="31.8" lengthAdjust="spacingAndGlyphs" font-family="'Liberation Sans','Noto Sans CJK JP',sans-serif" font-size="14" font-weight="bold" fill="#b2b5be">2020</text>
<text x="484.5" y="750" textLength="19.2" lengthAdjust="spacingAndGlyphs" font-family="'Liberation Sans','Noto Sans CJK JP',sans-serif" font-size="14" font-weight="normal" fill="#b2b5be" stroke="#b2b5be" stroke-width="0.3">7月</text>
<text x="547.8" y="750" textLength="31.8" lengthAdjust="spacingAndGlyphs" font-family="'Liberation Sans','Noto Sans CJK JP',sans-serif" font-size="14" font-weight="bold" fill="#b2b5be">2021</text>
<text x="621.5" y="750" textLength="19.2" lengthAdjust="spacingAndGlyphs" font-family="'Liberation Sans','Noto Sans CJK JP',sans-serif" font-size="14" font-weight="normal" fill="#b2b5be" stroke="#b2b5be" stroke-width="0.3">7月</text>
<text x="685.8" y="750" textLength="31.8" lengthAdjust="spacingAndGlyphs" font-family="'Liberation Sans','Noto Sans CJK JP',sans-serif" font-size="14" font-weight="bold" fill="#b2b5be">2022</text>
<text x="759.5" y="750" textLength="19.2" lengthAdjust="spacingAndGlyphs" font-family="'Liberation Sans','Noto Sans CJK JP',sans-serif" font-size="14" font-weight="normal" fill="#b2b5be" stroke="#b2b5be" stroke-width="0.3">7月</text>
<text x="822.8" y="750" textLength="31.8" lengthAdjust="spacingAndGlyphs" font-family="'Liberation Sans','Noto Sans CJK JP',sans-serif" font-size="14" font-weight="bold" fill="#b2b5be">2023</text>
<text x="897.5" y="750" textLength="19.2" lengthAdjust="spacingAndGlyphs" font-family="'Liberation Sans','Noto Sans CJK JP',sans-serif" font-size="14" font-weight="normal" fill="#b2b5be" stroke="#b2b5be" stroke-width="0.3">7月</text>
<text x="961.8" y="750" textLength="31.8" lengthAdjust="spacingAndGlyphs" font-family="'Liberation Sans','Noto Sans CJK JP',sans-serif" font-size="14" font-weight="bold" fill="#b2b5be">2024</text>
<text x="1034.5" y="750" textLength="19.2" lengthAdjust="spacingAndGlyphs" font-family="'Liberation Sans','Noto Sans CJK JP',sans-serif" font-size="14" font-weight="normal" fill="#b2b5be" stroke="#b2b5be" stroke-width="0.3">7月</text>
<text x="1098.8" y="750" textLength="31.8" lengthAdjust="spacingAndGlyphs" font-family="'Liberation Sans','Noto Sans CJK JP',sans-serif" font-size="14" font-weight="bold" fill="#b2b5be">2025</text>
<text x="1171.5" y="750" textLength="19.2" lengthAdjust="spacingAndGlyphs" font-family="'Liberation Sans','Noto Sans CJK JP',sans-serif" font-size="14" font-weight="normal" fill="#b2b5be" stroke="#b2b5be" stroke-width="0.3">7月</text>
<text x="1235.8" y="750" textLength="31.8" lengthAdjust="spacingAndGlyphs" font-family="'Liberation Sans','Noto Sans CJK JP',sans-serif" font-size="14" font-weight="bold" fill="#b2b5be">2026</text>
</g>
<circle cx="563.6" cy="584.5" r="11.5" fill="#0f0f0f" stroke="#2962ff" stroke-width="2"/>
<text x="563.9" y="589.7" text-anchor="middle" font-family="Liberation Sans, sans-serif" font-size="13.6" font-weight="bold" fill="#2962ff">D</text>
<circle cx="631.5" cy="584.5" r="11.5" fill="#0f0f0f" stroke="#2962ff" stroke-width="2"/>
<text x="631.8" y="589.7" text-anchor="middle" font-family="Liberation Sans, sans-serif" font-size="13.6" font-weight="bold" fill="#2962ff">D</text>
<circle cx="700.5" cy="584.5" r="11.5" fill="#0f0f0f" stroke="#2962ff" stroke-width="2"/>
<text x="700.8" y="589.7" text-anchor="middle" font-family="Liberation Sans, sans-serif" font-size="13.6" font-weight="bold" fill="#2962ff">D</text>
<circle cx="769" cy="584.5" r="11.5" fill="#0f0f0f" stroke="#2962ff" stroke-width="2"/>
<text x="769.3" y="589.7" text-anchor="middle" font-family="Liberation Sans, sans-serif" font-size="13.6" font-weight="bold" fill="#2962ff">D</text>
<circle cx="838.5" cy="584.5" r="11.5" fill="#0f0f0f" stroke="#2962ff" stroke-width="2"/>
<text x="838.8" y="589.7" text-anchor="middle" font-family="Liberation Sans, sans-serif" font-size="13.6" font-weight="bold" fill="#2962ff">D</text>
<circle cx="907.3" cy="584.5" r="11.5" fill="#0f0f0f" stroke="#2962ff" stroke-width="2"/>
<text x="907.6" y="589.7" text-anchor="middle" font-family="Liberation Sans, sans-serif" font-size="13.6" font-weight="bold" fill="#2962ff">D</text>
<circle cx="977.7" cy="584.5" r="11.5" fill="#0f0f0f" stroke="#2962ff" stroke-width="2"/>
<text x="978" y="589.7" text-anchor="middle" font-family="Liberation Sans, sans-serif" font-size="13.6" font-weight="bold" fill="#2962ff">D</text>
<circle cx="1044.2" cy="584.5" r="11.5" fill="#0f0f0f" stroke="#2962ff" stroke-width="2"/>
<text x="1044.5" y="589.7" text-anchor="middle" font-family="Liberation Sans, sans-serif" font-size="13.6" font-weight="bold" fill="#2962ff">D</text>
<circle cx="1114.8" cy="584.5" r="11.5" fill="#0f0f0f" stroke="#2962ff" stroke-width="2"/>
<text x="1115.1" y="589.7" text-anchor="middle" font-family="Liberation Sans, sans-serif" font-size="13.6" font-weight="bold" fill="#2962ff">D</text>
<circle cx="1182" cy="584.5" r="11.5" fill="#0f0f0f" stroke="#2962ff" stroke-width="2"/>
<text x="1182.3" y="589.7" text-anchor="middle" font-family="Liberation Sans, sans-serif" font-size="13.6" font-weight="bold" fill="#2962ff">D</text>
<circle cx="1250.7" cy="584.5" r="11.5" fill="#0f0f0f" stroke="#2962ff" stroke-width="2"/>
<text x="1251" y="589.7" text-anchor="middle" font-family="Liberation Sans, sans-serif" font-size="13.6" font-weight="bold" fill="#2962ff">D</text>
<circle cx="1233" cy="584.3" r="11" fill="none" stroke="#7e57c2" stroke-opacity="0.5" stroke-width="2"/>
<path d="M982.4 575H1002.4V591L992.4 597L982.4 591Z" fill="#0f0f0f" stroke="#e0313f" stroke-width="2" stroke-linejoin="round"/>
<text x="992.7" y="590" text-anchor="middle" font-family="Liberation Sans, sans-serif" font-size="13.6" font-weight="bold" fill="#e0313f">E</text>
<path d="M1015.3 575H1035.3V591L1025.3 597L1015.3 591Z" fill="#0f0f0f" stroke="#e0313f" stroke-width="2" stroke-linejoin="round"/>
<text x="1025.6" y="590" text-anchor="middle" font-family="Liberation Sans, sans-serif" font-size="13.6" font-weight="bold" fill="#e0313f">E</text>
<path d="M1050.7 575H1070.7V591L1060.7 597L1050.7 591Z" fill="#0f0f0f" stroke="#e0313f" stroke-width="2" stroke-linejoin="round"/>
<text x="1061" y="590" text-anchor="middle" font-family="Liberation Sans, sans-serif" font-size="13.6" font-weight="bold" fill="#e0313f">E</text>
<path d="M1084.5 575H1104.5V591L1094.5 597L1084.5 591Z" fill="#0f0f0f" stroke="#e0313f" stroke-width="2" stroke-linejoin="round"/>
<text x="1094.8" y="590" text-anchor="middle" font-family="Liberation Sans, sans-serif" font-size="13.6" font-weight="bold" fill="#e0313f">E</text>
<path d="M1119.3 575H1139.3V591L1129.3 597L1119.3 591Z" fill="#0f0f0f" stroke="#e0313f" stroke-width="2" stroke-linejoin="round"/>
<text x="1129.6" y="590" text-anchor="middle" font-family="Liberation Sans, sans-serif" font-size="13.6" font-weight="bold" fill="#e0313f">E</text>
<path d="M1152.4 579L1162.4 572.5L1172.4 579V595H1152.4Z" fill="#0f0f0f" stroke="#0f9a80" stroke-width="2" stroke-linejoin="round"/>
<text x="1162.7" y="590.2" text-anchor="middle" font-family="Liberation Sans, sans-serif" font-size="13.6" font-weight="bold" fill="#0f9a80">E</text>
<path d="M1186.8 579L1196.8 572.5L1206.8 579V595H1186.8Z" fill="#0f0f0f" stroke="#0f9a80" stroke-width="2" stroke-linejoin="round"/>
<text x="1197.1" y="590.2" text-anchor="middle" font-family="Liberation Sans, sans-serif" font-size="13.6" font-weight="bold" fill="#0f9a80">E</text>
<path d="M1222.4 575H1242.4V591L1232.4 597L1222.4 591Z" fill="#0f0f0f" stroke="#e0313f" stroke-width="2" stroke-linejoin="round"/>
<text x="1232.7" y="590" text-anchor="middle" font-family="Liberation Sans, sans-serif" font-size="13.6" font-weight="bold" fill="#e0313f">E</text>
<rect x="1257.5" y="574.5" width="20" height="19.5" rx="2" fill="#0f0f0f" stroke="#e21be2" stroke-width="2"/>
<text x="1269" y="590" text-anchor="middle" font-family="Liberation Sans, sans-serif" font-size="13.6" font-weight="bold" fill="#e21be2">E</text>
<rect x="1255" y="580.5" width="6" height="8" fill="#0f0f0f"/>
<text x="1257.7" y="590" text-anchor="middle" font-family="DejaVu Sans, sans-serif" font-size="14" font-weight="bold" fill="#e21be2">≈</text>
<text x="19.9" y="52.3" textLength="40.8" lengthAdjust="spacingAndGlyphs" font-family="'Liberation Sans','Noto Sans CJK JP',sans-serif" font-size="14" font-weight="normal" fill="#b2b5be">資生堂</text>
<text x="66.9" y="54.4" text-anchor="middle" font-family="Liberation Sans,sans-serif" font-size="19" font-weight="bold" fill="#b2b5be">·</text>
<text x="74.2" y="52.3" textLength="18.9" lengthAdjust="spacingAndGlyphs" font-family="'Liberation Sans','Noto Sans CJK JP',sans-serif" font-size="14" font-weight="normal" fill="#b2b5be">1日</text>
<text x="100.9" y="54.4" text-anchor="middle" font-family="Liberation Sans,sans-serif" font-size="19" font-weight="bold" fill="#b2b5be">·</text>
<text x="107" y="52.3" textLength="22.6" lengthAdjust="spacingAndGlyphs" font-family="'Liberation Sans','Noto Sans CJK JP',sans-serif" font-size="14" font-weight="normal" fill="#b2b5be">TSE</text>
<text x="137" y="52.3" textLength="26.8" lengthAdjust="spacingAndGlyphs" font-family="'Liberation Sans','Noto Sans CJK JP',sans-serif" font-size="14" font-weight="normal" fill="#b2b5be">始値</text>
<text x="163.9" y="52.3" textLength="46" lengthAdjust="spacingAndGlyphs" font-family="'Liberation Sans','Noto Sans CJK JP',sans-serif" font-size="14" font-weight="normal" fill="#0b9c83">2,485.5</text>
<text x="217.5" y="52.3" textLength="26.7" lengthAdjust="spacingAndGlyphs" font-family="'Liberation Sans','Noto Sans CJK JP',sans-serif" font-size="14" font-weight="normal" fill="#b2b5be">高値</text>
<text x="244.3" y="52.3" textLength="47.1" lengthAdjust="spacingAndGlyphs" font-family="'Liberation Sans','Noto Sans CJK JP',sans-serif" font-size="14" font-weight="normal" fill="#0b9c83">2,708.0</text>
<text x="298" y="52.3" textLength="27.7" lengthAdjust="spacingAndGlyphs" font-family="'Liberation Sans','Noto Sans CJK JP',sans-serif" font-size="14" font-weight="normal" fill="#b2b5be">安値</text>
<text x="324.9" y="52.3" textLength="46" lengthAdjust="spacingAndGlyphs" font-family="'Liberation Sans','Noto Sans CJK JP',sans-serif" font-size="14" font-weight="normal" fill="#0b9c83">2,481.0</text>
<text x="377.5" y="52.3" textLength="27.7" lengthAdjust="spacingAndGlyphs" font-family="'Liberation Sans','Noto Sans CJK JP',sans-serif" font-size="14" font-weight="normal" fill="#b2b5be">終値</text>
<text x="404.4" y="52.3" textLength="45.9" lengthAdjust="spacingAndGlyphs" font-family="'Liberation Sans','Noto Sans CJK JP',sans-serif" font-size="14" font-weight="normal" fill="#0b9c83">2,562.5</text>
<text x="459" y="52.3" textLength="33.6" lengthAdjust="spacingAndGlyphs" font-family="'Liberation Sans','Noto Sans CJK JP',sans-serif" font-size="14" font-weight="normal" fill="#0b9c83">−23.0</text>
<text x="496.2" y="52.6" textLength="51.3" lengthAdjust="spacingAndGlyphs" font-family="'Liberation Sans','Noto Sans CJK JP',sans-serif" font-size="14" font-weight="normal" fill="#0b9c83">(−0.89%)</text>
<text x="19.3" y="71.2" textLength="318.7" lengthAdjust="spacingAndGlyphs" font-family="'Liberation Sans','Noto Sans CJK JP',sans-serif" font-size="14" font-weight="normal" fill="#b2b5be">3ma (10, close, SMA, 50, close, SMA, 50, close, SMA)</text>
<text x="346.6" y="71.2" textLength="45.3" lengthAdjust="spacingAndGlyphs" font-family="'Liberation Sans','Noto Sans CJK JP',sans-serif" font-size="14" font-weight="normal" fill="#2962ff">2,580.8</text>
<text x="399.6" y="71.2" textLength="46.3" lengthAdjust="spacingAndGlyphs" font-family="'Liberation Sans','Noto Sans CJK JP',sans-serif" font-size="14" font-weight="bold" fill="#ffeb3b">2,537.7</text>
<text x="54.6" y="802.9" textLength="136.2" lengthAdjust="spacingAndGlyphs" font-family="'Liberation Sans','Noto Sans CJK JP',sans-serif" font-size="23.7" font-weight="normal" fill="#dedede" stroke="#dedede" stroke-width="1.1" stroke-linejoin="round">TradingView</text>
<rect x="1303.25" y="35" width="58" height="28" rx="6" fill="#0f0f0f" stroke="#3a3a3a" stroke-width="1.5"/>
<text x="1312.6" y="54" textLength="23.5" lengthAdjust="spacingAndGlyphs" font-family="'Liberation Sans','Noto Sans CJK JP',sans-serif" font-size="14" font-weight="normal" fill="#dbdbdb" stroke="#dbdbdb" stroke-width="0.3">JPY</text>
<text x="11.7" y="21.8" textLength="394.9" lengthAdjust="spacingAndGlyphs" font-family="'Liberation Sans','Noto Sans CJK JP',sans-serif" font-size="14" font-weight="normal" fill="#dcdcdc" stroke="#dcdcdc" stroke-width="0.35">11月 11, 2025 23:19 UTC+9、backy0226がTradingView.comで作成</text>
</svg>
<svg class="logo" width="36" height="20" viewBox="0 0 36 20"><path d="M1 1.5H15V19H8.5V10H1Z" fill="#dedede"/><circle cx="20" cy="4.8" r="3.2" fill="#dedede"/><path d="M27 1.5H35L27.5 19H19.5Z" fill="#dedede"/></svg>
</body></html>
